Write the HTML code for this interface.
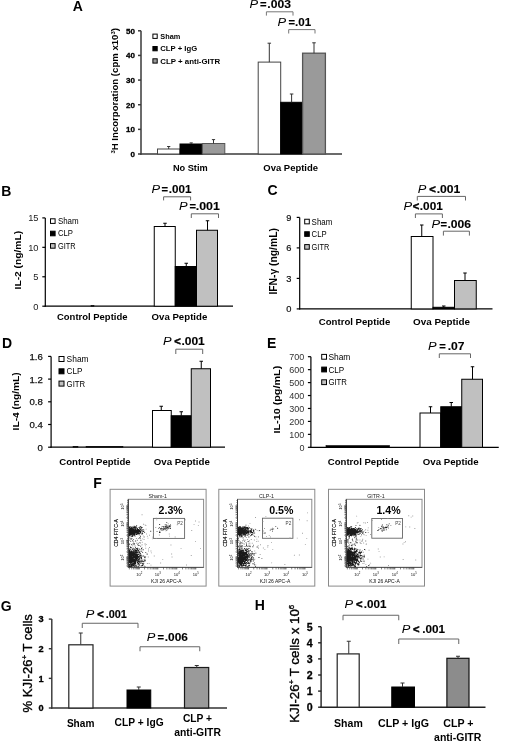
<!DOCTYPE html>
<html><head><meta charset="utf-8"><title>Figure</title>
<style>
html,body{margin:0;padding:0;background:#fff;}
body{width:520px;height:741px;overflow:hidden;}
svg{display:block;font-family:"Liberation Sans",sans-serif;filter:grayscale(1);}
</style></head><body>
<svg width="520" height="741" viewBox="0 0 520 741">
<rect width="520" height="741" fill="#fff"/>
<text x="72.8" y="11" font-size="14" font-weight="bold" text-anchor="start" fill="#000" >A</text>
<line x1="141" y1="30.8" x2="141" y2="154.7" stroke="#3a3a3a" stroke-width="1.5"/>
<line x1="140.3" y1="154" x2="342" y2="154" stroke="#3a3a3a" stroke-width="1.5"/>
<line x1="138" y1="30.8" x2="141" y2="30.8" stroke="#3a3a3a" stroke-width="1.5"/>
<text x="135" y="33.68" font-size="8" font-weight="bold" text-anchor="end" fill="#000"  stroke="#000" stroke-width="0.3">50</text>
<line x1="138" y1="55.44" x2="141" y2="55.44" stroke="#3a3a3a" stroke-width="1.5"/>
<text x="135" y="58.32" font-size="8" font-weight="bold" text-anchor="end" fill="#000"  stroke="#000" stroke-width="0.3">40</text>
<line x1="138" y1="80.08" x2="141" y2="80.08" stroke="#3a3a3a" stroke-width="1.5"/>
<text x="135" y="82.96" font-size="8" font-weight="bold" text-anchor="end" fill="#000"  stroke="#000" stroke-width="0.3">30</text>
<line x1="138" y1="104.72" x2="141" y2="104.72" stroke="#3a3a3a" stroke-width="1.5"/>
<text x="135" y="107.6" font-size="8" font-weight="bold" text-anchor="end" fill="#000"  stroke="#000" stroke-width="0.3">20</text>
<line x1="138" y1="129.36" x2="141" y2="129.36" stroke="#3a3a3a" stroke-width="1.5"/>
<text x="135" y="132.24" font-size="8" font-weight="bold" text-anchor="end" fill="#000"  stroke="#000" stroke-width="0.3">10</text>
<line x1="138" y1="154" x2="141" y2="154" stroke="#3a3a3a" stroke-width="1.5"/>
<text x="135" y="156.88" font-size="8" font-weight="bold" text-anchor="end" fill="#000"  stroke="#000" stroke-width="0.3">0</text>
<rect x="157.5" y="149" width="22.5" height="5" fill="#fff" stroke="#444" stroke-width="1"/>
<rect x="180" y="144" width="22.3" height="10" fill="#000" stroke="#000" stroke-width="1"/>
<rect x="202.3" y="143.5" width="22.5" height="10.5" fill="#9a9a9a" stroke="#555" stroke-width="1"/>
<path d="M168.7 149V146.5M167.1 146.5H170.3" stroke="#333" stroke-width="1" fill="none"/>
<path d="M191.2 144V142.9M189.6 142.9H192.8" stroke="#333" stroke-width="1" fill="none"/>
<path d="M213.5 143.5V139.6M211.9 139.6H215.1" stroke="#333" stroke-width="1" fill="none"/>
<rect x="258.2" y="62.1" width="22.5" height="91.9" fill="#fff" stroke="#444" stroke-width="1"/>
<rect x="280.7" y="102.3" width="21.9" height="51.7" fill="#000" stroke="#000" stroke-width="1"/>
<rect x="302.6" y="53.2" width="22.8" height="100.8" fill="#9a9a9a" stroke="#555" stroke-width="1.3"/>
<path d="M269.3 62.1V43.2M267.55 43.2H271.05" stroke="#333" stroke-width="1" fill="none"/>
<path d="M291.6 102.3V94M289.85 94H293.35" stroke="#333" stroke-width="1" fill="none"/>
<path d="M314 53.2V42.8M312.25 42.8H315.75" stroke="#333" stroke-width="1" fill="none"/>
<rect x="152.9" y="34.1" width="4.3" height="4.3" fill="#fff" stroke="#000" stroke-width="1"/>
<text x="160.3" y="38.99" font-size="7.6" font-weight="bold" text-anchor="start" fill="#000" textLength="20" lengthAdjust="spacingAndGlyphs" >Sham</text>
<rect x="152.9" y="46.5" width="4.3" height="4.3" fill="#000" stroke="#000" stroke-width="1"/>
<text x="160.3" y="51.39" font-size="7.6" font-weight="bold" text-anchor="start" fill="#000" textLength="36.9" lengthAdjust="spacingAndGlyphs" >CLP + IgG</text>
<rect x="152.9" y="58.8" width="4.3" height="4.3" fill="#9a9a9a" stroke="#000" stroke-width="1"/>
<text x="160.3" y="63.69" font-size="7.6" font-weight="bold" text-anchor="start" fill="#000" textLength="60" lengthAdjust="spacingAndGlyphs" >CLP + anti-GITR</text>
<text x="172.9" y="171" font-size="9.2" font-weight="bold" text-anchor="start" fill="#000" textLength="34.8" lengthAdjust="spacingAndGlyphs" >No Stim</text>
<text x="263.3" y="171" font-size="9.4" font-weight="bold" text-anchor="start" fill="#000" textLength="54.7" lengthAdjust="spacingAndGlyphs" >Ova Peptide</text>
<text x="249.5" y="8.4" font-size="11.2" font-style="italic" textLength="8.6" lengthAdjust="spacingAndGlyphs">P</text>
<text x="259.9" y="8.4" font-size="11.2" font-weight="bold" stroke="#000" stroke-width="0.2">=</text>
<text x="267.3" y="8.4" font-size="11.2" font-weight="bold" stroke="#000" stroke-width="0.12" textLength="23.6" lengthAdjust="spacingAndGlyphs">.003</text>
<path d="M266.4 15.6V11.8H293V15.6" stroke="#777" stroke-width="1" fill="none"/>
<text x="277.5" y="25.6" font-size="11.2" font-style="italic" textLength="8.6" lengthAdjust="spacingAndGlyphs">P</text>
<text x="288.4" y="25.6" font-size="11.2" font-weight="bold" stroke="#000" stroke-width="0.2">=</text>
<text x="295.1" y="25.6" font-size="11.2" font-weight="bold" stroke="#000" stroke-width="0.12" textLength="16.1" lengthAdjust="spacingAndGlyphs">.01</text>
<path d="M288.7 33.5V29.6H315V33.5" stroke="#777" stroke-width="1" fill="none"/>
<text transform="translate(118.4,90.8) rotate(-90)" font-size="9.6" font-weight="bold" text-anchor="middle"><tspan font-size="6" dy="-3">3</tspan><tspan dy="3">H Incorporation (cpm x10</tspan><tspan font-size="6" dy="-3">3</tspan><tspan dy="3">)</tspan></text>
<text x="1.3" y="195.8" font-size="14" font-weight="bold" text-anchor="start" fill="#000" >B</text>
<line x1="45.3" y1="217.9" x2="45.3" y2="306.8" stroke="#000" stroke-width="1.2"/>
<line x1="44.7" y1="306.2" x2="233" y2="306.2" stroke="#000" stroke-width="1.2"/>
<line x1="42.3" y1="217.9" x2="45.3" y2="217.9" stroke="#000" stroke-width="1.2"/>
<text x="38.5" y="221.25" font-size="9.3" font-weight="normal" text-anchor="end" fill="#222" >15</text>
<line x1="42.3" y1="247.33" x2="45.3" y2="247.33" stroke="#000" stroke-width="1.2"/>
<text x="38.5" y="250.68" font-size="9.3" font-weight="normal" text-anchor="end" fill="#222" >10</text>
<line x1="42.3" y1="276.77" x2="45.3" y2="276.77" stroke="#000" stroke-width="1.2"/>
<text x="38.5" y="280.11" font-size="9.3" font-weight="normal" text-anchor="end" fill="#222" >5</text>
<line x1="42.3" y1="306.2" x2="45.3" y2="306.2" stroke="#000" stroke-width="1.2"/>
<text x="38.5" y="309.55" font-size="9.3" font-weight="normal" text-anchor="end" fill="#222" >0</text>
<rect x="91" y="305.5" width="3" height="0.7" fill="#000" stroke="#000" stroke-width="0.5"/>
<rect x="154.25" y="226.5" width="21" height="79.7" fill="#fff" stroke="#000" stroke-width="1"/>
<rect x="175.25" y="266.5" width="21.25" height="39.7" fill="#000" stroke="#000" stroke-width="1"/>
<rect x="196.5" y="230.25" width="21" height="75.95" fill="#c0c0c0" stroke="#000" stroke-width="1"/>
<path d="M165 226.5V223.25M163.25 223.25H166.75" stroke="#000" stroke-width="1" fill="none"/>
<path d="M186.25 266.5V263.25M184.5 263.25H188" stroke="#000" stroke-width="1" fill="none"/>
<path d="M207.5 230.25V220.75M205.75 220.75H209.25" stroke="#000" stroke-width="1" fill="none"/>
<rect x="50.5" y="218.8" width="4.6" height="4.6" fill="#fff" stroke="#000" stroke-width="1"/>
<text x="57.9" y="224.09" font-size="8.3" font-weight="normal" text-anchor="start" fill="#000" textLength="20.8" lengthAdjust="spacingAndGlyphs" >Sham</text>
<rect x="50.5" y="231.2" width="4.6" height="4.6" fill="#000" stroke="#000" stroke-width="1"/>
<text x="57.9" y="236.49" font-size="8.3" font-weight="normal" text-anchor="start" fill="#000" textLength="15" lengthAdjust="spacingAndGlyphs" >CLP</text>
<rect x="50.5" y="243.6" width="4.6" height="4.6" fill="#c0c0c0" stroke="#000" stroke-width="1"/>
<text x="57.9" y="248.89" font-size="8.3" font-weight="normal" text-anchor="start" fill="#000" textLength="17.7" lengthAdjust="spacingAndGlyphs" >GITR</text>
<text x="57" y="319.8" font-size="9.5" font-weight="bold" text-anchor="start" fill="#000" textLength="70.5" lengthAdjust="spacingAndGlyphs" >Control Peptide</text>
<text x="151.5" y="319.8" font-size="9.5" font-weight="bold" text-anchor="start" fill="#000" textLength="55.8" lengthAdjust="spacingAndGlyphs" >Ova Peptide</text>
<text x="151.5" y="192.6" font-size="11.2" font-style="italic" textLength="8.6" lengthAdjust="spacingAndGlyphs">P</text>
<text x="161.4" y="192.6" font-size="11.2" font-weight="bold" stroke="#000" stroke-width="0.2">=</text>
<text x="168.8" y="192.6" font-size="11.2" font-weight="bold" stroke="#000" stroke-width="0.12" textLength="22.7" lengthAdjust="spacingAndGlyphs">.001</text>
<path d="M163.6 200.4V196.8H190.6V200.4" stroke="#666" stroke-width="1" fill="none"/>
<text x="179" y="209.8" font-size="11.2" font-style="italic" textLength="8.6" lengthAdjust="spacingAndGlyphs">P</text>
<text x="189.4" y="209.8" font-size="11.2" font-weight="bold" stroke="#000" stroke-width="0.2">=</text>
<text x="195.8" y="209.8" font-size="11.2" font-weight="bold" stroke="#000" stroke-width="0.12" textLength="24.1" lengthAdjust="spacingAndGlyphs">.001</text>
<path d="M191.3 218V213.8H218.5V218" stroke="#666" stroke-width="1" fill="none"/>
<text transform="translate(20.8,260.15) rotate(-90)" x="0" y="0" font-size="9.8" font-weight="bold" text-anchor="middle" textLength="58.5" lengthAdjust="spacingAndGlyphs">IL-2 (ng/mL)</text>
<text x="267.4" y="195" font-size="14" font-weight="bold" text-anchor="start" fill="#000" >C</text>
<line x1="299.7" y1="217.4" x2="299.7" y2="309.5" stroke="#000" stroke-width="1.2"/>
<line x1="299.1" y1="308.9" x2="492.5" y2="308.9" stroke="#000" stroke-width="1.2"/>
<line x1="296.7" y1="217.4" x2="299.7" y2="217.4" stroke="#000" stroke-width="1.2"/>
<text x="291.5" y="220.75" font-size="9.3" font-weight="normal" text-anchor="end" fill="#111"  stroke="#111" stroke-width="0.2">9</text>
<line x1="296.7" y1="247.9" x2="299.7" y2="247.9" stroke="#000" stroke-width="1.2"/>
<text x="291.5" y="251.25" font-size="9.3" font-weight="normal" text-anchor="end" fill="#111"  stroke="#111" stroke-width="0.2">6</text>
<line x1="296.7" y1="278.4" x2="299.7" y2="278.4" stroke="#000" stroke-width="1.2"/>
<text x="291.5" y="281.75" font-size="9.3" font-weight="normal" text-anchor="end" fill="#111"  stroke="#111" stroke-width="0.2">3</text>
<line x1="296.7" y1="308.9" x2="299.7" y2="308.9" stroke="#000" stroke-width="1.2"/>
<text x="291.5" y="312.25" font-size="9.3" font-weight="normal" text-anchor="end" fill="#111"  stroke="#111" stroke-width="0.2">0</text>
<rect x="411.25" y="236.5" width="21.75" height="72.4" fill="#fff" stroke="#000" stroke-width="1"/>
<rect x="433" y="307.3" width="21.5" height="1.6" fill="#000" stroke="#000" stroke-width="1"/>
<rect x="454.5" y="280.5" width="21.75" height="28.4" fill="#c0c0c0" stroke="#000" stroke-width="1"/>
<path d="M421.75 236.5V225M420 225H423.5" stroke="#000" stroke-width="1" fill="none"/>
<path d="M443.75 307.3V306M442 306H445.5" stroke="#000" stroke-width="1" fill="none"/>
<path d="M465 280.5V273M463.25 273H466.75" stroke="#000" stroke-width="1" fill="none"/>
<rect x="304.7" y="219.25" width="4.6" height="4.6" fill="#fff" stroke="#000" stroke-width="1"/>
<text x="311.6" y="224.54" font-size="8.3" font-weight="normal" text-anchor="start" fill="#000" textLength="20.8" lengthAdjust="spacingAndGlyphs" >Sham</text>
<rect x="304.7" y="231.75" width="4.6" height="4.6" fill="#000" stroke="#000" stroke-width="1"/>
<text x="311.6" y="237.04" font-size="8.3" font-weight="normal" text-anchor="start" fill="#000" textLength="15" lengthAdjust="spacingAndGlyphs" >CLP</text>
<rect x="304.7" y="244.6" width="4.6" height="4.6" fill="#c0c0c0" stroke="#000" stroke-width="1"/>
<text x="311.6" y="249.89" font-size="8.3" font-weight="normal" text-anchor="start" fill="#000" textLength="17.7" lengthAdjust="spacingAndGlyphs" >GITR</text>
<text x="318.8" y="324.9" font-size="9.5" font-weight="bold" text-anchor="start" fill="#000" textLength="71.5" lengthAdjust="spacingAndGlyphs" >Control Peptide</text>
<text x="413" y="324.9" font-size="9.5" font-weight="bold" text-anchor="start" fill="#000" textLength="57" lengthAdjust="spacingAndGlyphs" >Ova Peptide</text>
<text x="417.8" y="192.6" font-size="11.2" font-style="italic" textLength="8.6" lengthAdjust="spacingAndGlyphs">P</text>
<text x="429.3" y="192.6" font-size="11.2" font-weight="bold" stroke="#000" stroke-width="0.45">&lt;</text>
<text x="436.7" y="192.6" font-size="11.2" font-weight="bold" stroke="#000" stroke-width="0.12" textLength="23.6" lengthAdjust="spacingAndGlyphs">.001</text>
<path d="M417.3 200.5V196.4H465.5V200.5" stroke="#666" stroke-width="1" fill="none"/>
<text x="403.5" y="210.4" font-size="11.2" font-style="italic" textLength="8.6" lengthAdjust="spacingAndGlyphs">P</text>
<text x="412.7" y="210.4" font-size="11.2" font-weight="bold" stroke="#000" stroke-width="0.45">&lt;</text>
<text x="419.85" y="210.4" font-size="11.2" font-weight="bold" stroke="#000" stroke-width="0.12" textLength="22.95" lengthAdjust="spacingAndGlyphs">.001</text>
<path d="M415.4 218V213.9H442.4V218" stroke="#666" stroke-width="1" fill="none"/>
<text x="431.5" y="227.5" font-size="11.2" font-style="italic" textLength="8.6" lengthAdjust="spacingAndGlyphs">P</text>
<text x="440.5" y="227.5" font-size="11.2" font-weight="bold" stroke="#000" stroke-width="0.2">=</text>
<text x="447.4" y="227.5" font-size="11.2" font-weight="bold" stroke="#000" stroke-width="0.12" textLength="23.6" lengthAdjust="spacingAndGlyphs">.006</text>
<path d="M443.4 235.6V231.2H469.4V235.6" stroke="#666" stroke-width="1" fill="none"/>
<text transform="translate(276.8,261.35) rotate(-90)" x="0" y="0" font-size="10.3" font-weight="bold" text-anchor="middle" textLength="66.5" lengthAdjust="spacingAndGlyphs">IFN-γ (ng/mL)</text>
<text x="1.9" y="347.7" font-size="14" font-weight="bold" text-anchor="start" fill="#000" >D</text>
<line x1="51.1" y1="356.4" x2="51.1" y2="447.8" stroke="#000" stroke-width="1.2"/>
<line x1="50.5" y1="447.2" x2="225" y2="447.2" stroke="#000" stroke-width="1.2"/>
<line x1="48.1" y1="356.4" x2="51.1" y2="356.4" stroke="#000" stroke-width="1.2"/>
<text x="42.8" y="359.86" font-size="9.6" font-weight="normal" text-anchor="end" fill="#111"  stroke="#111" stroke-width="0.25">1.6</text>
<line x1="48.1" y1="379.1" x2="51.1" y2="379.1" stroke="#000" stroke-width="1.2"/>
<text x="42.8" y="382.56" font-size="9.6" font-weight="normal" text-anchor="end" fill="#111"  stroke="#111" stroke-width="0.25">1.2</text>
<line x1="48.1" y1="401.8" x2="51.1" y2="401.8" stroke="#000" stroke-width="1.2"/>
<text x="42.8" y="405.26" font-size="9.6" font-weight="normal" text-anchor="end" fill="#111"  stroke="#111" stroke-width="0.25">0.8</text>
<line x1="48.1" y1="424.5" x2="51.1" y2="424.5" stroke="#000" stroke-width="1.2"/>
<text x="42.8" y="427.96" font-size="9.6" font-weight="normal" text-anchor="end" fill="#111"  stroke="#111" stroke-width="0.25">0.4</text>
<line x1="48.1" y1="447.2" x2="51.1" y2="447.2" stroke="#000" stroke-width="1.2"/>
<text x="42.8" y="450.66" font-size="9.6" font-weight="normal" text-anchor="end" fill="#111"  stroke="#111" stroke-width="0.25">0</text>
<rect x="73" y="446.3" width="5" height="0.9" fill="#000" stroke="#000" stroke-width="0.5"/>
<rect x="86" y="446.3" width="37" height="0.9" fill="#000" stroke="#000" stroke-width="0.5"/>
<rect x="152.5" y="410.5" width="18.75" height="36.7" fill="#fff" stroke="#000" stroke-width="1"/>
<rect x="171.25" y="415.75" width="20" height="31.45" fill="#000" stroke="#000" stroke-width="1"/>
<rect x="191.25" y="368.75" width="19.25" height="78.45" fill="#c0c0c0" stroke="#000" stroke-width="1"/>
<path d="M161.25 410.5V406.25M159.5 406.25H163" stroke="#000" stroke-width="1" fill="none"/>
<path d="M181.25 415.75V411.75M179.5 411.75H183" stroke="#000" stroke-width="1" fill="none"/>
<path d="M201.25 368.75V361.25M199.5 361.25H203" stroke="#000" stroke-width="1" fill="none"/>
<rect x="59" y="356.5" width="5" height="5" fill="#fff" stroke="#000" stroke-width="1"/>
<text x="66.6" y="362.17" font-size="8.8" font-weight="normal" text-anchor="start" fill="#000" textLength="22" lengthAdjust="spacingAndGlyphs" >Sham</text>
<rect x="59" y="368.8" width="5" height="5" fill="#000" stroke="#000" stroke-width="1"/>
<text x="66.6" y="374.47" font-size="8.8" font-weight="normal" text-anchor="start" fill="#000" textLength="15.8" lengthAdjust="spacingAndGlyphs" >CLP</text>
<rect x="59" y="381.1" width="5" height="5" fill="#c0c0c0" stroke="#000" stroke-width="1"/>
<text x="66.6" y="386.77" font-size="8.8" font-weight="normal" text-anchor="start" fill="#000" textLength="18.6" lengthAdjust="spacingAndGlyphs" >GITR</text>
<text x="59.3" y="464.6" font-size="9.5" font-weight="bold" text-anchor="start" fill="#000" textLength="71.3" lengthAdjust="spacingAndGlyphs" >Control Peptide</text>
<text x="153.8" y="464.6" font-size="9.5" font-weight="bold" text-anchor="start" fill="#000" textLength="56" lengthAdjust="spacingAndGlyphs" >Ova Peptide</text>
<text x="163.1" y="345.3" font-size="11.2" font-style="italic" textLength="8.6" lengthAdjust="spacingAndGlyphs">P</text>
<text x="174.3" y="345.3" font-size="11.2" font-weight="bold" stroke="#000" stroke-width="0.45">&lt;</text>
<text x="181.4" y="345.3" font-size="11.2" font-weight="bold" stroke="#000" stroke-width="0.12" textLength="23.4" lengthAdjust="spacingAndGlyphs">.001</text>
<path d="M175.8 354V349.2H202.7V354" stroke="#666" stroke-width="1" fill="none"/>
<text transform="translate(18.6,401.4) rotate(-90)" x="0" y="0" font-size="9.6" font-weight="bold" text-anchor="middle" textLength="58" lengthAdjust="spacingAndGlyphs">IL-4 (ng/mL)</text>
<text x="267.1" y="347.7" font-size="14" font-weight="bold" text-anchor="start" fill="#000" >E</text>
<line x1="310.9" y1="356.7" x2="310.9" y2="447.9" stroke="#000" stroke-width="1.2"/>
<line x1="310.3" y1="447.3" x2="498.75" y2="447.3" stroke="#000" stroke-width="1.2"/>
<line x1="307.9" y1="356.7" x2="310.9" y2="356.7" stroke="#000" stroke-width="1.2"/>
<text x="304.4" y="359.94" font-size="9" font-weight="normal" text-anchor="end" fill="#333" >700</text>
<line x1="307.9" y1="369.64" x2="310.9" y2="369.64" stroke="#000" stroke-width="1.2"/>
<text x="304.4" y="372.88" font-size="9" font-weight="normal" text-anchor="end" fill="#333" >600</text>
<line x1="307.9" y1="382.59" x2="310.9" y2="382.59" stroke="#000" stroke-width="1.2"/>
<text x="304.4" y="385.83" font-size="9" font-weight="normal" text-anchor="end" fill="#333" >500</text>
<line x1="307.9" y1="395.53" x2="310.9" y2="395.53" stroke="#000" stroke-width="1.2"/>
<text x="304.4" y="398.77" font-size="9" font-weight="normal" text-anchor="end" fill="#333" >400</text>
<line x1="307.9" y1="408.47" x2="310.9" y2="408.47" stroke="#000" stroke-width="1.2"/>
<text x="304.4" y="411.71" font-size="9" font-weight="normal" text-anchor="end" fill="#333" >300</text>
<line x1="307.9" y1="421.41" x2="310.9" y2="421.41" stroke="#000" stroke-width="1.2"/>
<text x="304.4" y="424.65" font-size="9" font-weight="normal" text-anchor="end" fill="#333" >200</text>
<line x1="307.9" y1="434.36" x2="310.9" y2="434.36" stroke="#000" stroke-width="1.2"/>
<text x="304.4" y="437.6" font-size="9" font-weight="normal" text-anchor="end" fill="#333" >100</text>
<line x1="307.9" y1="447.3" x2="310.9" y2="447.3" stroke="#000" stroke-width="1.2"/>
<text x="304.4" y="450.54" font-size="9" font-weight="normal" text-anchor="end" fill="#333" >0</text>
<rect x="326" y="445.6" width="63.5" height="1.7" fill="#000" stroke="#000" stroke-width="0.6"/>
<rect x="420" y="413" width="20.75" height="34.3" fill="#fff" stroke="#000" stroke-width="1"/>
<rect x="440.75" y="406.75" width="21" height="40.55" fill="#000" stroke="#000" stroke-width="1"/>
<rect x="461.75" y="379.25" width="20.75" height="68.05" fill="#c0c0c0" stroke="#000" stroke-width="1"/>
<path d="M430.5 413V406.75M428.75 406.75H432.25" stroke="#000" stroke-width="1" fill="none"/>
<path d="M451.25 406.75V402.5M449.5 402.5H453" stroke="#000" stroke-width="1" fill="none"/>
<path d="M472.5 379.25V366.75M470.75 366.75H474.25" stroke="#000" stroke-width="1" fill="none"/>
<rect x="321.7" y="354.4" width="4.8" height="4.8" fill="#fff" stroke="#000" stroke-width="1"/>
<text x="328.4" y="359.97" font-size="8.8" font-weight="normal" text-anchor="start" fill="#000" textLength="22" lengthAdjust="spacingAndGlyphs" >Sham</text>
<rect x="321.7" y="367.1" width="4.8" height="4.8" fill="#000" stroke="#000" stroke-width="1"/>
<text x="328.4" y="372.67" font-size="8.8" font-weight="normal" text-anchor="start" fill="#000" textLength="15.8" lengthAdjust="spacingAndGlyphs" >CLP</text>
<rect x="321.7" y="379.8" width="4.8" height="4.8" fill="#c0c0c0" stroke="#000" stroke-width="1"/>
<text x="328.4" y="385.37" font-size="8.8" font-weight="normal" text-anchor="start" fill="#000" textLength="18.6" lengthAdjust="spacingAndGlyphs" >GITR</text>
<text x="327.8" y="464.6" font-size="9.5" font-weight="bold" text-anchor="start" fill="#000" textLength="71.2" lengthAdjust="spacingAndGlyphs" >Control Peptide</text>
<text x="422.8" y="464.6" font-size="9.5" font-weight="bold" text-anchor="start" fill="#000" textLength="55.8" lengthAdjust="spacingAndGlyphs" >Ova Peptide</text>
<text x="427.9" y="350.1" font-size="11.2" font-style="italic" textLength="8.6" lengthAdjust="spacingAndGlyphs">P</text>
<text x="439.3" y="350.1" font-size="11.2" font-weight="bold" stroke="#000" stroke-width="0.2">=</text>
<text x="447.7" y="350.1" font-size="11.2" font-weight="bold" stroke="#000" stroke-width="0.12" textLength="16.8" lengthAdjust="spacingAndGlyphs">.07</text>
<path d="M439.3 358V353.8H470.5V358" stroke="#666" stroke-width="1" fill="none"/>
<text transform="translate(280.2,399.65) rotate(-90)" x="0" y="0" font-size="9.8" font-weight="bold" text-anchor="middle" textLength="67.9" lengthAdjust="spacingAndGlyphs">IL-10 (pg/mL)</text>
<text x="93.2" y="487.9" font-size="14" font-weight="bold" text-anchor="start" fill="#000" >F</text>
<rect x="110.1" y="489.3" width="96" height="96.8" fill="#fff" stroke="#8a8a8a" stroke-width="1"/>
<rect x="128.3" y="499.3" width="75.3" height="68.1" fill="#fff" stroke="#8a8a8a" stroke-width="1"/>
<text x="157.75" y="498.1" font-size="5.3" font-weight="normal" text-anchor="middle" fill="#222" >Sham-1</text>
<text x="170.7" y="513.6" font-size="10.6" font-weight="bold" text-anchor="middle" fill="#000" >2.3%</text>
<rect x="153.4" y="518.4" width="31.2" height="20" fill="none" stroke="#666" stroke-width="0.9"/>
<text x="180.1" y="524.7" font-size="4.6" font-weight="normal" text-anchor="middle" fill="#444" >P2</text>
<path d="M130.3 541.0h.9v.9h-.9zM133.2 541.5h.9v.9h-.9zM137.1 544.3h.9v.9h-.9zM139.8 542.6h.9v.9h-.9zM139.2 537.1h.9v.9h-.9zM131.1 543.9h.9v.9h-.9zM139.3 541.9h.9v.9h-.9zM139.6 538.1h.9v.9h-.9zM132.2 540.1h.9v.9h-.9zM137.5 542.7h.9v.9h-.9zM140.4 539.7h.9v.9h-.9zM136.9 539.8h.9v.9h-.9zM129.4 539.9h.9v.9h-.9zM138.2 538.2h.9v.9h-.9zM130.4 537.8h.9v.9h-.9zM129.1 544.1h.9v.9h-.9zM130.9 544.3h.9v.9h-.9zM130.7 539.1h.9v.9h-.9zM137.9 542.9h.9v.9h-.9zM130.4 538.5h.9v.9h-.9zM128.7 544.3h.9v.9h-.9zM128.9 538.4h.9v.9h-.9zM132.9 543.2h.9v.9h-.9zM132.9 539.1h.9v.9h-.9zM133.6 544.2h.9v.9h-.9zM132.4 543.5h.9v.9h-.9zM132.3 545.4h.9v.9h-.9zM139.9 537.6h.9v.9h-.9zM134.6 545.6h.9v.9h-.9zM143.8 536.4h.9v.9h-.9zM131.3 537.9h.9v.9h-.9zM144.6 543.6h.9v.9h-.9zM132.3 540.6h.9v.9h-.9zM140.5 540.2h.9v.9h-.9zM135.9 542.7h.9v.9h-.9zM135.9 538.2h.9v.9h-.9zM131.6 537.9h.9v.9h-.9zM129.6 546.0h.9v.9h-.9zM129.3 543.2h.9v.9h-.9zM143.6 536.5h.9v.9h-.9zM141.6 544.4h.9v.9h-.9zM140.0 545.9h.9v.9h-.9zM133.4 543.4h.9v.9h-.9zM138.7 545.1h.9v.9h-.9zM130.3 538.4h.9v.9h-.9zM162.5 528.2h.9v.9h-.9zM156.6 531.1h.9v.9h-.9zM160.4 528.7h.9v.9h-.9zM161.9 528.2h.9v.9h-.9zM163.2 528.1h.9v.9h-.9zM158.3 528.1h.9v.9h-.9zM168.7 526.0h.9v.9h-.9zM163.0 526.9h.9v.9h-.9zM168.9 527.7h.9v.9h-.9zM161.0 528.5h.9v.9h-.9zM163.3 528.3h.9v.9h-.9zM165.0 528.2h.9v.9h-.9zM169.1 525.3h.9v.9h-.9zM160.3 528.7h.9v.9h-.9zM161.2 528.1h.9v.9h-.9zM166.3 527.9h.9v.9h-.9zM166.3 530.1h.9v.9h-.9zM159.0 530.8h.9v.9h-.9zM169.2 526.2h.9v.9h-.9zM168.6 525.1h.9v.9h-.9zM170.1 524.3h.9v.9h-.9zM167.9 526.2h.9v.9h-.9zM165.4 526.2h.9v.9h-.9zM165.4 527.4h.9v.9h-.9zM167.7 523.4h.9v.9h-.9zM161.9 529.7h.9v.9h-.9zM164.1 527.4h.9v.9h-.9zM163.8 529.2h.9v.9h-.9zM165.2 528.3h.9v.9h-.9zM164.7 524.3h.9v.9h-.9z" fill="#666"/>
<path d="M129.3 533.5h.9v.9h-.9zM134.3 533.0h.9v.9h-.9zM130.3 530.5h.9v.9h-.9zM140.1 531.3h.9v.9h-.9zM129.0 532.5h.9v.9h-.9zM135.5 530.9h.9v.9h-.9zM132.2 529.1h.9v.9h-.9zM130.9 530.1h.9v.9h-.9zM136.7 528.0h.9v.9h-.9zM138.5 530.5h.9v.9h-.9zM129.7 530.4h.9v.9h-.9zM129.1 528.3h.9v.9h-.9zM129.2 531.5h.9v.9h-.9zM133.2 529.3h.9v.9h-.9zM131.1 527.0h.9v.9h-.9zM131.7 526.6h.9v.9h-.9zM137.2 533.2h.9v.9h-.9zM141.9 532.6h.9v.9h-.9zM130.7 530.4h.9v.9h-.9zM131.5 532.1h.9v.9h-.9zM135.0 530.5h.9v.9h-.9zM132.3 529.8h.9v.9h-.9zM134.6 530.9h.9v.9h-.9zM133.4 533.1h.9v.9h-.9zM139.9 528.8h.9v.9h-.9zM134.4 526.8h.9v.9h-.9zM140.1 526.2h.9v.9h-.9zM130.4 529.9h.9v.9h-.9zM138.6 527.0h.9v.9h-.9zM135.1 529.5h.9v.9h-.9zM129.6 529.7h.9v.9h-.9zM132.5 528.7h.9v.9h-.9zM129.2 531.7h.9v.9h-.9zM139.7 526.2h.9v.9h-.9zM137.9 532.9h.9v.9h-.9zM131.6 531.6h.9v.9h-.9zM131.5 534.3h.9v.9h-.9zM130.0 530.6h.9v.9h-.9zM130.1 530.6h.9v.9h-.9zM129.8 529.2h.9v.9h-.9zM141.1 527.2h.9v.9h-.9zM150.3 530.8h.9v.9h-.9zM129.6 531.7h.9v.9h-.9zM129.9 530.7h.9v.9h-.9zM130.7 532.9h.9v.9h-.9zM131.4 530.3h.9v.9h-.9zM140.3 532.1h.9v.9h-.9zM134.6 535.6h.9v.9h-.9zM133.4 529.8h.9v.9h-.9zM135.7 531.6h.9v.9h-.9zM133.7 528.9h.9v.9h-.9zM136.5 530.0h.9v.9h-.9zM135.3 530.1h.9v.9h-.9zM137.4 532.3h.9v.9h-.9zM129.1 532.7h.9v.9h-.9zM135.9 530.7h.9v.9h-.9zM129.6 530.9h.9v.9h-.9zM135.5 532.3h.9v.9h-.9zM136.9 531.3h.9v.9h-.9zM130.1 530.5h.9v.9h-.9zM133.4 529.4h.9v.9h-.9zM131.1 529.3h.9v.9h-.9zM131.3 527.8h.9v.9h-.9zM130.8 531.1h.9v.9h-.9zM135.6 526.4h.9v.9h-.9zM128.7 533.2h.9v.9h-.9zM133.1 530.0h.9v.9h-.9zM132.1 532.3h.9v.9h-.9zM134.2 533.0h.9v.9h-.9zM130.5 532.8h.9v.9h-.9zM128.9 530.5h.9v.9h-.9zM137.6 529.6h.9v.9h-.9zM130.3 532.3h.9v.9h-.9zM130.2 529.6h.9v.9h-.9zM131.2 533.0h.9v.9h-.9zM129.6 530.1h.9v.9h-.9zM131.1 532.6h.9v.9h-.9zM131.9 529.1h.9v.9h-.9zM130.9 530.0h.9v.9h-.9zM133.2 533.5h.9v.9h-.9zM133.6 529.6h.9v.9h-.9zM129.2 532.0h.9v.9h-.9zM132.5 530.8h.9v.9h-.9zM132.7 527.4h.9v.9h-.9zM130.7 532.5h.9v.9h-.9zM131.7 528.3h.9v.9h-.9zM130.6 529.3h.9v.9h-.9zM132.1 532.2h.9v.9h-.9zM130.0 529.5h.9v.9h-.9zM132.2 532.7h.9v.9h-.9zM134.1 532.0h.9v.9h-.9zM131.8 530.4h.9v.9h-.9zM143.1 531.1h.9v.9h-.9zM141.6 527.0h.9v.9h-.9zM142.2 533.0h.9v.9h-.9zM132.5 530.4h.9v.9h-.9zM129.0 527.2h.9v.9h-.9zM132.5 528.9h.9v.9h-.9zM130.0 532.8h.9v.9h-.9zM129.0 531.7h.9v.9h-.9zM132.9 530.1h.9v.9h-.9zM129.4 530.4h.9v.9h-.9zM136.3 529.2h.9v.9h-.9zM140.0 529.0h.9v.9h-.9zM135.1 529.5h.9v.9h-.9zM138.6 531.3h.9v.9h-.9zM131.1 532.5h.9v.9h-.9zM132.5 528.9h.9v.9h-.9zM140.9 533.4h.9v.9h-.9zM132.9 529.8h.9v.9h-.9zM128.9 535.0h.9v.9h-.9zM139.1 531.5h.9v.9h-.9zM131.1 532.1h.9v.9h-.9zM139.5 530.2h.9v.9h-.9zM133.7 534.1h.9v.9h-.9zM138.3 529.3h.9v.9h-.9zM129.0 530.8h.9v.9h-.9zM137.0 528.1h.9v.9h-.9zM133.2 531.5h.9v.9h-.9zM129.6 533.4h.9v.9h-.9zM134.7 532.1h.9v.9h-.9zM128.8 530.9h.9v.9h-.9zM131.6 531.4h.9v.9h-.9zM130.3 531.5h.9v.9h-.9zM140.3 530.4h.9v.9h-.9zM134.8 532.2h.9v.9h-.9zM130.8 532.6h.9v.9h-.9zM133.8 533.3h.9v.9h-.9zM133.6 530.0h.9v.9h-.9zM130.6 532.7h.9v.9h-.9zM134.1 532.8h.9v.9h-.9zM129.9 529.1h.9v.9h-.9zM132.0 531.6h.9v.9h-.9zM134.4 532.9h.9v.9h-.9zM129.9 529.1h.9v.9h-.9zM131.3 528.3h.9v.9h-.9zM134.0 531.8h.9v.9h-.9zM138.0 531.1h.9v.9h-.9zM136.8 532.5h.9v.9h-.9zM133.1 531.4h.9v.9h-.9zM137.7 530.3h.9v.9h-.9zM134.4 531.9h.9v.9h-.9zM139.7 532.8h.9v.9h-.9zM134.1 530.2h.9v.9h-.9zM137.2 528.9h.9v.9h-.9zM129.2 533.2h.9v.9h-.9zM136.6 533.6h.9v.9h-.9zM135.3 527.4h.9v.9h-.9zM131.0 528.1h.9v.9h-.9zM129.5 528.4h.9v.9h-.9zM135.1 532.6h.9v.9h-.9zM132.0 531.0h.9v.9h-.9zM129.0 530.4h.9v.9h-.9zM131.0 531.5h.9v.9h-.9zM131.5 530.1h.9v.9h-.9zM140.1 531.6h.9v.9h-.9zM137.1 533.7h.9v.9h-.9zM134.0 527.6h.9v.9h-.9zM136.2 530.2h.9v.9h-.9zM129.2 530.5h.9v.9h-.9zM129.5 528.6h.9v.9h-.9zM129.3 530.1h.9v.9h-.9zM128.8 526.3h.9v.9h-.9zM133.6 531.7h.9v.9h-.9zM139.1 529.5h.9v.9h-.9zM128.9 532.3h.9v.9h-.9zM128.7 533.8h.9v.9h-.9zM128.8 529.0h.9v.9h-.9zM132.8 532.5h.9v.9h-.9zM132.4 532.7h.9v.9h-.9zM134.8 532.2h.9v.9h-.9zM134.8 530.7h.9v.9h-.9zM128.8 529.8h.9v.9h-.9zM132.4 527.9h.9v.9h-.9zM132.0 528.9h.9v.9h-.9zM137.3 531.3h.9v.9h-.9zM131.4 530.3h.9v.9h-.9zM136.9 532.9h.9v.9h-.9zM135.0 529.8h.9v.9h-.9zM137.7 532.1h.9v.9h-.9zM130.5 532.5h.9v.9h-.9zM131.2 533.5h.9v.9h-.9zM130.4 532.3h.9v.9h-.9zM134.1 526.4h.9v.9h-.9zM131.4 534.0h.9v.9h-.9zM138.8 533.0h.9v.9h-.9zM132.8 530.2h.9v.9h-.9zM129.0 531.4h.9v.9h-.9zM134.5 531.3h.9v.9h-.9zM131.4 532.7h.9v.9h-.9zM133.2 534.1h.9v.9h-.9zM140.1 535.8h.9v.9h-.9zM136.7 531.3h.9v.9h-.9zM139.9 531.8h.9v.9h-.9zM132.0 528.7h.9v.9h-.9zM138.2 531.4h.9v.9h-.9zM132.5 529.4h.9v.9h-.9zM130.3 525.9h.9v.9h-.9zM132.9 531.3h.9v.9h-.9zM129.6 534.2h.9v.9h-.9zM135.5 526.5h.9v.9h-.9zM131.4 529.8h.9v.9h-.9zM130.4 532.4h.9v.9h-.9zM132.3 533.9h.9v.9h-.9zM136.8 527.7h.9v.9h-.9zM129.1 535.0h.9v.9h-.9zM131.1 532.9h.9v.9h-.9zM129.0 530.2h.9v.9h-.9zM138.2 533.1h.9v.9h-.9zM130.2 532.8h.9v.9h-.9zM136.6 529.5h.9v.9h-.9zM134.1 531.1h.9v.9h-.9zM135.1 531.9h.9v.9h-.9zM130.7 533.6h.9v.9h-.9zM134.4 530.4h.9v.9h-.9zM131.6 530.7h.9v.9h-.9zM130.1 533.9h.9v.9h-.9zM138.2 533.7h.9v.9h-.9zM131.0 530.5h.9v.9h-.9zM134.1 530.3h.9v.9h-.9zM130.1 527.7h.9v.9h-.9zM131.2 533.9h.9v.9h-.9zM134.9 528.0h.9v.9h-.9zM129.7 534.3h.9v.9h-.9zM137.4 530.3h.9v.9h-.9zM131.6 530.8h.9v.9h-.9zM134.3 531.1h.9v.9h-.9zM130.5 528.0h.9v.9h-.9zM132.2 530.5h.9v.9h-.9zM133.9 528.8h.9v.9h-.9zM134.1 534.8h.9v.9h-.9zM130.4 530.2h.9v.9h-.9zM131.7 530.5h.9v.9h-.9zM133.4 533.8h.9v.9h-.9zM134.9 529.5h.9v.9h-.9zM132.7 529.2h.9v.9h-.9zM130.1 532.2h.9v.9h-.9zM137.3 532.3h.9v.9h-.9zM128.9 528.5h.9v.9h-.9zM129.1 529.1h.9v.9h-.9zM129.3 533.0h.9v.9h-.9zM129.9 530.6h.9v.9h-.9zM133.2 531.0h.9v.9h-.9zM129.4 529.1h.9v.9h-.9zM131.7 532.8h.9v.9h-.9zM138.7 530.1h.9v.9h-.9zM135.7 534.1h.9v.9h-.9zM132.3 532.0h.9v.9h-.9zM131.1 531.6h.9v.9h-.9zM130.5 527.8h.9v.9h-.9zM130.2 532.2h.9v.9h-.9zM137.3 532.6h.9v.9h-.9zM132.7 528.0h.9v.9h-.9zM131.5 530.4h.9v.9h-.9zM131.9 531.8h.9v.9h-.9zM136.4 530.6h.9v.9h-.9zM130.1 532.4h.9v.9h-.9zM129.0 530.5h.9v.9h-.9zM132.8 527.0h.9v.9h-.9zM134.3 530.4h.9v.9h-.9zM136.2 530.1h.9v.9h-.9zM139.7 526.9h.9v.9h-.9zM130.7 529.4h.9v.9h-.9zM133.1 529.2h.9v.9h-.9zM136.5 529.1h.9v.9h-.9zM139.0 531.1h.9v.9h-.9zM132.4 529.0h.9v.9h-.9zM135.3 530.7h.9v.9h-.9zM131.3 533.3h.9v.9h-.9zM135.6 531.5h.9v.9h-.9zM132.7 529.3h.9v.9h-.9zM142.6 529.0h.9v.9h-.9zM131.2 530.3h.9v.9h-.9zM130.9 528.3h.9v.9h-.9zM134.1 531.6h.9v.9h-.9zM129.0 531.8h.9v.9h-.9zM142.1 529.9h.9v.9h-.9zM134.1 534.6h.9v.9h-.9zM129.8 530.0h.9v.9h-.9zM133.8 528.9h.9v.9h-.9zM137.2 529.6h.9v.9h-.9zM129.1 529.2h.9v.9h-.9zM133.5 526.7h.9v.9h-.9zM132.8 529.4h.9v.9h-.9zM129.0 528.7h.9v.9h-.9zM130.1 531.4h.9v.9h-.9zM132.2 531.6h.9v.9h-.9zM132.4 533.0h.9v.9h-.9zM131.0 528.6h.9v.9h-.9zM136.4 532.4h.9v.9h-.9zM131.0 533.1h.9v.9h-.9zM129.0 529.0h.9v.9h-.9zM134.1 534.9h.9v.9h-.9zM129.8 529.1h.9v.9h-.9zM133.8 532.8h.9v.9h-.9zM132.2 530.2h.9v.9h-.9zM132.8 531.0h.9v.9h-.9zM129.4 529.9h.9v.9h-.9zM132.5 531.3h.9v.9h-.9zM129.6 532.2h.9v.9h-.9zM131.7 531.7h.9v.9h-.9zM131.6 531.2h.9v.9h-.9zM132.1 533.0h.9v.9h-.9zM129.9 531.2h.9v.9h-.9zM134.5 531.7h.9v.9h-.9zM129.3 530.4h.9v.9h-.9zM133.7 532.1h.9v.9h-.9zM144.1 531.9h.9v.9h-.9zM129.2 531.9h.9v.9h-.9zM132.3 531.2h.9v.9h-.9zM132.7 529.7h.9v.9h-.9zM130.1 531.5h.9v.9h-.9zM129.4 529.4h.9v.9h-.9zM130.3 528.8h.9v.9h-.9zM133.3 530.3h.9v.9h-.9zM128.7 532.6h.9v.9h-.9zM132.0 528.4h.9v.9h-.9zM130.2 531.7h.9v.9h-.9zM135.2 526.2h.9v.9h-.9zM129.1 530.9h.9v.9h-.9zM131.3 531.2h.9v.9h-.9zM129.5 531.5h.9v.9h-.9zM136.9 532.0h.9v.9h-.9zM132.0 530.2h.9v.9h-.9zM135.4 530.6h.9v.9h-.9zM133.1 526.8h.9v.9h-.9zM130.2 530.8h.9v.9h-.9zM131.5 533.6h.9v.9h-.9zM131.1 530.7h.9v.9h-.9zM131.8 534.8h.9v.9h-.9zM133.2 532.3h.9v.9h-.9zM133.3 533.6h.9v.9h-.9zM132.0 530.5h.9v.9h-.9zM129.3 527.8h.9v.9h-.9zM132.6 528.8h.9v.9h-.9zM133.8 530.1h.9v.9h-.9zM132.4 531.7h.9v.9h-.9zM130.0 528.7h.9v.9h-.9zM129.1 532.2h.9v.9h-.9zM130.2 528.3h.9v.9h-.9zM130.2 529.1h.9v.9h-.9zM132.2 531.1h.9v.9h-.9zM129.0 530.6h.9v.9h-.9zM138.6 531.7h.9v.9h-.9zM129.9 530.2h.9v.9h-.9zM129.6 534.8h.9v.9h-.9zM136.4 527.8h.9v.9h-.9zM133.3 529.4h.9v.9h-.9zM136.5 529.0h.9v.9h-.9zM131.6 532.7h.9v.9h-.9zM134.1 531.9h.9v.9h-.9zM131.4 530.7h.9v.9h-.9zM131.3 530.6h.9v.9h-.9zM136.3 532.4h.9v.9h-.9zM128.8 531.6h.9v.9h-.9zM133.7 533.4h.9v.9h-.9zM129.5 530.8h.9v.9h-.9zM130.7 536.2h.9v.9h-.9zM130.1 533.5h.9v.9h-.9zM137.9 532.7h.9v.9h-.9zM137.1 528.9h.9v.9h-.9zM132.5 530.7h.9v.9h-.9zM129.8 531.7h.9v.9h-.9zM130.0 530.1h.9v.9h-.9zM144.2 531.8h.9v.9h-.9zM132.7 535.0h.9v.9h-.9zM134.5 532.1h.9v.9h-.9zM130.6 534.7h.9v.9h-.9zM135.1 529.1h.9v.9h-.9zM129.6 527.0h.9v.9h-.9zM133.3 533.2h.9v.9h-.9zM131.4 531.3h.9v.9h-.9zM132.8 528.7h.9v.9h-.9zM130.3 529.8h.9v.9h-.9zM135.2 530.5h.9v.9h-.9zM129.0 530.2h.9v.9h-.9zM132.6 532.9h.9v.9h-.9zM135.6 532.1h.9v.9h-.9zM129.3 528.9h.9v.9h-.9zM133.6 528.8h.9v.9h-.9zM129.9 532.8h.9v.9h-.9zM134.1 531.0h.9v.9h-.9zM131.0 531.4h.9v.9h-.9zM129.4 532.2h.9v.9h-.9zM137.5 529.6h.9v.9h-.9zM141.1 526.8h.9v.9h-.9zM139.3 528.0h.9v.9h-.9zM134.8 530.5h.9v.9h-.9zM141.0 529.6h.9v.9h-.9zM135.3 530.3h.9v.9h-.9zM129.6 529.0h.9v.9h-.9zM142.2 530.9h.9v.9h-.9zM132.4 535.5h.9v.9h-.9zM129.8 531.8h.9v.9h-.9zM129.6 529.4h.9v.9h-.9zM137.2 530.7h.9v.9h-.9zM138.3 531.8h.9v.9h-.9zM129.7 533.1h.9v.9h-.9zM134.2 533.7h.9v.9h-.9zM128.8 529.4h.9v.9h-.9zM132.7 532.0h.9v.9h-.9zM130.7 531.4h.9v.9h-.9zM134.5 533.8h.9v.9h-.9zM133.7 525.8h.9v.9h-.9zM140.9 530.5h.9v.9h-.9zM131.2 531.9h.9v.9h-.9zM131.2 533.1h.9v.9h-.9zM136.1 530.6h.9v.9h-.9zM136.2 534.0h.9v.9h-.9zM130.2 533.2h.9v.9h-.9zM136.9 528.6h.9v.9h-.9zM130.0 532.4h.9v.9h-.9zM129.0 530.7h.9v.9h-.9zM133.7 532.8h.9v.9h-.9zM132.2 530.7h.9v.9h-.9zM132.6 531.4h.9v.9h-.9zM129.5 528.8h.9v.9h-.9zM139.1 530.5h.9v.9h-.9zM130.3 530.9h.9v.9h-.9zM129.1 531.3h.9v.9h-.9zM133.7 531.7h.9v.9h-.9zM135.9 531.8h.9v.9h-.9zM133.0 532.0h.9v.9h-.9zM128.9 534.6h.9v.9h-.9zM132.8 531.8h.9v.9h-.9zM134.8 531.6h.9v.9h-.9zM135.0 528.8h.9v.9h-.9zM138.0 529.1h.9v.9h-.9zM128.8 532.1h.9v.9h-.9zM129.3 527.5h.9v.9h-.9zM140.0 530.8h.9v.9h-.9zM133.3 530.5h.9v.9h-.9zM129.2 531.3h.9v.9h-.9zM136.7 527.7h.9v.9h-.9zM134.3 529.8h.9v.9h-.9zM135.7 527.0h.9v.9h-.9zM131.9 528.5h.9v.9h-.9zM134.9 532.2h.9v.9h-.9zM130.5 532.1h.9v.9h-.9zM136.2 525.3h.9v.9h-.9zM134.6 530.4h.9v.9h-.9zM132.6 532.8h.9v.9h-.9zM130.9 528.9h.9v.9h-.9zM132.1 530.7h.9v.9h-.9zM131.6 533.2h.9v.9h-.9zM138.7 533.1h.9v.9h-.9zM135.2 526.9h.9v.9h-.9zM129.8 530.7h.9v.9h-.9zM135.5 529.9h.9v.9h-.9zM133.5 531.1h.9v.9h-.9zM132.0 526.7h.9v.9h-.9zM135.8 532.8h.9v.9h-.9zM133.7 532.7h.9v.9h-.9zM140.8 527.9h.9v.9h-.9zM131.2 530.0h.9v.9h-.9zM132.0 530.4h.9v.9h-.9zM137.1 533.5h.9v.9h-.9zM130.6 532.5h.9v.9h-.9zM142.4 529.5h.9v.9h-.9zM131.2 532.8h.9v.9h-.9zM129.3 532.0h.9v.9h-.9zM128.7 536.6h.9v.9h-.9zM132.5 531.7h.9v.9h-.9zM129.5 531.8h.9v.9h-.9zM138.5 530.5h.9v.9h-.9zM133.2 528.6h.9v.9h-.9zM129.0 530.8h.9v.9h-.9zM131.8 536.0h.9v.9h-.9zM133.0 531.7h.9v.9h-.9zM133.4 531.2h.9v.9h-.9zM130.5 556.6h.9v.9h-.9zM130.1 565.8h.9v.9h-.9zM131.9 555.4h.9v.9h-.9zM138.0 556.7h.9v.9h-.9zM130.8 555.0h.9v.9h-.9zM138.6 559.6h.9v.9h-.9zM130.5 559.7h.9v.9h-.9zM134.3 548.6h.9v.9h-.9zM143.7 560.5h.9v.9h-.9zM134.6 556.0h.9v.9h-.9zM133.5 559.8h.9v.9h-.9zM133.7 556.7h.9v.9h-.9zM131.1 558.9h.9v.9h-.9zM132.7 560.1h.9v.9h-.9zM130.8 556.1h.9v.9h-.9zM133.9 562.4h.9v.9h-.9zM133.3 556.6h.9v.9h-.9zM138.0 565.9h.9v.9h-.9zM138.3 557.7h.9v.9h-.9zM129.2 557.9h.9v.9h-.9zM134.5 563.3h.9v.9h-.9zM130.3 551.2h.9v.9h-.9zM136.2 558.3h.9v.9h-.9zM135.9 559.0h.9v.9h-.9zM130.8 554.3h.9v.9h-.9zM140.7 551.0h.9v.9h-.9zM131.0 554.6h.9v.9h-.9zM140.3 555.0h.9v.9h-.9zM131.1 560.1h.9v.9h-.9zM129.3 558.5h.9v.9h-.9zM135.0 556.4h.9v.9h-.9zM130.8 555.4h.9v.9h-.9zM141.2 557.8h.9v.9h-.9zM133.9 543.3h.9v.9h-.9zM139.1 555.8h.9v.9h-.9zM135.2 560.1h.9v.9h-.9zM132.0 557.9h.9v.9h-.9zM133.1 554.6h.9v.9h-.9zM134.7 556.8h.9v.9h-.9zM131.1 560.9h.9v.9h-.9zM142.7 549.3h.9v.9h-.9zM140.1 553.4h.9v.9h-.9zM131.3 553.7h.9v.9h-.9zM133.6 556.5h.9v.9h-.9zM133.9 560.8h.9v.9h-.9zM129.3 552.8h.9v.9h-.9zM131.8 554.0h.9v.9h-.9zM135.4 556.0h.9v.9h-.9zM136.3 557.8h.9v.9h-.9zM141.6 547.4h.9v.9h-.9zM135.3 556.1h.9v.9h-.9zM130.4 555.8h.9v.9h-.9zM139.4 561.0h.9v.9h-.9zM129.1 555.4h.9v.9h-.9zM132.4 553.4h.9v.9h-.9zM134.6 556.5h.9v.9h-.9zM130.4 562.7h.9v.9h-.9zM133.6 553.7h.9v.9h-.9zM135.3 551.6h.9v.9h-.9zM132.1 560.0h.9v.9h-.9zM135.0 556.8h.9v.9h-.9zM135.0 561.8h.9v.9h-.9zM134.5 552.7h.9v.9h-.9zM131.4 559.6h.9v.9h-.9zM134.6 561.6h.9v.9h-.9zM130.3 558.5h.9v.9h-.9zM130.9 560.4h.9v.9h-.9zM136.3 558.1h.9v.9h-.9zM135.4 554.3h.9v.9h-.9zM129.6 548.4h.9v.9h-.9zM135.9 548.3h.9v.9h-.9zM137.5 559.5h.9v.9h-.9zM138.0 563.5h.9v.9h-.9zM133.8 560.6h.9v.9h-.9zM132.6 554.6h.9v.9h-.9zM133.0 565.0h.9v.9h-.9zM130.8 555.9h.9v.9h-.9zM134.4 557.8h.9v.9h-.9zM140.4 557.4h.9v.9h-.9zM130.7 560.4h.9v.9h-.9zM134.4 560.5h.9v.9h-.9zM136.7 559.7h.9v.9h-.9zM132.3 552.8h.9v.9h-.9zM142.8 564.3h.9v.9h-.9zM129.6 555.2h.9v.9h-.9zM138.4 559.8h.9v.9h-.9zM131.0 556.9h.9v.9h-.9zM135.8 557.3h.9v.9h-.9zM140.3 561.6h.9v.9h-.9zM131.3 553.3h.9v.9h-.9zM135.9 560.0h.9v.9h-.9zM131.8 554.9h.9v.9h-.9zM130.8 558.2h.9v.9h-.9zM129.6 556.2h.9v.9h-.9zM135.6 554.8h.9v.9h-.9zM131.0 556.1h.9v.9h-.9zM129.5 562.1h.9v.9h-.9zM133.5 552.5h.9v.9h-.9zM132.5 563.8h.9v.9h-.9zM132.8 556.5h.9v.9h-.9zM132.7 565.9h.9v.9h-.9zM137.2 555.7h.9v.9h-.9zM135.2 563.2h.9v.9h-.9zM139.0 552.1h.9v.9h-.9zM129.0 553.9h.9v.9h-.9zM134.8 558.8h.9v.9h-.9zM130.2 559.8h.9v.9h-.9zM131.7 554.7h.9v.9h-.9zM135.1 547.3h.9v.9h-.9zM138.7 564.0h.9v.9h-.9zM132.1 558.9h.9v.9h-.9zM129.4 558.2h.9v.9h-.9zM134.8 557.0h.9v.9h-.9zM135.7 550.0h.9v.9h-.9zM134.6 558.6h.9v.9h-.9zM131.7 558.8h.9v.9h-.9zM128.7 560.6h.9v.9h-.9zM130.6 553.1h.9v.9h-.9zM132.1 559.1h.9v.9h-.9zM136.2 559.1h.9v.9h-.9zM129.0 564.1h.9v.9h-.9zM130.7 563.7h.9v.9h-.9zM131.7 555.2h.9v.9h-.9zM128.7 552.4h.9v.9h-.9zM136.8 555.5h.9v.9h-.9zM133.3 553.4h.9v.9h-.9zM138.9 559.8h.9v.9h-.9zM133.3 552.9h.9v.9h-.9zM133.0 555.3h.9v.9h-.9zM136.3 552.8h.9v.9h-.9zM130.7 565.4h.9v.9h-.9zM134.4 556.6h.9v.9h-.9zM135.8 556.9h.9v.9h-.9zM133.0 563.6h.9v.9h-.9zM134.0 563.3h.9v.9h-.9zM131.3 555.9h.9v.9h-.9zM140.6 555.4h.9v.9h-.9zM136.3 557.8h.9v.9h-.9zM133.1 553.2h.9v.9h-.9zM136.9 557.3h.9v.9h-.9zM130.6 554.2h.9v.9h-.9zM137.4 561.3h.9v.9h-.9zM133.7 555.7h.9v.9h-.9zM138.7 551.0h.9v.9h-.9zM146.6 553.5h.9v.9h-.9zM134.0 550.4h.9v.9h-.9zM128.9 557.7h.9v.9h-.9zM133.1 550.2h.9v.9h-.9zM132.9 561.2h.9v.9h-.9zM133.0 555.6h.9v.9h-.9zM131.3 551.4h.9v.9h-.9zM130.9 558.5h.9v.9h-.9zM133.8 555.7h.9v.9h-.9zM129.3 554.2h.9v.9h-.9zM131.9 558.9h.9v.9h-.9zM135.5 560.3h.9v.9h-.9zM130.3 558.0h.9v.9h-.9zM132.8 557.3h.9v.9h-.9zM132.4 556.9h.9v.9h-.9zM134.9 560.4h.9v.9h-.9zM139.8 552.7h.9v.9h-.9zM134.9 556.5h.9v.9h-.9zM133.3 558.5h.9v.9h-.9zM134.5 565.9h.9v.9h-.9zM135.4 555.3h.9v.9h-.9zM133.1 558.4h.9v.9h-.9zM132.6 556.3h.9v.9h-.9zM135.4 554.6h.9v.9h-.9zM130.1 560.1h.9v.9h-.9zM139.6 556.3h.9v.9h-.9zM130.1 547.1h.9v.9h-.9zM136.6 561.2h.9v.9h-.9zM128.7 553.7h.9v.9h-.9zM144.9 560.3h.9v.9h-.9zM133.6 563.9h.9v.9h-.9zM133.4 562.9h.9v.9h-.9zM129.6 562.4h.9v.9h-.9zM137.4 563.7h.9v.9h-.9zM128.9 551.6h.9v.9h-.9zM131.2 552.5h.9v.9h-.9zM130.3 553.7h.9v.9h-.9zM136.6 555.3h.9v.9h-.9zM130.2 557.9h.9v.9h-.9zM133.0 562.8h.9v.9h-.9zM131.2 564.5h.9v.9h-.9zM144.0 556.6h.9v.9h-.9zM134.5 550.9h.9v.9h-.9zM130.0 558.0h.9v.9h-.9zM138.3 554.3h.9v.9h-.9zM132.4 555.5h.9v.9h-.9zM138.2 563.4h.9v.9h-.9zM138.8 557.7h.9v.9h-.9zM133.3 561.7h.9v.9h-.9zM132.8 551.5h.9v.9h-.9zM130.5 559.1h.9v.9h-.9zM137.8 550.3h.9v.9h-.9zM129.2 557.4h.9v.9h-.9zM138.1 561.0h.9v.9h-.9zM134.0 560.2h.9v.9h-.9zM137.2 556.8h.9v.9h-.9zM129.5 564.1h.9v.9h-.9zM133.7 557.0h.9v.9h-.9zM129.9 554.3h.9v.9h-.9zM136.0 558.1h.9v.9h-.9zM136.5 566.0h.9v.9h-.9zM130.7 552.7h.9v.9h-.9zM131.0 552.3h.9v.9h-.9zM131.4 553.4h.9v.9h-.9zM129.8 562.0h.9v.9h-.9zM130.5 553.0h.9v.9h-.9zM129.5 561.7h.9v.9h-.9zM133.1 559.3h.9v.9h-.9zM135.7 554.4h.9v.9h-.9zM132.9 554.8h.9v.9h-.9zM130.1 557.2h.9v.9h-.9zM130.9 559.6h.9v.9h-.9zM133.1 555.5h.9v.9h-.9zM129.3 550.8h.9v.9h-.9zM134.0 550.6h.9v.9h-.9zM135.2 556.3h.9v.9h-.9zM129.5 558.5h.9v.9h-.9zM130.7 551.8h.9v.9h-.9zM140.2 563.2h.9v.9h-.9zM136.2 553.8h.9v.9h-.9zM131.7 557.9h.9v.9h-.9zM132.5 557.0h.9v.9h-.9zM144.5 565.9h.9v.9h-.9zM135.8 557.0h.9v.9h-.9zM128.9 564.7h.9v.9h-.9zM135.7 557.4h.9v.9h-.9zM138.4 557.2h.9v.9h-.9zM137.9 549.7h.9v.9h-.9zM137.6 559.0h.9v.9h-.9zM131.1 561.9h.9v.9h-.9zM130.3 560.7h.9v.9h-.9zM134.5 561.8h.9v.9h-.9zM142.3 563.3h.9v.9h-.9zM144.1 560.2h.9v.9h-.9zM129.6 558.8h.9v.9h-.9zM128.9 551.3h.9v.9h-.9zM129.6 551.6h.9v.9h-.9zM130.5 555.6h.9v.9h-.9zM132.1 552.1h.9v.9h-.9zM129.4 556.9h.9v.9h-.9zM137.2 559.9h.9v.9h-.9zM134.5 554.8h.9v.9h-.9zM130.6 551.3h.9v.9h-.9zM134.1 560.3h.9v.9h-.9zM129.9 556.3h.9v.9h-.9zM132.2 564.1h.9v.9h-.9zM129.1 562.2h.9v.9h-.9zM128.9 561.3h.9v.9h-.9zM134.7 550.8h.9v.9h-.9zM135.5 555.6h.9v.9h-.9zM130.3 561.0h.9v.9h-.9zM133.0 558.2h.9v.9h-.9zM136.0 553.8h.9v.9h-.9zM128.9 559.9h.9v.9h-.9zM131.9 558.7h.9v.9h-.9zM133.5 557.0h.9v.9h-.9zM134.7 553.0h.9v.9h-.9zM132.2 561.1h.9v.9h-.9zM138.5 558.9h.9v.9h-.9zM128.7 552.6h.9v.9h-.9zM129.5 553.4h.9v.9h-.9zM129.6 560.3h.9v.9h-.9zM131.5 562.9h.9v.9h-.9zM135.0 551.2h.9v.9h-.9zM137.1 561.8h.9v.9h-.9zM134.7 557.6h.9v.9h-.9zM135.3 556.9h.9v.9h-.9zM130.6 561.4h.9v.9h-.9zM134.7 551.2h.9v.9h-.9zM132.2 555.5h.9v.9h-.9zM137.3 551.8h.9v.9h-.9zM130.9 547.3h.9v.9h-.9zM134.7 561.3h.9v.9h-.9zM133.6 555.7h.9v.9h-.9zM137.0 549.1h.9v.9h-.9zM131.9 558.0h.9v.9h-.9zM131.2 565.5h.9v.9h-.9zM133.5 558.9h.9v.9h-.9zM142.0 560.7h.9v.9h-.9zM128.7 557.9h.9v.9h-.9zM133.8 555.7h.9v.9h-.9zM141.4 565.3h.9v.9h-.9zM129.2 558.9h.9v.9h-.9zM132.2 554.8h.9v.9h-.9zM131.3 565.5h.9v.9h-.9zM133.2 554.6h.9v.9h-.9zM130.1 560.0h.9v.9h-.9zM136.4 555.5h.9v.9h-.9zM134.6 560.3h.9v.9h-.9zM132.2 565.4h.9v.9h-.9zM138.2 553.9h.9v.9h-.9zM129.7 555.4h.9v.9h-.9zM128.7 560.1h.9v.9h-.9zM137.9 562.8h.9v.9h-.9zM135.5 554.0h.9v.9h-.9zM133.6 560.2h.9v.9h-.9zM141.3 560.5h.9v.9h-.9zM129.2 560.8h.9v.9h-.9zM132.6 556.0h.9v.9h-.9zM133.4 555.1h.9v.9h-.9zM130.2 555.1h.9v.9h-.9zM133.7 554.2h.9v.9h-.9zM133.8 562.5h.9v.9h-.9zM132.6 555.1h.9v.9h-.9zM134.5 561.2h.9v.9h-.9zM141.1 558.4h.9v.9h-.9zM130.8 559.3h.9v.9h-.9zM130.1 559.0h.9v.9h-.9zM131.9 562.3h.9v.9h-.9zM133.4 559.3h.9v.9h-.9zM130.5 562.1h.9v.9h-.9zM129.9 552.1h.9v.9h-.9zM129.5 551.8h.9v.9h-.9zM131.5 558.9h.9v.9h-.9zM132.8 552.7h.9v.9h-.9zM134.2 560.7h.9v.9h-.9zM132.1 553.3h.9v.9h-.9zM132.5 560.4h.9v.9h-.9zM136.5 557.4h.9v.9h-.9zM135.9 557.7h.9v.9h-.9zM135.4 558.6h.9v.9h-.9zM129.6 554.1h.9v.9h-.9zM131.7 556.7h.9v.9h-.9zM131.3 554.9h.9v.9h-.9zM130.0 553.6h.9v.9h-.9zM135.5 559.7h.9v.9h-.9zM135.1 549.5h.9v.9h-.9zM141.1 548.0h.9v.9h-.9zM134.4 558.5h.9v.9h-.9zM136.8 561.8h.9v.9h-.9zM138.5 559.3h.9v.9h-.9zM135.2 540.6h.9v.9h-.9zM134.2 552.9h.9v.9h-.9zM140.1 561.7h.9v.9h-.9zM130.9 558.1h.9v.9h-.9zM131.1 553.7h.9v.9h-.9zM129.5 556.1h.9v.9h-.9zM131.1 564.1h.9v.9h-.9zM135.9 558.3h.9v.9h-.9zM132.7 555.8h.9v.9h-.9zM131.6 549.7h.9v.9h-.9zM136.4 551.6h.9v.9h-.9zM129.0 556.3h.9v.9h-.9zM131.4 562.3h.9v.9h-.9zM133.0 556.4h.9v.9h-.9zM131.5 555.7h.9v.9h-.9zM132.5 552.9h.9v.9h-.9zM137.8 556.1h.9v.9h-.9zM135.3 562.6h.9v.9h-.9zM132.5 548.3h.9v.9h-.9zM129.6 560.3h.9v.9h-.9zM135.5 565.5h.9v.9h-.9zM134.4 558.7h.9v.9h-.9zM138.2 556.1h.9v.9h-.9zM131.0 560.8h.9v.9h-.9zM129.8 549.1h.9v.9h-.9zM129.4 558.7h.9v.9h-.9zM137.7 553.8h.9v.9h-.9zM133.9 554.4h.9v.9h-.9zM135.1 555.8h.9v.9h-.9zM129.3 559.1h.9v.9h-.9zM133.7 562.0h.9v.9h-.9zM138.6 565.4h.9v.9h-.9zM132.7 552.9h.9v.9h-.9zM133.2 551.7h.9v.9h-.9zM134.1 553.4h.9v.9h-.9zM135.8 556.2h.9v.9h-.9zM130.7 554.4h.9v.9h-.9zM129.9 553.2h.9v.9h-.9zM130.1 555.5h.9v.9h-.9zM135.4 557.5h.9v.9h-.9zM129.7 554.0h.9v.9h-.9zM129.0 559.4h.9v.9h-.9zM136.2 554.7h.9v.9h-.9zM132.6 557.0h.9v.9h-.9zM133.5 564.6h.9v.9h-.9zM133.4 555.5h.9v.9h-.9zM134.8 549.9h.9v.9h-.9zM128.9 556.8h.9v.9h-.9zM135.4 559.0h.9v.9h-.9zM139.2 559.2h.9v.9h-.9zM130.9 560.5h.9v.9h-.9zM134.5 552.7h.9v.9h-.9zM141.0 557.2h.9v.9h-.9zM134.3 556.5h.9v.9h-.9zM135.9 559.3h.9v.9h-.9zM133.7 561.3h.9v.9h-.9zM129.1 557.4h.9v.9h-.9zM132.2 557.6h.9v.9h-.9zM138.8 562.0h.9v.9h-.9zM132.7 555.4h.9v.9h-.9zM130.9 550.7h.9v.9h-.9zM138.3 559.9h.9v.9h-.9zM131.5 565.8h.9v.9h-.9zM129.7 560.4h.9v.9h-.9zM136.1 550.5h.9v.9h-.9zM131.8 555.7h.9v.9h-.9zM137.4 560.1h.9v.9h-.9zM141.8 560.7h.9v.9h-.9zM136.5 548.1h.9v.9h-.9zM131.4 551.0h.9v.9h-.9zM133.5 556.4h.9v.9h-.9zM129.8 559.2h.9v.9h-.9zM133.4 564.5h.9v.9h-.9zM137.2 561.3h.9v.9h-.9zM138.8 562.7h.9v.9h-.9zM129.3 550.0h.9v.9h-.9zM129.7 555.9h.9v.9h-.9zM129.3 561.4h.9v.9h-.9zM137.0 559.9h.9v.9h-.9zM136.1 551.8h.9v.9h-.9zM137.3 553.9h.9v.9h-.9zM133.3 561.3h.9v.9h-.9zM128.8 548.6h.9v.9h-.9zM132.7 560.1h.9v.9h-.9zM132.1 554.8h.9v.9h-.9zM128.8 557.0h.9v.9h-.9zM132.9 552.7h.9v.9h-.9zM131.4 562.6h.9v.9h-.9zM144.4 558.9h.9v.9h-.9zM134.9 552.9h.9v.9h-.9zM137.6 550.1h.9v.9h-.9zM134.6 564.4h.9v.9h-.9zM138.2 544.8h.9v.9h-.9zM132.0 559.0h.9v.9h-.9zM131.1 554.4h.9v.9h-.9zM129.1 551.0h.9v.9h-.9zM131.4 553.2h.9v.9h-.9zM133.1 563.7h.9v.9h-.9zM134.4 561.1h.9v.9h-.9zM136.9 559.6h.9v.9h-.9zM133.8 556.6h.9v.9h-.9zM141.5 555.8h.9v.9h-.9zM129.0 553.3h.9v.9h-.9zM132.1 564.0h.9v.9h-.9zM132.7 551.0h.9v.9h-.9zM131.0 564.2h.9v.9h-.9zM134.6 556.4h.9v.9h-.9zM134.4 554.3h.9v.9h-.9zM134.8 550.8h.9v.9h-.9zM131.7 556.8h.9v.9h-.9zM142.2 552.2h.9v.9h-.9zM133.2 551.9h.9v.9h-.9zM129.6 556.1h.9v.9h-.9zM131.0 550.8h.9v.9h-.9zM133.3 555.0h.9v.9h-.9zM131.0 555.4h.9v.9h-.9zM133.4 556.4h.9v.9h-.9zM138.9 553.5h.9v.9h-.9zM138.9 558.3h.9v.9h-.9zM134.4 560.7h.9v.9h-.9zM135.2 564.7h.9v.9h-.9zM129.6 549.3h.9v.9h-.9zM138.6 561.3h.9v.9h-.9zM136.7 557.4h.9v.9h-.9zM130.9 557.1h.9v.9h-.9zM140.1 561.5h.9v.9h-.9zM132.5 554.2h.9v.9h-.9zM131.0 553.0h.9v.9h-.9zM133.7 554.2h.9v.9h-.9zM143.3 562.8h.9v.9h-.9zM133.0 558.5h.9v.9h-.9zM129.1 554.7h.9v.9h-.9zM140.5 554.5h.9v.9h-.9zM133.5 554.7h.9v.9h-.9zM129.3 548.4h.9v.9h-.9zM136.3 553.9h.9v.9h-.9zM131.5 561.2h.9v.9h-.9zM145.2 556.4h.9v.9h-.9zM132.8 557.0h.9v.9h-.9zM130.4 565.1h.9v.9h-.9zM129.9 559.7h.9v.9h-.9zM129.1 554.2h.9v.9h-.9zM135.5 556.3h.9v.9h-.9zM137.9 551.9h.9v.9h-.9zM131.6 564.8h.9v.9h-.9zM132.5 558.7h.9v.9h-.9zM138.0 559.0h.9v.9h-.9zM133.6 555.5h.9v.9h-.9zM130.7 554.4h.9v.9h-.9zM131.2 557.7h.9v.9h-.9zM136.3 564.7h.9v.9h-.9zM132.3 557.0h.9v.9h-.9zM129.5 563.6h.9v.9h-.9zM130.9 566.2h.9v.9h-.9zM134.6 552.3h.9v.9h-.9zM131.2 553.1h.9v.9h-.9zM132.2 558.2h.9v.9h-.9zM129.7 556.2h.9v.9h-.9zM137.0 562.1h.9v.9h-.9zM137.5 550.7h.9v.9h-.9zM132.8 552.0h.9v.9h-.9zM135.5 552.0h.9v.9h-.9zM134.8 555.3h.9v.9h-.9zM131.4 557.3h.9v.9h-.9zM128.7 562.1h.9v.9h-.9zM140.6 565.4h.9v.9h-.9zM137.7 553.5h.9v.9h-.9zM132.2 554.9h.9v.9h-.9zM140.5 549.4h.9v.9h-.9zM129.1 559.4h.9v.9h-.9zM132.7 547.8h.9v.9h-.9zM130.6 552.5h.9v.9h-.9zM131.1 555.6h.9v.9h-.9zM129.3 561.8h.9v.9h-.9zM128.8 555.0h.9v.9h-.9zM130.1 556.5h.9v.9h-.9zM133.2 556.4h.9v.9h-.9zM133.5 549.3h.9v.9h-.9zM135.4 555.5h.9v.9h-.9zM130.3 553.4h.9v.9h-.9zM130.2 555.1h.9v.9h-.9zM134.9 552.9h.9v.9h-.9zM142.4 561.2h.9v.9h-.9zM129.6 558.6h.9v.9h-.9zM128.8 558.1h.9v.9h-.9zM130.6 564.1h.9v.9h-.9zM137.4 556.5h.9v.9h-.9zM135.7 550.2h.9v.9h-.9zM130.0 552.6h.9v.9h-.9zM128.7 559.7h.9v.9h-.9zM132.7 556.1h.9v.9h-.9zM129.0 553.0h.9v.9h-.9zM135.5 554.2h.9v.9h-.9zM131.2 555.1h.9v.9h-.9zM129.1 564.0h.9v.9h-.9zM130.8 563.7h.9v.9h-.9zM134.7 556.0h.9v.9h-.9zM137.0 555.5h.9v.9h-.9zM135.8 555.1h.9v.9h-.9zM128.9 550.0h.9v.9h-.9zM131.2 562.2h.9v.9h-.9zM134.7 554.5h.9v.9h-.9zM136.0 548.5h.9v.9h-.9zM131.9 548.9h.9v.9h-.9zM134.7 562.6h.9v.9h-.9zM138.9 549.2h.9v.9h-.9zM132.5 557.0h.9v.9h-.9zM134.6 556.3h.9v.9h-.9zM131.0 551.1h.9v.9h-.9zM134.0 560.0h.9v.9h-.9zM145.3 551.9h.9v.9h-.9zM139.4 555.3h.9v.9h-.9zM131.9 563.8h.9v.9h-.9zM136.8 552.4h.9v.9h-.9zM130.5 555.7h.9v.9h-.9zM137.0 555.7h.9v.9h-.9zM129.1 562.1h.9v.9h-.9zM132.4 558.9h.9v.9h-.9zM133.8 550.8h.9v.9h-.9zM131.2 555.0h.9v.9h-.9zM133.4 559.8h.9v.9h-.9zM138.5 557.2h.9v.9h-.9zM131.7 564.2h.9v.9h-.9zM133.1 555.1h.9v.9h-.9zM129.3 555.3h.9v.9h-.9zM132.0 555.4h.9v.9h-.9zM135.5 558.4h.9v.9h-.9zM137.2 556.2h.9v.9h-.9zM138.8 564.5h.9v.9h-.9zM129.5 554.4h.9v.9h-.9zM144.5 557.3h.9v.9h-.9zM131.2 558.1h.9v.9h-.9zM132.9 563.4h.9v.9h-.9zM131.4 561.0h.9v.9h-.9zM131.3 553.2h.9v.9h-.9zM137.3 547.8h.9v.9h-.9zM131.0 550.8h.9v.9h-.9zM132.5 554.2h.9v.9h-.9zM134.4 551.9h.9v.9h-.9zM134.9 554.2h.9v.9h-.9zM128.7 553.9h.9v.9h-.9zM128.9 566.1h.9v.9h-.9zM132.1 551.5h.9v.9h-.9zM136.6 559.7h.9v.9h-.9zM140.7 557.4h.9v.9h-.9zM133.2 562.8h.9v.9h-.9zM132.8 560.5h.9v.9h-.9zM134.7 563.3h.9v.9h-.9zM130.7 558.0h.9v.9h-.9zM137.8 563.1h.9v.9h-.9zM128.8 561.1h.9v.9h-.9zM136.1 558.9h.9v.9h-.9zM141.6 562.8h.9v.9h-.9zM132.5 561.4h.9v.9h-.9zM131.7 554.4h.9v.9h-.9zM134.1 564.8h.9v.9h-.9zM134.0 565.9h.9v.9h-.9zM131.3 553.0h.9v.9h-.9zM130.1 558.8h.9v.9h-.9zM133.4 553.5h.9v.9h-.9zM130.8 559.4h.9v.9h-.9zM130.6 566.3h.9v.9h-.9zM134.1 561.3h.9v.9h-.9zM134.0 553.1h.9v.9h-.9zM134.9 556.9h.9v.9h-.9zM132.8 565.0h.9v.9h-.9zM135.1 553.4h.9v.9h-.9zM128.8 565.6h.9v.9h-.9zM132.8 562.7h.9v.9h-.9zM132.7 551.8h.9v.9h-.9zM142.0 565.1h.9v.9h-.9zM131.9 560.5h.9v.9h-.9zM139.7 556.4h.9v.9h-.9zM128.8 555.2h.9v.9h-.9zM132.4 553.3h.9v.9h-.9zM139.6 557.5h.9v.9h-.9zM130.5 556.4h.9v.9h-.9zM141.5 559.8h.9v.9h-.9zM131.3 560.4h.9v.9h-.9zM129.9 552.1h.9v.9h-.9zM140.9 556.9h.9v.9h-.9zM134.8 551.4h.9v.9h-.9zM131.9 563.6h.9v.9h-.9zM135.0 554.5h.9v.9h-.9zM133.5 555.4h.9v.9h-.9zM133.1 564.9h.9v.9h-.9zM142.1 564.8h.9v.9h-.9zM138.0 556.5h.9v.9h-.9zM130.6 559.2h.9v.9h-.9zM134.5 564.6h.9v.9h-.9zM130.7 565.2h.9v.9h-.9zM131.8 555.3h.9v.9h-.9zM131.8 557.8h.9v.9h-.9zM133.2 561.5h.9v.9h-.9zM133.8 561.3h.9v.9h-.9zM129.8 560.9h.9v.9h-.9zM134.5 565.9h.9v.9h-.9zM134.3 559.3h.9v.9h-.9zM133.6 552.3h.9v.9h-.9zM129.5 566.0h.9v.9h-.9zM129.4 557.6h.9v.9h-.9zM140.1 560.4h.9v.9h-.9zM129.7 560.7h.9v.9h-.9zM129.4 555.2h.9v.9h-.9zM137.8 557.7h.9v.9h-.9zM135.2 560.0h.9v.9h-.9zM133.9 561.9h.9v.9h-.9zM132.7 552.9h.9v.9h-.9zM130.0 563.4h.9v.9h-.9zM129.4 555.5h.9v.9h-.9zM129.1 561.5h.9v.9h-.9zM133.7 556.9h.9v.9h-.9zM131.3 554.0h.9v.9h-.9zM133.5 554.6h.9v.9h-.9zM129.1 558.8h.9v.9h-.9zM131.7 559.3h.9v.9h-.9zM133.5 553.8h.9v.9h-.9zM143.4 561.1h.9v.9h-.9zM139.0 555.4h.9v.9h-.9zM129.0 561.1h.9v.9h-.9zM133.5 556.9h.9v.9h-.9zM131.2 559.6h.9v.9h-.9zM129.3 564.6h.9v.9h-.9zM134.1 554.0h.9v.9h-.9zM137.1 558.1h.9v.9h-.9zM129.2 556.1h.9v.9h-.9zM132.5 552.7h.9v.9h-.9zM137.2 563.4h.9v.9h-.9zM129.5 557.8h.9v.9h-.9zM134.9 558.9h.9v.9h-.9zM130.7 558.5h.9v.9h-.9zM132.9 555.4h.9v.9h-.9zM129.3 551.4h.9v.9h-.9zM131.8 565.3h.9v.9h-.9zM131.2 557.6h.9v.9h-.9zM129.1 558.5h.9v.9h-.9zM141.0 561.3h.9v.9h-.9zM137.1 554.6h.9v.9h-.9zM131.3 559.8h.9v.9h-.9zM130.4 561.3h.9v.9h-.9zM129.5 556.3h.9v.9h-.9zM135.2 557.3h.9v.9h-.9zM134.8 549.7h.9v.9h-.9zM135.4 560.8h.9v.9h-.9zM129.6 562.0h.9v.9h-.9zM130.0 555.9h.9v.9h-.9zM136.0 556.5h.9v.9h-.9zM130.6 560.2h.9v.9h-.9zM131.3 553.2h.9v.9h-.9zM130.5 560.5h.9v.9h-.9zM134.9 556.4h.9v.9h-.9zM131.9 560.3h.9v.9h-.9zM130.2 562.3h.9v.9h-.9zM130.9 555.8h.9v.9h-.9zM133.2 554.9h.9v.9h-.9zM143.2 555.5h.9v.9h-.9zM135.2 562.2h.9v.9h-.9zM130.4 558.8h.9v.9h-.9zM138.3 549.9h.9v.9h-.9zM130.7 550.6h.9v.9h-.9zM136.5 556.2h.9v.9h-.9zM132.7 551.0h.9v.9h-.9zM136.4 550.0h.9v.9h-.9zM167.2 527.1h.9v.9h-.9zM165.8 527.7h.9v.9h-.9zM169.9 528.1h.9v.9h-.9zM166.5 526.6h.9v.9h-.9zM162.4 529.4h.9v.9h-.9zM166.7 525.5h.9v.9h-.9zM159.7 531.8h.9v.9h-.9zM165.9 524.5h.9v.9h-.9zM159.2 524.0h.9v.9h-.9zM160.8 529.7h.9v.9h-.9zM163.0 525.9h.9v.9h-.9zM169.6 526.5h.9v.9h-.9zM167.3 528.7h.9v.9h-.9zM165.6 526.5h.9v.9h-.9zM169.3 526.0h.9v.9h-.9zM165.4 528.8h.9v.9h-.9zM167.9 527.3h.9v.9h-.9zM160.1 528.3h.9v.9h-.9zM159.0 532.1h.9v.9h-.9zM164.6 526.0h.9v.9h-.9zM161.2 527.7h.9v.9h-.9zM170.2 525.4h.9v.9h-.9zM161.7 526.2h.9v.9h-.9zM158.9 527.2h.9v.9h-.9zM163.3 529.3h.9v.9h-.9zM165.6 524.5h.9v.9h-.9zM167.6 528.1h.9v.9h-.9zM164.0 527.9h.9v.9h-.9zM165.1 526.5h.9v.9h-.9zM166.3 522.2h.9v.9h-.9z" fill="#1a1a1a"/>
<path d="M191.3 530.0h.9v.9h-.9zM144.6 524.4h.9v.9h-.9zM185.0 519.4h.9v.9h-.9zM193.6 524.2h.9v.9h-.9zM180.6 548.2h.9v.9h-.9zM151.9 538.4h.9v.9h-.9zM176.7 524.4h.9v.9h-.9zM170.5 544.5h.9v.9h-.9zM197.9 525.2h.9v.9h-.9zM147.5 537.7h.9v.9h-.9zM174.7 536.6h.9v.9h-.9zM195.0 520.6h.9v.9h-.9zM169.0 535.7h.9v.9h-.9zM149.0 534.8h.9v.9h-.9zM165.4 530.4h.9v.9h-.9zM186.0 564.6h.9v.9h-.9zM198.6 521.5h.9v.9h-.9zM160.2 562.6h.9v.9h-.9zM141.6 514.3h.9v.9h-.9zM140.5 563.2h.9v.9h-.9zM168.8 533.6h.9v.9h-.9zM142.6 558.9h.9v.9h-.9zM200.1 547.9h.9v.9h-.9zM195.0 541.2h.9v.9h-.9zM156.3 519.4h.9v.9h-.9zM155.8 517.7h.9v.9h-.9zM160.0 512.0h.9v.9h-.9zM138.9 559.6h.9v.9h-.9zM190.8 555.0h.9v.9h-.9zM158.9 534.6h.9v.9h-.9zM171.2 553.5h.9v.9h-.9zM155.8 538.0h.9v.9h-.9zM171.6 556.5h.9v.9h-.9zM158.8 509.5h.9v.9h-.9zM162.3 558.9h.9v.9h-.9zM143.7 529.7h.9v.9h-.9zM141.3 533.9h.9v.9h-.9zM141.3 549.5h.9v.9h-.9zM145.3 547.8h.9v.9h-.9zM143.6 539.1h.9v.9h-.9zM138.9 534.3h.9v.9h-.9zM153.8 555.5h.9v.9h-.9zM138.7 548.0h.9v.9h-.9zM149.1 547.0h.9v.9h-.9zM139.1 533.9h.9v.9h-.9zM150.5 550.6h.9v.9h-.9zM140.5 561.4h.9v.9h-.9zM146.9 535.8h.9v.9h-.9zM148.1 548.5h.9v.9h-.9zM141.6 530.1h.9v.9h-.9zM140.3 545.5h.9v.9h-.9zM141.8 541.8h.9v.9h-.9zM143.6 565.3h.9v.9h-.9zM153.2 532.1h.9v.9h-.9zM145.9 544.2h.9v.9h-.9zM143.1 523.8h.9v.9h-.9zM142.0 534.2h.9v.9h-.9zM142.8 535.4h.9v.9h-.9zM139.0 534.7h.9v.9h-.9zM144.9 545.4h.9v.9h-.9zM146.9 563.0h.9v.9h-.9zM148.7 563.0h.9v.9h-.9zM146.9 554.2h.9v.9h-.9zM146.9 553.9h.9v.9h-.9zM142.5 555.3h.9v.9h-.9zM141.4 550.9h.9v.9h-.9zM145.4 525.0h.9v.9h-.9zM147.8 556.5h.9v.9h-.9zM155.3 527.0h.9v.9h-.9zM150.9 552.4h.9v.9h-.9zM139.2 548.8h.9v.9h-.9zM142.6 530.3h.9v.9h-.9zM138.7 534.4h.9v.9h-.9zM140.2 559.4h.9v.9h-.9zM150.5 564.7h.9v.9h-.9zM145.7 528.7h.9v.9h-.9zM148.1 550.6h.9v.9h-.9zM152.2 536.7h.9v.9h-.9zM142.2 538.4h.9v.9h-.9zM146.0 533.5h.9v.9h-.9z" fill="#9a9a9a"/>
<line x1="128.3" y1="499.3" x2="128.3" y2="567.4" stroke="#333" stroke-width="1"/>
<line x1="128.3" y1="567.4" x2="203.6" y2="567.4" stroke="#444" stroke-width="0.8"/>
<line x1="126.3" y1="505.8" x2="128.3" y2="505.8" stroke="#333" stroke-width="0.7"/>
<text transform="translate(124.1,506.6) rotate(-90)" font-size="4.1" text-anchor="middle" fill="#111">10<tspan font-size="2.8" dy="-1.4">5</tspan></text>
<line x1="126.3" y1="522.9" x2="128.3" y2="522.9" stroke="#333" stroke-width="0.7"/>
<text transform="translate(124.1,523.7) rotate(-90)" font-size="4.1" text-anchor="middle" fill="#111">10<tspan font-size="2.8" dy="-1.4">4</tspan></text>
<line x1="126.3" y1="540.3" x2="128.3" y2="540.3" stroke="#333" stroke-width="0.7"/>
<text transform="translate(124.1,541.1) rotate(-90)" font-size="4.1" text-anchor="middle" fill="#111">10<tspan font-size="2.8" dy="-1.4">3</tspan></text>
<line x1="126.3" y1="557" x2="128.3" y2="557" stroke="#333" stroke-width="0.7"/>
<text transform="translate(124.1,557.8) rotate(-90)" font-size="4.1" text-anchor="middle" fill="#111">10<tspan font-size="2.8" dy="-1.4">2</tspan></text>
<line x1="139.3" y1="567.4" x2="139.3" y2="569.4" stroke="#333" stroke-width="0.7"/>
<text x="139.3" y="575.5" font-size="4.1" text-anchor="middle" fill="#111">10<tspan font-size="2.8" dy="-1.4">2</tspan></text>
<line x1="157.8" y1="567.4" x2="157.8" y2="569.4" stroke="#333" stroke-width="0.7"/>
<text x="157.8" y="575.5" font-size="4.1" text-anchor="middle" fill="#111">10<tspan font-size="2.8" dy="-1.4">3</tspan></text>
<line x1="176.8" y1="567.4" x2="176.8" y2="569.4" stroke="#333" stroke-width="0.7"/>
<text x="176.8" y="575.5" font-size="4.1" text-anchor="middle" fill="#111">10<tspan font-size="2.8" dy="-1.4">4</tspan></text>
<line x1="195.8" y1="567.4" x2="195.8" y2="569.4" stroke="#333" stroke-width="0.7"/>
<text x="195.8" y="575.5" font-size="4.1" text-anchor="middle" fill="#111">10<tspan font-size="2.8" dy="-1.4">5</tspan></text>
<line x1="129.37" y1="567.4" x2="129.37" y2="569.4" stroke="#333" stroke-width="0.6"/>
<line x1="131.74" y1="567.4" x2="131.74" y2="569.4" stroke="#333" stroke-width="0.6"/>
<line x1="133.58" y1="567.4" x2="133.58" y2="569.4" stroke="#333" stroke-width="0.6"/>
<line x1="135.08" y1="567.4" x2="135.08" y2="569.4" stroke="#333" stroke-width="0.6"/>
<line x1="136.36" y1="567.4" x2="136.36" y2="569.4" stroke="#333" stroke-width="0.6"/>
<line x1="137.46" y1="567.4" x2="137.46" y2="569.4" stroke="#333" stroke-width="0.6"/>
<line x1="138.43" y1="567.4" x2="138.43" y2="569.4" stroke="#333" stroke-width="0.6"/>
<line x1="144.52" y1="567.4" x2="144.52" y2="569.4" stroke="#333" stroke-width="0.6"/>
<line x1="147.87" y1="567.4" x2="147.87" y2="569.4" stroke="#333" stroke-width="0.6"/>
<line x1="150.24" y1="567.4" x2="150.24" y2="569.4" stroke="#333" stroke-width="0.6"/>
<line x1="152.08" y1="567.4" x2="152.08" y2="569.4" stroke="#333" stroke-width="0.6"/>
<line x1="153.58" y1="567.4" x2="153.58" y2="569.4" stroke="#333" stroke-width="0.6"/>
<line x1="154.86" y1="567.4" x2="154.86" y2="569.4" stroke="#333" stroke-width="0.6"/>
<line x1="155.96" y1="567.4" x2="155.96" y2="569.4" stroke="#333" stroke-width="0.6"/>
<line x1="156.93" y1="567.4" x2="156.93" y2="569.4" stroke="#333" stroke-width="0.6"/>
<line x1="163.52" y1="567.4" x2="163.52" y2="569.4" stroke="#333" stroke-width="0.6"/>
<line x1="166.87" y1="567.4" x2="166.87" y2="569.4" stroke="#333" stroke-width="0.6"/>
<line x1="169.24" y1="567.4" x2="169.24" y2="569.4" stroke="#333" stroke-width="0.6"/>
<line x1="171.08" y1="567.4" x2="171.08" y2="569.4" stroke="#333" stroke-width="0.6"/>
<line x1="172.58" y1="567.4" x2="172.58" y2="569.4" stroke="#333" stroke-width="0.6"/>
<line x1="173.86" y1="567.4" x2="173.86" y2="569.4" stroke="#333" stroke-width="0.6"/>
<line x1="174.96" y1="567.4" x2="174.96" y2="569.4" stroke="#333" stroke-width="0.6"/>
<line x1="175.93" y1="567.4" x2="175.93" y2="569.4" stroke="#333" stroke-width="0.6"/>
<line x1="182.52" y1="567.4" x2="182.52" y2="569.4" stroke="#333" stroke-width="0.6"/>
<line x1="185.87" y1="567.4" x2="185.87" y2="569.4" stroke="#333" stroke-width="0.6"/>
<line x1="188.24" y1="567.4" x2="188.24" y2="569.4" stroke="#333" stroke-width="0.6"/>
<line x1="190.08" y1="567.4" x2="190.08" y2="569.4" stroke="#333" stroke-width="0.6"/>
<line x1="191.58" y1="567.4" x2="191.58" y2="569.4" stroke="#333" stroke-width="0.6"/>
<line x1="192.86" y1="567.4" x2="192.86" y2="569.4" stroke="#333" stroke-width="0.6"/>
<line x1="193.96" y1="567.4" x2="193.96" y2="569.4" stroke="#333" stroke-width="0.6"/>
<line x1="194.93" y1="567.4" x2="194.93" y2="569.4" stroke="#333" stroke-width="0.6"/>
<line x1="126.3" y1="517.78" x2="128.3" y2="517.78" stroke="#333" stroke-width="0.6"/>
<line x1="126.3" y1="514.79" x2="128.3" y2="514.79" stroke="#333" stroke-width="0.6"/>
<line x1="126.3" y1="512.66" x2="128.3" y2="512.66" stroke="#333" stroke-width="0.6"/>
<line x1="126.3" y1="511.02" x2="128.3" y2="511.02" stroke="#333" stroke-width="0.6"/>
<line x1="126.3" y1="509.67" x2="128.3" y2="509.67" stroke="#333" stroke-width="0.6"/>
<line x1="126.3" y1="508.53" x2="128.3" y2="508.53" stroke="#333" stroke-width="0.6"/>
<line x1="126.3" y1="507.55" x2="128.3" y2="507.55" stroke="#333" stroke-width="0.6"/>
<line x1="126.3" y1="506.68" x2="128.3" y2="506.68" stroke="#333" stroke-width="0.6"/>
<line x1="126.3" y1="535.18" x2="128.3" y2="535.18" stroke="#333" stroke-width="0.6"/>
<line x1="126.3" y1="532.19" x2="128.3" y2="532.19" stroke="#333" stroke-width="0.6"/>
<line x1="126.3" y1="530.06" x2="128.3" y2="530.06" stroke="#333" stroke-width="0.6"/>
<line x1="126.3" y1="528.42" x2="128.3" y2="528.42" stroke="#333" stroke-width="0.6"/>
<line x1="126.3" y1="527.07" x2="128.3" y2="527.07" stroke="#333" stroke-width="0.6"/>
<line x1="126.3" y1="525.93" x2="128.3" y2="525.93" stroke="#333" stroke-width="0.6"/>
<line x1="126.3" y1="524.95" x2="128.3" y2="524.95" stroke="#333" stroke-width="0.6"/>
<line x1="126.3" y1="524.08" x2="128.3" y2="524.08" stroke="#333" stroke-width="0.6"/>
<line x1="126.3" y1="551.88" x2="128.3" y2="551.88" stroke="#333" stroke-width="0.6"/>
<line x1="126.3" y1="548.89" x2="128.3" y2="548.89" stroke="#333" stroke-width="0.6"/>
<line x1="126.3" y1="546.76" x2="128.3" y2="546.76" stroke="#333" stroke-width="0.6"/>
<line x1="126.3" y1="545.12" x2="128.3" y2="545.12" stroke="#333" stroke-width="0.6"/>
<line x1="126.3" y1="543.77" x2="128.3" y2="543.77" stroke="#333" stroke-width="0.6"/>
<line x1="126.3" y1="542.63" x2="128.3" y2="542.63" stroke="#333" stroke-width="0.6"/>
<line x1="126.3" y1="541.65" x2="128.3" y2="541.65" stroke="#333" stroke-width="0.6"/>
<line x1="126.3" y1="540.78" x2="128.3" y2="540.78" stroke="#333" stroke-width="0.6"/>
<line x1="126.3" y1="565.89" x2="128.3" y2="565.89" stroke="#333" stroke-width="0.6"/>
<line x1="126.3" y1="563.76" x2="128.3" y2="563.76" stroke="#333" stroke-width="0.6"/>
<line x1="126.3" y1="562.12" x2="128.3" y2="562.12" stroke="#333" stroke-width="0.6"/>
<line x1="126.3" y1="560.77" x2="128.3" y2="560.77" stroke="#333" stroke-width="0.6"/>
<line x1="126.3" y1="559.63" x2="128.3" y2="559.63" stroke="#333" stroke-width="0.6"/>
<line x1="126.3" y1="558.65" x2="128.3" y2="558.65" stroke="#333" stroke-width="0.6"/>
<line x1="126.3" y1="557.78" x2="128.3" y2="557.78" stroke="#333" stroke-width="0.6"/>
<line x1="127.1" y1="500.5" x2="128.3" y2="500.5" stroke="#444" stroke-width="0.5"/>
<line x1="127.1" y1="502.5" x2="128.3" y2="502.5" stroke="#444" stroke-width="0.5"/>
<line x1="127.1" y1="504.5" x2="128.3" y2="504.5" stroke="#444" stroke-width="0.5"/>
<line x1="127.1" y1="506.5" x2="128.3" y2="506.5" stroke="#444" stroke-width="0.5"/>
<line x1="127.1" y1="508.5" x2="128.3" y2="508.5" stroke="#444" stroke-width="0.5"/>
<line x1="127.1" y1="510.5" x2="128.3" y2="510.5" stroke="#444" stroke-width="0.5"/>
<line x1="127.1" y1="512.5" x2="128.3" y2="512.5" stroke="#444" stroke-width="0.5"/>
<line x1="127.1" y1="514.5" x2="128.3" y2="514.5" stroke="#444" stroke-width="0.5"/>
<line x1="127.1" y1="516.5" x2="128.3" y2="516.5" stroke="#444" stroke-width="0.5"/>
<line x1="127.1" y1="518.5" x2="128.3" y2="518.5" stroke="#444" stroke-width="0.5"/>
<line x1="127.1" y1="520.5" x2="128.3" y2="520.5" stroke="#444" stroke-width="0.5"/>
<line x1="127.1" y1="522.5" x2="128.3" y2="522.5" stroke="#444" stroke-width="0.5"/>
<line x1="127.1" y1="524.5" x2="128.3" y2="524.5" stroke="#444" stroke-width="0.5"/>
<line x1="127.1" y1="526.5" x2="128.3" y2="526.5" stroke="#444" stroke-width="0.5"/>
<line x1="127.1" y1="528.5" x2="128.3" y2="528.5" stroke="#444" stroke-width="0.5"/>
<line x1="127.1" y1="530.5" x2="128.3" y2="530.5" stroke="#444" stroke-width="0.5"/>
<line x1="127.1" y1="532.5" x2="128.3" y2="532.5" stroke="#444" stroke-width="0.5"/>
<line x1="127.1" y1="534.5" x2="128.3" y2="534.5" stroke="#444" stroke-width="0.5"/>
<line x1="127.1" y1="536.5" x2="128.3" y2="536.5" stroke="#444" stroke-width="0.5"/>
<line x1="127.1" y1="538.5" x2="128.3" y2="538.5" stroke="#444" stroke-width="0.5"/>
<line x1="127.1" y1="540.5" x2="128.3" y2="540.5" stroke="#444" stroke-width="0.5"/>
<line x1="127.1" y1="542.5" x2="128.3" y2="542.5" stroke="#444" stroke-width="0.5"/>
<line x1="127.1" y1="544.5" x2="128.3" y2="544.5" stroke="#444" stroke-width="0.5"/>
<line x1="127.1" y1="546.5" x2="128.3" y2="546.5" stroke="#444" stroke-width="0.5"/>
<line x1="127.1" y1="548.5" x2="128.3" y2="548.5" stroke="#444" stroke-width="0.5"/>
<line x1="127.1" y1="550.5" x2="128.3" y2="550.5" stroke="#444" stroke-width="0.5"/>
<line x1="127.1" y1="552.5" x2="128.3" y2="552.5" stroke="#444" stroke-width="0.5"/>
<line x1="127.1" y1="554.5" x2="128.3" y2="554.5" stroke="#444" stroke-width="0.5"/>
<line x1="127.1" y1="556.5" x2="128.3" y2="556.5" stroke="#444" stroke-width="0.5"/>
<line x1="127.1" y1="558.5" x2="128.3" y2="558.5" stroke="#444" stroke-width="0.5"/>
<line x1="127.1" y1="560.5" x2="128.3" y2="560.5" stroke="#444" stroke-width="0.5"/>
<line x1="127.1" y1="562.5" x2="128.3" y2="562.5" stroke="#444" stroke-width="0.5"/>
<line x1="127.1" y1="564.5" x2="128.3" y2="564.5" stroke="#444" stroke-width="0.5"/>
<line x1="127.1" y1="566.5" x2="128.3" y2="566.5" stroke="#444" stroke-width="0.5"/>
<text x="166.25" y="583.4" font-size="5" font-weight="normal" text-anchor="middle" fill="#111" >KJI 26 APC-A</text>
<text transform="translate(118,533) rotate(-90)" font-size="5" text-anchor="middle" fill="#000" stroke="#000" stroke-width="0.15">CD4 FITC-A</text>
<rect x="218.8" y="489.3" width="96" height="96.8" fill="#fff" stroke="#8a8a8a" stroke-width="1"/>
<rect x="237.5" y="499.3" width="74.3" height="68.1" fill="#fff" stroke="#8a8a8a" stroke-width="1"/>
<text x="266.45" y="498.1" font-size="5.3" font-weight="normal" text-anchor="middle" fill="#222" >CLP-1</text>
<text x="281.3" y="513.6" font-size="10.6" font-weight="bold" text-anchor="middle" fill="#000" >0.5%</text>
<rect x="262.5" y="518.2" width="30.4" height="20.1" fill="none" stroke="#666" stroke-width="0.9"/>
<text x="288.4" y="524.5" font-size="4.6" font-weight="normal" text-anchor="middle" fill="#444" >P2</text>
<path d="M239.6 543.2h.9v.9h-.9zM246.1 543.3h.9v.9h-.9zM245.8 537.2h.9v.9h-.9zM248.2 536.5h.9v.9h-.9zM238.1 538.3h.9v.9h-.9zM250.8 539.2h.9v.9h-.9zM238.5 539.9h.9v.9h-.9zM243.7 545.9h.9v.9h-.9zM249.4 544.8h.9v.9h-.9zM250.1 546.0h.9v.9h-.9zM238.0 539.8h.9v.9h-.9zM242.6 536.9h.9v.9h-.9zM246.0 544.3h.9v.9h-.9zM242.1 540.4h.9v.9h-.9zM255.4 536.4h.9v.9h-.9zM238.1 537.5h.9v.9h-.9zM243.7 543.6h.9v.9h-.9zM245.2 545.9h.9v.9h-.9zM239.2 543.3h.9v.9h-.9zM247.4 540.9h.9v.9h-.9zM239.1 545.2h.9v.9h-.9zM244.0 540.8h.9v.9h-.9zM247.7 545.9h.9v.9h-.9zM239.9 541.9h.9v.9h-.9zM245.6 541.9h.9v.9h-.9zM238.3 541.8h.9v.9h-.9zM253.0 544.8h.9v.9h-.9zM239.0 543.6h.9v.9h-.9zM239.6 537.2h.9v.9h-.9zM248.9 540.4h.9v.9h-.9zM238.4 545.5h.9v.9h-.9zM242.6 537.5h.9v.9h-.9zM243.2 539.5h.9v.9h-.9zM250.1 535.3h.9v.9h-.9zM242.3 542.8h.9v.9h-.9zM246.9 538.9h.9v.9h-.9zM241.3 542.2h.9v.9h-.9zM240.3 543.6h.9v.9h-.9zM239.7 541.3h.9v.9h-.9zM246.7 535.0h.9v.9h-.9zM238.6 535.8h.9v.9h-.9zM245.0 535.8h.9v.9h-.9zM248.1 541.2h.9v.9h-.9zM240.7 542.6h.9v.9h-.9zM244.7 539.7h.9v.9h-.9zM272.1 529.0h.9v.9h-.9zM272.2 527.8h.9v.9h-.9zM275.3 526.0h.9v.9h-.9zM269.8 529.8h.9v.9h-.9zM273.2 528.6h.9v.9h-.9z" fill="#666"/>
<path d="M245.0 528.7h.9v.9h-.9zM241.9 526.4h.9v.9h-.9zM238.8 526.5h.9v.9h-.9zM244.5 531.4h.9v.9h-.9zM246.0 530.0h.9v.9h-.9zM240.3 530.4h.9v.9h-.9zM242.3 531.3h.9v.9h-.9zM245.4 530.3h.9v.9h-.9zM242.1 531.1h.9v.9h-.9zM240.4 535.4h.9v.9h-.9zM238.2 529.8h.9v.9h-.9zM238.9 530.0h.9v.9h-.9zM240.2 530.3h.9v.9h-.9zM250.1 531.0h.9v.9h-.9zM239.0 532.3h.9v.9h-.9zM250.0 530.6h.9v.9h-.9zM241.6 535.9h.9v.9h-.9zM246.7 530.3h.9v.9h-.9zM241.9 535.6h.9v.9h-.9zM243.6 526.1h.9v.9h-.9zM241.9 530.0h.9v.9h-.9zM240.2 531.9h.9v.9h-.9zM239.2 531.6h.9v.9h-.9zM240.5 533.6h.9v.9h-.9zM246.9 531.1h.9v.9h-.9zM240.6 532.5h.9v.9h-.9zM240.8 528.9h.9v.9h-.9zM240.7 533.1h.9v.9h-.9zM238.5 530.3h.9v.9h-.9zM239.2 530.9h.9v.9h-.9zM237.9 527.1h.9v.9h-.9zM248.4 531.4h.9v.9h-.9zM243.2 533.0h.9v.9h-.9zM239.8 531.0h.9v.9h-.9zM244.2 535.5h.9v.9h-.9zM241.2 534.2h.9v.9h-.9zM250.8 529.0h.9v.9h-.9zM241.0 532.6h.9v.9h-.9zM248.1 530.5h.9v.9h-.9zM245.7 533.1h.9v.9h-.9zM241.4 527.2h.9v.9h-.9zM252.0 532.1h.9v.9h-.9zM242.5 532.0h.9v.9h-.9zM248.2 528.1h.9v.9h-.9zM245.2 534.8h.9v.9h-.9zM242.9 530.5h.9v.9h-.9zM239.4 532.1h.9v.9h-.9zM240.9 531.5h.9v.9h-.9zM245.5 524.7h.9v.9h-.9zM238.9 531.5h.9v.9h-.9zM245.3 530.8h.9v.9h-.9zM241.6 531.8h.9v.9h-.9zM247.2 528.9h.9v.9h-.9zM243.9 531.6h.9v.9h-.9zM250.4 532.5h.9v.9h-.9zM244.8 531.5h.9v.9h-.9zM239.6 530.1h.9v.9h-.9zM239.6 526.1h.9v.9h-.9zM245.1 528.4h.9v.9h-.9zM242.9 532.3h.9v.9h-.9zM244.8 534.1h.9v.9h-.9zM239.7 533.1h.9v.9h-.9zM249.6 531.0h.9v.9h-.9zM244.4 530.7h.9v.9h-.9zM247.6 531.2h.9v.9h-.9zM242.8 531.2h.9v.9h-.9zM240.7 531.6h.9v.9h-.9zM250.7 535.2h.9v.9h-.9zM246.1 530.3h.9v.9h-.9zM243.4 531.0h.9v.9h-.9zM242.0 531.8h.9v.9h-.9zM240.3 527.1h.9v.9h-.9zM244.7 533.7h.9v.9h-.9zM239.3 528.0h.9v.9h-.9zM243.1 528.1h.9v.9h-.9zM244.0 533.4h.9v.9h-.9zM239.2 533.3h.9v.9h-.9zM239.0 528.0h.9v.9h-.9zM241.8 535.6h.9v.9h-.9zM242.6 528.9h.9v.9h-.9zM245.4 531.2h.9v.9h-.9zM237.9 534.0h.9v.9h-.9zM248.7 531.9h.9v.9h-.9zM244.3 528.1h.9v.9h-.9zM242.9 533.3h.9v.9h-.9zM238.8 527.3h.9v.9h-.9zM244.7 534.1h.9v.9h-.9zM244.2 528.8h.9v.9h-.9zM252.8 530.3h.9v.9h-.9zM245.2 530.7h.9v.9h-.9zM243.6 534.3h.9v.9h-.9zM244.2 530.1h.9v.9h-.9zM241.3 528.0h.9v.9h-.9zM238.4 529.8h.9v.9h-.9zM239.4 528.4h.9v.9h-.9zM241.1 529.2h.9v.9h-.9zM245.3 528.6h.9v.9h-.9zM244.2 528.6h.9v.9h-.9zM241.4 531.2h.9v.9h-.9zM246.0 532.0h.9v.9h-.9zM239.7 534.0h.9v.9h-.9zM239.1 530.6h.9v.9h-.9zM242.1 531.3h.9v.9h-.9zM240.9 531.4h.9v.9h-.9zM239.5 532.2h.9v.9h-.9zM238.5 531.5h.9v.9h-.9zM243.6 531.4h.9v.9h-.9zM244.0 529.3h.9v.9h-.9zM238.9 535.3h.9v.9h-.9zM244.0 531.0h.9v.9h-.9zM239.0 533.0h.9v.9h-.9zM246.4 533.5h.9v.9h-.9zM239.0 531.4h.9v.9h-.9zM239.9 530.4h.9v.9h-.9zM243.1 530.5h.9v.9h-.9zM251.1 528.5h.9v.9h-.9zM240.5 529.1h.9v.9h-.9zM241.2 528.4h.9v.9h-.9zM240.2 531.8h.9v.9h-.9zM244.3 529.5h.9v.9h-.9zM253.1 529.6h.9v.9h-.9zM242.2 529.8h.9v.9h-.9zM238.1 530.9h.9v.9h-.9zM243.9 532.6h.9v.9h-.9zM240.4 530.3h.9v.9h-.9zM246.6 527.9h.9v.9h-.9zM242.4 532.5h.9v.9h-.9zM238.6 532.6h.9v.9h-.9zM243.7 530.7h.9v.9h-.9zM250.8 529.9h.9v.9h-.9zM241.7 530.1h.9v.9h-.9zM244.9 530.7h.9v.9h-.9zM242.4 531.9h.9v.9h-.9zM244.8 530.8h.9v.9h-.9zM239.4 533.2h.9v.9h-.9zM243.9 532.9h.9v.9h-.9zM242.6 531.6h.9v.9h-.9zM240.1 527.3h.9v.9h-.9zM245.3 531.2h.9v.9h-.9zM240.0 535.6h.9v.9h-.9zM238.8 529.5h.9v.9h-.9zM238.3 532.2h.9v.9h-.9zM242.9 530.9h.9v.9h-.9zM243.2 529.6h.9v.9h-.9zM242.9 528.9h.9v.9h-.9zM238.0 530.0h.9v.9h-.9zM238.2 529.3h.9v.9h-.9zM243.2 530.6h.9v.9h-.9zM240.0 533.4h.9v.9h-.9zM243.4 531.4h.9v.9h-.9zM238.2 528.3h.9v.9h-.9zM242.4 531.3h.9v.9h-.9zM250.8 532.2h.9v.9h-.9zM243.6 529.4h.9v.9h-.9zM248.3 531.3h.9v.9h-.9zM245.0 532.1h.9v.9h-.9zM240.1 528.3h.9v.9h-.9zM251.0 531.5h.9v.9h-.9zM242.4 532.3h.9v.9h-.9zM240.3 529.9h.9v.9h-.9zM241.1 534.6h.9v.9h-.9zM248.3 532.5h.9v.9h-.9zM240.1 529.0h.9v.9h-.9zM240.3 534.4h.9v.9h-.9zM240.7 530.4h.9v.9h-.9zM245.4 531.3h.9v.9h-.9zM243.3 531.0h.9v.9h-.9zM242.4 533.2h.9v.9h-.9zM238.8 530.3h.9v.9h-.9zM239.3 534.7h.9v.9h-.9zM240.2 528.1h.9v.9h-.9zM247.4 531.5h.9v.9h-.9zM259.2 530.0h.9v.9h-.9zM238.5 530.4h.9v.9h-.9zM240.2 529.8h.9v.9h-.9zM246.9 527.1h.9v.9h-.9zM238.7 530.0h.9v.9h-.9zM241.4 535.3h.9v.9h-.9zM242.8 533.2h.9v.9h-.9zM240.9 531.6h.9v.9h-.9zM239.2 530.6h.9v.9h-.9zM242.5 532.2h.9v.9h-.9zM239.8 531.3h.9v.9h-.9zM246.7 529.5h.9v.9h-.9zM240.2 530.3h.9v.9h-.9zM242.6 531.7h.9v.9h-.9zM243.5 529.6h.9v.9h-.9zM243.3 530.3h.9v.9h-.9zM246.6 532.1h.9v.9h-.9zM242.8 533.3h.9v.9h-.9zM251.1 530.8h.9v.9h-.9zM245.8 530.1h.9v.9h-.9zM238.5 533.5h.9v.9h-.9zM238.2 534.3h.9v.9h-.9zM241.1 530.9h.9v.9h-.9zM238.5 532.9h.9v.9h-.9zM238.2 529.7h.9v.9h-.9zM239.9 528.2h.9v.9h-.9zM245.6 532.5h.9v.9h-.9zM240.5 531.6h.9v.9h-.9zM241.6 530.2h.9v.9h-.9zM242.8 529.4h.9v.9h-.9zM242.7 534.2h.9v.9h-.9zM247.4 531.6h.9v.9h-.9zM241.1 531.4h.9v.9h-.9zM246.6 530.1h.9v.9h-.9zM238.4 532.0h.9v.9h-.9zM246.6 530.5h.9v.9h-.9zM239.3 530.0h.9v.9h-.9zM241.9 529.7h.9v.9h-.9zM238.4 532.8h.9v.9h-.9zM242.1 529.8h.9v.9h-.9zM240.3 531.7h.9v.9h-.9zM242.1 528.5h.9v.9h-.9zM240.0 529.0h.9v.9h-.9zM242.2 529.1h.9v.9h-.9zM244.4 529.6h.9v.9h-.9zM238.3 529.0h.9v.9h-.9zM239.2 531.3h.9v.9h-.9zM238.4 531.5h.9v.9h-.9zM243.2 529.5h.9v.9h-.9zM237.9 530.9h.9v.9h-.9zM250.3 531.8h.9v.9h-.9zM242.5 529.6h.9v.9h-.9zM240.6 531.2h.9v.9h-.9zM239.9 532.0h.9v.9h-.9zM242.1 532.4h.9v.9h-.9zM240.4 530.2h.9v.9h-.9zM238.0 532.6h.9v.9h-.9zM240.5 532.4h.9v.9h-.9zM238.5 533.3h.9v.9h-.9zM251.3 531.9h.9v.9h-.9zM247.5 534.5h.9v.9h-.9zM241.3 528.2h.9v.9h-.9zM252.1 531.9h.9v.9h-.9zM244.5 533.0h.9v.9h-.9zM240.2 533.9h.9v.9h-.9zM238.4 529.8h.9v.9h-.9zM238.3 531.4h.9v.9h-.9zM238.2 531.8h.9v.9h-.9zM251.1 534.1h.9v.9h-.9zM241.3 532.3h.9v.9h-.9zM242.7 531.3h.9v.9h-.9zM239.0 527.8h.9v.9h-.9zM240.2 532.3h.9v.9h-.9zM244.6 526.8h.9v.9h-.9zM241.8 529.3h.9v.9h-.9zM238.6 531.0h.9v.9h-.9zM247.6 532.3h.9v.9h-.9zM239.4 531.3h.9v.9h-.9zM255.2 529.2h.9v.9h-.9zM243.4 530.8h.9v.9h-.9zM239.8 531.4h.9v.9h-.9zM243.5 529.6h.9v.9h-.9zM239.7 530.7h.9v.9h-.9zM238.0 531.6h.9v.9h-.9zM239.6 531.4h.9v.9h-.9zM238.1 533.0h.9v.9h-.9zM238.6 531.6h.9v.9h-.9zM253.5 532.2h.9v.9h-.9zM241.0 533.2h.9v.9h-.9zM243.9 532.4h.9v.9h-.9zM242.4 531.9h.9v.9h-.9zM243.7 532.6h.9v.9h-.9zM245.0 529.7h.9v.9h-.9zM240.5 529.9h.9v.9h-.9zM245.3 531.3h.9v.9h-.9zM245.7 531.2h.9v.9h-.9zM243.9 533.0h.9v.9h-.9zM239.9 526.6h.9v.9h-.9zM240.2 533.0h.9v.9h-.9zM239.9 529.7h.9v.9h-.9zM241.8 532.1h.9v.9h-.9zM246.7 532.8h.9v.9h-.9zM240.1 529.4h.9v.9h-.9zM239.6 531.6h.9v.9h-.9zM238.0 531.8h.9v.9h-.9zM245.0 532.1h.9v.9h-.9zM238.0 531.7h.9v.9h-.9zM238.5 530.4h.9v.9h-.9zM239.4 532.6h.9v.9h-.9zM239.8 531.6h.9v.9h-.9zM242.5 531.8h.9v.9h-.9zM238.0 528.5h.9v.9h-.9zM244.8 529.2h.9v.9h-.9zM238.4 528.4h.9v.9h-.9zM248.2 532.3h.9v.9h-.9zM246.3 526.9h.9v.9h-.9zM239.2 527.9h.9v.9h-.9zM239.1 534.6h.9v.9h-.9zM240.2 531.7h.9v.9h-.9zM241.2 531.5h.9v.9h-.9zM238.6 534.0h.9v.9h-.9zM238.4 531.7h.9v.9h-.9zM238.6 528.5h.9v.9h-.9zM239.8 531.1h.9v.9h-.9zM241.8 532.4h.9v.9h-.9zM247.2 527.2h.9v.9h-.9zM241.2 530.1h.9v.9h-.9zM243.0 531.8h.9v.9h-.9zM238.4 531.3h.9v.9h-.9zM247.6 529.1h.9v.9h-.9zM238.3 530.1h.9v.9h-.9zM241.5 530.8h.9v.9h-.9zM239.5 528.9h.9v.9h-.9zM247.8 529.7h.9v.9h-.9zM241.8 532.2h.9v.9h-.9zM243.6 529.9h.9v.9h-.9zM243.8 531.9h.9v.9h-.9zM239.4 526.3h.9v.9h-.9zM253.4 529.9h.9v.9h-.9zM240.2 530.5h.9v.9h-.9zM240.4 529.1h.9v.9h-.9zM253.6 532.8h.9v.9h-.9zM245.6 531.5h.9v.9h-.9zM250.2 531.5h.9v.9h-.9zM241.2 531.9h.9v.9h-.9zM238.6 532.3h.9v.9h-.9zM243.1 530.3h.9v.9h-.9zM237.9 529.5h.9v.9h-.9zM240.6 532.2h.9v.9h-.9zM249.3 530.6h.9v.9h-.9zM242.8 528.8h.9v.9h-.9zM240.6 531.6h.9v.9h-.9zM241.3 529.0h.9v.9h-.9zM241.5 531.3h.9v.9h-.9zM245.7 532.8h.9v.9h-.9zM241.1 530.2h.9v.9h-.9zM239.4 529.3h.9v.9h-.9zM242.8 527.4h.9v.9h-.9zM245.6 528.5h.9v.9h-.9zM238.5 531.2h.9v.9h-.9zM245.9 530.8h.9v.9h-.9zM240.3 532.8h.9v.9h-.9zM238.5 531.4h.9v.9h-.9zM240.1 532.8h.9v.9h-.9zM247.1 531.5h.9v.9h-.9zM251.6 534.4h.9v.9h-.9zM243.3 526.8h.9v.9h-.9zM241.0 528.2h.9v.9h-.9zM248.4 530.2h.9v.9h-.9zM243.1 533.0h.9v.9h-.9zM241.0 528.8h.9v.9h-.9zM238.4 531.8h.9v.9h-.9zM242.7 532.0h.9v.9h-.9zM246.8 529.4h.9v.9h-.9zM239.0 529.3h.9v.9h-.9zM242.2 530.3h.9v.9h-.9zM238.4 530.2h.9v.9h-.9zM238.1 528.0h.9v.9h-.9zM250.2 529.9h.9v.9h-.9zM242.3 527.5h.9v.9h-.9zM238.5 528.3h.9v.9h-.9zM239.8 533.3h.9v.9h-.9zM241.4 530.1h.9v.9h-.9zM245.3 530.6h.9v.9h-.9zM238.3 531.1h.9v.9h-.9zM240.8 531.8h.9v.9h-.9zM245.3 527.5h.9v.9h-.9zM244.9 529.5h.9v.9h-.9zM240.1 531.6h.9v.9h-.9zM240.8 528.6h.9v.9h-.9zM239.2 529.1h.9v.9h-.9zM241.0 530.1h.9v.9h-.9zM239.5 532.5h.9v.9h-.9zM247.1 528.0h.9v.9h-.9zM242.1 533.5h.9v.9h-.9zM238.3 529.6h.9v.9h-.9zM245.1 532.0h.9v.9h-.9zM243.9 527.4h.9v.9h-.9zM238.8 528.9h.9v.9h-.9zM244.5 532.1h.9v.9h-.9zM242.1 530.0h.9v.9h-.9zM239.5 533.7h.9v.9h-.9zM241.7 530.7h.9v.9h-.9zM240.8 531.2h.9v.9h-.9zM245.4 530.0h.9v.9h-.9zM239.5 532.2h.9v.9h-.9zM245.1 529.4h.9v.9h-.9zM241.5 528.0h.9v.9h-.9zM244.3 531.9h.9v.9h-.9zM245.5 526.7h.9v.9h-.9zM242.8 534.5h.9v.9h-.9zM246.3 527.4h.9v.9h-.9zM239.1 534.1h.9v.9h-.9zM241.6 529.1h.9v.9h-.9zM241.1 531.8h.9v.9h-.9zM239.4 531.7h.9v.9h-.9zM242.7 533.3h.9v.9h-.9zM245.9 533.1h.9v.9h-.9zM238.9 527.3h.9v.9h-.9zM241.0 528.0h.9v.9h-.9zM251.3 528.7h.9v.9h-.9zM248.9 527.3h.9v.9h-.9zM240.1 531.6h.9v.9h-.9zM241.6 531.5h.9v.9h-.9zM242.6 532.6h.9v.9h-.9zM242.1 528.0h.9v.9h-.9zM243.2 532.0h.9v.9h-.9zM243.5 530.5h.9v.9h-.9zM243.9 532.8h.9v.9h-.9zM244.3 533.2h.9v.9h-.9zM253.3 531.1h.9v.9h-.9zM240.1 530.7h.9v.9h-.9zM238.5 527.8h.9v.9h-.9zM238.8 532.0h.9v.9h-.9zM243.5 531.2h.9v.9h-.9zM239.0 526.5h.9v.9h-.9zM241.6 532.1h.9v.9h-.9zM247.2 531.0h.9v.9h-.9zM239.8 528.5h.9v.9h-.9zM239.4 532.7h.9v.9h-.9zM242.1 529.0h.9v.9h-.9zM243.9 531.7h.9v.9h-.9zM238.6 534.0h.9v.9h-.9zM242.2 531.7h.9v.9h-.9zM243.5 532.3h.9v.9h-.9zM245.4 530.8h.9v.9h-.9zM248.5 534.1h.9v.9h-.9zM242.6 532.0h.9v.9h-.9zM238.1 530.8h.9v.9h-.9zM238.5 529.1h.9v.9h-.9zM242.4 531.2h.9v.9h-.9zM243.6 531.5h.9v.9h-.9zM239.9 530.9h.9v.9h-.9zM241.1 536.3h.9v.9h-.9zM244.2 531.8h.9v.9h-.9zM242.1 531.8h.9v.9h-.9zM246.7 530.1h.9v.9h-.9zM239.9 531.0h.9v.9h-.9zM246.0 533.2h.9v.9h-.9zM245.3 532.1h.9v.9h-.9zM245.0 529.3h.9v.9h-.9zM239.0 530.6h.9v.9h-.9zM248.1 531.5h.9v.9h-.9zM248.3 533.1h.9v.9h-.9zM244.0 527.0h.9v.9h-.9zM254.1 536.2h.9v.9h-.9zM238.4 526.8h.9v.9h-.9zM244.1 533.8h.9v.9h-.9zM252.1 533.5h.9v.9h-.9zM242.1 530.9h.9v.9h-.9zM242.1 531.8h.9v.9h-.9zM242.7 531.3h.9v.9h-.9zM239.4 530.1h.9v.9h-.9zM241.1 532.9h.9v.9h-.9zM243.2 531.9h.9v.9h-.9zM247.9 528.5h.9v.9h-.9zM238.3 531.4h.9v.9h-.9zM245.1 526.5h.9v.9h-.9zM240.5 530.4h.9v.9h-.9zM239.0 535.5h.9v.9h-.9zM239.3 530.8h.9v.9h-.9zM240.4 532.9h.9v.9h-.9zM239.0 534.3h.9v.9h-.9zM245.1 533.5h.9v.9h-.9zM242.1 533.0h.9v.9h-.9zM247.1 530.5h.9v.9h-.9zM240.4 531.5h.9v.9h-.9zM241.5 529.5h.9v.9h-.9zM242.5 532.7h.9v.9h-.9zM251.5 528.4h.9v.9h-.9zM238.3 533.6h.9v.9h-.9zM238.5 533.5h.9v.9h-.9zM238.3 529.9h.9v.9h-.9zM247.2 531.4h.9v.9h-.9zM248.2 531.2h.9v.9h-.9zM244.1 532.2h.9v.9h-.9zM246.1 528.7h.9v.9h-.9zM244.5 531.8h.9v.9h-.9zM243.8 558.1h.9v.9h-.9zM238.6 557.8h.9v.9h-.9zM239.9 561.8h.9v.9h-.9zM245.8 548.3h.9v.9h-.9zM243.1 561.1h.9v.9h-.9zM241.2 546.5h.9v.9h-.9zM255.4 552.7h.9v.9h-.9zM239.1 559.6h.9v.9h-.9zM240.2 556.2h.9v.9h-.9zM247.5 559.4h.9v.9h-.9zM244.0 556.2h.9v.9h-.9zM242.6 555.2h.9v.9h-.9zM249.0 554.2h.9v.9h-.9zM241.6 560.3h.9v.9h-.9zM245.9 557.2h.9v.9h-.9zM239.7 561.9h.9v.9h-.9zM240.4 557.7h.9v.9h-.9zM239.8 559.1h.9v.9h-.9zM242.6 556.3h.9v.9h-.9zM239.6 564.9h.9v.9h-.9zM238.2 553.4h.9v.9h-.9zM242.0 551.3h.9v.9h-.9zM244.6 561.2h.9v.9h-.9zM238.0 560.6h.9v.9h-.9zM242.7 553.5h.9v.9h-.9zM241.0 555.3h.9v.9h-.9zM239.2 558.1h.9v.9h-.9zM238.4 551.1h.9v.9h-.9zM239.7 557.1h.9v.9h-.9zM241.1 552.2h.9v.9h-.9zM239.1 556.1h.9v.9h-.9zM240.5 555.8h.9v.9h-.9zM239.4 550.8h.9v.9h-.9zM241.2 554.9h.9v.9h-.9zM240.8 556.3h.9v.9h-.9zM246.6 559.7h.9v.9h-.9zM239.8 557.9h.9v.9h-.9zM246.6 558.6h.9v.9h-.9zM245.6 552.4h.9v.9h-.9zM246.0 559.8h.9v.9h-.9zM239.6 555.1h.9v.9h-.9zM238.0 553.4h.9v.9h-.9zM238.0 557.2h.9v.9h-.9zM238.3 551.5h.9v.9h-.9zM243.6 554.0h.9v.9h-.9zM240.3 559.7h.9v.9h-.9zM239.2 565.6h.9v.9h-.9zM242.8 559.3h.9v.9h-.9zM243.6 559.3h.9v.9h-.9zM244.4 552.4h.9v.9h-.9zM239.4 559.2h.9v.9h-.9zM247.3 557.4h.9v.9h-.9zM245.5 559.0h.9v.9h-.9zM240.9 555.6h.9v.9h-.9zM238.7 562.3h.9v.9h-.9zM250.9 554.8h.9v.9h-.9zM246.5 554.7h.9v.9h-.9zM247.4 560.9h.9v.9h-.9zM240.6 553.7h.9v.9h-.9zM241.6 559.2h.9v.9h-.9zM246.0 564.5h.9v.9h-.9zM238.7 563.5h.9v.9h-.9zM247.7 548.1h.9v.9h-.9zM245.8 562.3h.9v.9h-.9zM239.4 558.8h.9v.9h-.9zM246.0 550.5h.9v.9h-.9zM239.6 556.3h.9v.9h-.9zM243.9 556.2h.9v.9h-.9zM244.4 551.4h.9v.9h-.9zM238.3 561.7h.9v.9h-.9zM239.2 558.8h.9v.9h-.9zM247.0 559.9h.9v.9h-.9zM248.5 561.9h.9v.9h-.9zM242.7 558.5h.9v.9h-.9zM244.2 563.2h.9v.9h-.9zM243.8 553.7h.9v.9h-.9zM243.0 559.9h.9v.9h-.9zM238.1 558.1h.9v.9h-.9zM242.6 555.5h.9v.9h-.9zM243.7 560.5h.9v.9h-.9zM251.6 552.5h.9v.9h-.9zM240.7 557.5h.9v.9h-.9zM238.3 554.7h.9v.9h-.9zM240.4 556.6h.9v.9h-.9zM245.6 556.5h.9v.9h-.9zM242.5 558.4h.9v.9h-.9zM253.7 553.1h.9v.9h-.9zM241.7 558.4h.9v.9h-.9zM251.7 556.1h.9v.9h-.9zM244.4 561.4h.9v.9h-.9zM242.7 555.0h.9v.9h-.9zM240.7 551.8h.9v.9h-.9zM239.2 558.2h.9v.9h-.9zM244.3 555.1h.9v.9h-.9zM250.9 560.6h.9v.9h-.9zM244.4 554.6h.9v.9h-.9zM240.1 564.4h.9v.9h-.9zM238.2 562.2h.9v.9h-.9zM238.4 550.7h.9v.9h-.9zM240.7 559.3h.9v.9h-.9zM241.3 550.0h.9v.9h-.9zM255.1 565.9h.9v.9h-.9zM239.2 558.7h.9v.9h-.9zM246.0 559.1h.9v.9h-.9zM240.2 554.9h.9v.9h-.9zM238.8 554.9h.9v.9h-.9zM242.0 555.3h.9v.9h-.9zM239.2 558.2h.9v.9h-.9zM238.5 554.7h.9v.9h-.9zM238.4 552.9h.9v.9h-.9zM245.3 553.4h.9v.9h-.9zM250.5 557.7h.9v.9h-.9zM242.3 555.2h.9v.9h-.9zM244.3 565.1h.9v.9h-.9zM242.2 560.6h.9v.9h-.9zM252.5 563.4h.9v.9h-.9zM244.2 561.8h.9v.9h-.9zM238.3 549.6h.9v.9h-.9zM252.8 557.1h.9v.9h-.9zM242.5 565.3h.9v.9h-.9zM241.3 552.9h.9v.9h-.9zM242.8 551.1h.9v.9h-.9zM243.3 563.3h.9v.9h-.9zM247.7 556.8h.9v.9h-.9zM246.2 551.6h.9v.9h-.9zM241.8 561.5h.9v.9h-.9zM248.9 557.1h.9v.9h-.9zM239.5 548.3h.9v.9h-.9zM245.3 558.5h.9v.9h-.9zM241.0 557.3h.9v.9h-.9zM242.8 563.0h.9v.9h-.9zM238.8 565.6h.9v.9h-.9zM241.5 553.3h.9v.9h-.9zM240.6 554.4h.9v.9h-.9zM238.0 557.6h.9v.9h-.9zM242.4 551.9h.9v.9h-.9zM238.2 551.6h.9v.9h-.9zM242.8 558.6h.9v.9h-.9zM238.5 552.6h.9v.9h-.9zM246.5 552.6h.9v.9h-.9zM246.8 559.4h.9v.9h-.9zM242.4 558.3h.9v.9h-.9zM239.8 554.8h.9v.9h-.9zM238.9 557.3h.9v.9h-.9zM238.2 554.8h.9v.9h-.9zM244.3 558.3h.9v.9h-.9zM240.2 552.1h.9v.9h-.9zM239.3 556.9h.9v.9h-.9zM240.9 549.5h.9v.9h-.9zM246.3 550.9h.9v.9h-.9zM245.3 552.2h.9v.9h-.9zM243.0 551.9h.9v.9h-.9zM250.7 558.2h.9v.9h-.9zM242.0 556.8h.9v.9h-.9zM243.1 558.7h.9v.9h-.9zM242.7 559.6h.9v.9h-.9zM241.6 558.7h.9v.9h-.9zM244.5 557.1h.9v.9h-.9zM241.0 564.1h.9v.9h-.9zM240.8 558.8h.9v.9h-.9zM250.5 554.2h.9v.9h-.9zM239.5 554.0h.9v.9h-.9zM243.5 559.9h.9v.9h-.9zM239.1 557.6h.9v.9h-.9zM248.1 559.2h.9v.9h-.9zM242.2 548.4h.9v.9h-.9zM242.2 549.9h.9v.9h-.9zM247.4 549.5h.9v.9h-.9zM239.6 552.4h.9v.9h-.9zM242.8 551.3h.9v.9h-.9zM245.2 552.1h.9v.9h-.9zM241.7 558.0h.9v.9h-.9zM240.1 560.1h.9v.9h-.9zM242.3 549.8h.9v.9h-.9zM240.6 562.3h.9v.9h-.9zM241.1 553.3h.9v.9h-.9zM244.9 560.5h.9v.9h-.9zM240.1 559.0h.9v.9h-.9zM238.1 557.5h.9v.9h-.9zM241.8 560.9h.9v.9h-.9zM238.4 557.3h.9v.9h-.9zM252.7 553.4h.9v.9h-.9zM240.7 553.5h.9v.9h-.9zM240.1 556.1h.9v.9h-.9zM238.3 557.4h.9v.9h-.9zM245.8 559.2h.9v.9h-.9zM238.2 551.8h.9v.9h-.9zM240.1 552.2h.9v.9h-.9zM245.3 553.9h.9v.9h-.9zM241.6 556.4h.9v.9h-.9zM243.9 559.2h.9v.9h-.9zM239.9 554.0h.9v.9h-.9zM241.1 565.1h.9v.9h-.9zM244.8 559.5h.9v.9h-.9zM239.6 563.7h.9v.9h-.9zM240.2 555.9h.9v.9h-.9zM238.7 552.3h.9v.9h-.9zM243.1 565.2h.9v.9h-.9zM238.9 553.1h.9v.9h-.9zM239.3 554.9h.9v.9h-.9zM240.5 556.8h.9v.9h-.9zM246.6 549.1h.9v.9h-.9zM239.1 556.0h.9v.9h-.9zM244.9 556.6h.9v.9h-.9zM241.2 557.9h.9v.9h-.9zM239.1 561.9h.9v.9h-.9zM246.3 560.0h.9v.9h-.9zM238.1 560.8h.9v.9h-.9zM242.3 559.1h.9v.9h-.9zM242.6 555.4h.9v.9h-.9zM242.6 559.4h.9v.9h-.9zM240.4 556.3h.9v.9h-.9zM240.2 559.6h.9v.9h-.9zM240.8 552.3h.9v.9h-.9zM248.0 562.3h.9v.9h-.9zM242.3 563.2h.9v.9h-.9zM249.9 559.7h.9v.9h-.9zM242.1 558.2h.9v.9h-.9zM239.0 560.5h.9v.9h-.9zM241.1 552.1h.9v.9h-.9zM242.1 561.5h.9v.9h-.9zM242.5 552.1h.9v.9h-.9zM246.5 559.0h.9v.9h-.9zM242.6 553.9h.9v.9h-.9zM240.8 558.1h.9v.9h-.9zM249.7 560.5h.9v.9h-.9zM239.9 561.1h.9v.9h-.9zM244.5 553.3h.9v.9h-.9zM240.9 561.5h.9v.9h-.9zM238.1 555.7h.9v.9h-.9zM246.0 561.9h.9v.9h-.9zM239.8 556.0h.9v.9h-.9zM245.5 560.2h.9v.9h-.9zM239.9 563.6h.9v.9h-.9zM244.6 558.1h.9v.9h-.9zM240.8 560.5h.9v.9h-.9zM240.5 551.8h.9v.9h-.9zM245.1 550.0h.9v.9h-.9zM246.7 550.9h.9v.9h-.9zM241.0 561.7h.9v.9h-.9zM241.6 562.8h.9v.9h-.9zM247.8 563.2h.9v.9h-.9zM245.4 562.9h.9v.9h-.9zM251.7 553.2h.9v.9h-.9zM247.3 562.8h.9v.9h-.9zM241.2 557.0h.9v.9h-.9zM238.1 549.6h.9v.9h-.9zM242.7 558.0h.9v.9h-.9zM240.9 561.2h.9v.9h-.9zM243.6 555.1h.9v.9h-.9zM238.2 563.4h.9v.9h-.9zM245.8 559.4h.9v.9h-.9zM242.8 558.1h.9v.9h-.9zM249.1 558.9h.9v.9h-.9zM240.4 554.1h.9v.9h-.9zM246.1 557.0h.9v.9h-.9zM251.2 556.8h.9v.9h-.9zM238.8 553.1h.9v.9h-.9zM242.4 562.4h.9v.9h-.9zM245.5 566.1h.9v.9h-.9zM244.9 558.5h.9v.9h-.9zM239.0 562.6h.9v.9h-.9zM242.1 557.9h.9v.9h-.9zM248.8 556.4h.9v.9h-.9zM239.1 562.0h.9v.9h-.9zM241.0 557.5h.9v.9h-.9zM244.3 565.2h.9v.9h-.9zM237.9 558.7h.9v.9h-.9zM253.6 563.4h.9v.9h-.9zM248.2 552.8h.9v.9h-.9zM238.9 553.5h.9v.9h-.9zM240.3 560.2h.9v.9h-.9zM241.4 558.1h.9v.9h-.9zM239.3 551.7h.9v.9h-.9zM243.2 557.3h.9v.9h-.9zM245.0 549.7h.9v.9h-.9zM239.2 549.6h.9v.9h-.9zM244.6 553.9h.9v.9h-.9zM243.9 561.0h.9v.9h-.9zM238.2 558.2h.9v.9h-.9zM238.3 562.1h.9v.9h-.9zM239.8 558.3h.9v.9h-.9zM238.0 561.4h.9v.9h-.9zM244.8 555.6h.9v.9h-.9zM243.2 550.5h.9v.9h-.9zM242.5 554.8h.9v.9h-.9zM242.1 559.5h.9v.9h-.9zM246.0 550.2h.9v.9h-.9zM239.2 553.3h.9v.9h-.9zM238.4 557.5h.9v.9h-.9zM241.7 555.3h.9v.9h-.9zM243.2 557.1h.9v.9h-.9zM238.5 560.1h.9v.9h-.9zM242.1 551.8h.9v.9h-.9zM239.9 564.3h.9v.9h-.9zM241.7 565.9h.9v.9h-.9zM246.0 553.1h.9v.9h-.9zM238.7 551.7h.9v.9h-.9zM243.9 552.3h.9v.9h-.9zM238.8 555.3h.9v.9h-.9zM240.6 561.7h.9v.9h-.9zM240.6 556.4h.9v.9h-.9zM238.2 552.8h.9v.9h-.9zM245.3 557.9h.9v.9h-.9zM240.7 553.7h.9v.9h-.9zM245.8 554.7h.9v.9h-.9zM240.9 553.7h.9v.9h-.9zM239.2 562.1h.9v.9h-.9zM245.1 553.1h.9v.9h-.9zM242.4 560.7h.9v.9h-.9zM241.7 555.9h.9v.9h-.9zM249.3 563.3h.9v.9h-.9zM245.1 557.7h.9v.9h-.9zM238.3 558.1h.9v.9h-.9zM238.4 559.7h.9v.9h-.9zM248.9 562.9h.9v.9h-.9zM243.0 559.0h.9v.9h-.9zM240.8 550.9h.9v.9h-.9zM242.3 557.4h.9v.9h-.9zM240.5 564.6h.9v.9h-.9zM238.2 562.3h.9v.9h-.9zM241.4 557.2h.9v.9h-.9zM242.8 550.6h.9v.9h-.9zM245.5 557.8h.9v.9h-.9zM239.9 545.6h.9v.9h-.9zM239.3 556.1h.9v.9h-.9zM247.0 556.8h.9v.9h-.9zM242.5 563.1h.9v.9h-.9zM243.7 561.7h.9v.9h-.9zM244.9 552.5h.9v.9h-.9zM246.6 553.7h.9v.9h-.9zM240.3 550.1h.9v.9h-.9zM238.9 563.3h.9v.9h-.9zM239.5 555.9h.9v.9h-.9zM238.0 553.7h.9v.9h-.9zM245.4 557.3h.9v.9h-.9zM239.7 549.3h.9v.9h-.9zM252.3 559.2h.9v.9h-.9zM245.4 559.1h.9v.9h-.9zM243.4 556.8h.9v.9h-.9zM241.4 545.8h.9v.9h-.9zM247.2 561.0h.9v.9h-.9zM242.4 552.3h.9v.9h-.9zM240.9 548.2h.9v.9h-.9zM242.2 561.2h.9v.9h-.9zM245.1 552.3h.9v.9h-.9zM248.7 554.9h.9v.9h-.9zM239.0 555.5h.9v.9h-.9zM250.2 561.5h.9v.9h-.9zM247.7 554.4h.9v.9h-.9zM243.2 563.8h.9v.9h-.9zM246.9 555.6h.9v.9h-.9zM246.0 550.0h.9v.9h-.9zM241.6 545.1h.9v.9h-.9zM245.1 557.2h.9v.9h-.9zM242.3 552.1h.9v.9h-.9zM252.8 560.5h.9v.9h-.9zM241.0 561.9h.9v.9h-.9zM241.8 557.8h.9v.9h-.9zM242.4 555.4h.9v.9h-.9zM241.3 565.0h.9v.9h-.9zM238.4 563.8h.9v.9h-.9zM249.9 552.9h.9v.9h-.9zM243.4 557.6h.9v.9h-.9zM238.2 561.4h.9v.9h-.9zM241.0 557.0h.9v.9h-.9zM241.1 560.2h.9v.9h-.9zM239.6 546.1h.9v.9h-.9zM240.8 559.8h.9v.9h-.9zM240.2 563.2h.9v.9h-.9zM241.0 557.3h.9v.9h-.9zM242.8 556.5h.9v.9h-.9zM244.6 563.3h.9v.9h-.9zM243.2 560.0h.9v.9h-.9zM238.7 551.3h.9v.9h-.9zM241.7 554.1h.9v.9h-.9zM239.6 556.5h.9v.9h-.9zM243.1 554.0h.9v.9h-.9zM242.7 557.1h.9v.9h-.9zM247.7 556.5h.9v.9h-.9zM238.8 548.6h.9v.9h-.9zM243.2 557.2h.9v.9h-.9zM251.2 559.2h.9v.9h-.9zM240.9 555.6h.9v.9h-.9zM245.8 556.5h.9v.9h-.9zM238.8 558.8h.9v.9h-.9zM244.6 559.5h.9v.9h-.9zM243.0 558.1h.9v.9h-.9zM244.6 555.3h.9v.9h-.9zM241.7 564.5h.9v.9h-.9zM238.1 561.8h.9v.9h-.9zM241.5 559.1h.9v.9h-.9zM246.5 556.9h.9v.9h-.9zM247.1 556.0h.9v.9h-.9zM241.4 552.1h.9v.9h-.9zM240.2 558.9h.9v.9h-.9zM241.0 557.4h.9v.9h-.9zM238.6 557.4h.9v.9h-.9zM240.5 553.3h.9v.9h-.9zM238.5 561.0h.9v.9h-.9zM242.1 557.1h.9v.9h-.9zM242.2 552.8h.9v.9h-.9zM240.3 557.8h.9v.9h-.9zM244.2 553.2h.9v.9h-.9zM240.4 564.0h.9v.9h-.9zM250.4 559.7h.9v.9h-.9zM246.3 554.4h.9v.9h-.9zM244.1 558.5h.9v.9h-.9zM242.2 551.7h.9v.9h-.9zM239.1 560.3h.9v.9h-.9zM244.8 559.2h.9v.9h-.9zM240.7 561.5h.9v.9h-.9zM248.5 551.0h.9v.9h-.9zM248.7 557.4h.9v.9h-.9zM247.9 565.3h.9v.9h-.9zM242.6 553.0h.9v.9h-.9zM241.8 554.5h.9v.9h-.9zM243.3 556.5h.9v.9h-.9zM248.4 553.0h.9v.9h-.9zM247.1 554.0h.9v.9h-.9zM242.4 558.7h.9v.9h-.9zM245.5 548.7h.9v.9h-.9zM238.6 555.8h.9v.9h-.9zM241.2 560.5h.9v.9h-.9zM240.0 559.9h.9v.9h-.9zM243.9 556.5h.9v.9h-.9zM238.6 561.7h.9v.9h-.9zM245.8 555.0h.9v.9h-.9zM238.1 546.3h.9v.9h-.9zM250.4 558.8h.9v.9h-.9zM241.3 558.7h.9v.9h-.9zM238.6 549.3h.9v.9h-.9zM243.2 553.5h.9v.9h-.9zM239.0 552.2h.9v.9h-.9zM239.4 560.0h.9v.9h-.9zM239.2 557.8h.9v.9h-.9zM252.4 553.7h.9v.9h-.9zM241.6 560.9h.9v.9h-.9zM239.8 564.9h.9v.9h-.9zM241.7 557.1h.9v.9h-.9zM248.5 550.0h.9v.9h-.9zM244.5 558.5h.9v.9h-.9zM239.5 563.5h.9v.9h-.9zM241.2 560.0h.9v.9h-.9zM240.6 563.0h.9v.9h-.9zM245.1 556.9h.9v.9h-.9zM240.9 552.3h.9v.9h-.9zM244.2 555.4h.9v.9h-.9zM241.6 546.7h.9v.9h-.9zM243.9 552.8h.9v.9h-.9zM240.3 550.0h.9v.9h-.9zM240.1 561.5h.9v.9h-.9zM238.6 557.8h.9v.9h-.9zM240.0 553.2h.9v.9h-.9zM237.9 558.1h.9v.9h-.9zM247.1 558.0h.9v.9h-.9zM242.1 560.8h.9v.9h-.9zM244.0 548.0h.9v.9h-.9zM239.2 553.9h.9v.9h-.9zM241.8 556.8h.9v.9h-.9zM245.7 553.8h.9v.9h-.9zM240.9 566.4h.9v.9h-.9zM245.4 552.4h.9v.9h-.9zM245.4 563.6h.9v.9h-.9zM239.9 563.2h.9v.9h-.9zM238.3 553.0h.9v.9h-.9zM238.4 561.1h.9v.9h-.9zM246.9 556.1h.9v.9h-.9zM245.7 558.1h.9v.9h-.9zM240.6 554.0h.9v.9h-.9zM240.5 558.0h.9v.9h-.9zM245.2 553.9h.9v.9h-.9zM246.5 556.1h.9v.9h-.9zM248.9 546.2h.9v.9h-.9zM244.4 557.1h.9v.9h-.9zM243.8 557.8h.9v.9h-.9zM238.4 551.0h.9v.9h-.9zM249.0 565.0h.9v.9h-.9zM248.1 555.7h.9v.9h-.9zM245.8 555.2h.9v.9h-.9zM240.6 556.0h.9v.9h-.9zM244.7 562.5h.9v.9h-.9zM239.8 559.0h.9v.9h-.9zM242.0 550.0h.9v.9h-.9zM238.4 552.5h.9v.9h-.9zM245.0 562.7h.9v.9h-.9zM239.9 563.7h.9v.9h-.9zM239.5 553.5h.9v.9h-.9zM246.2 557.1h.9v.9h-.9zM240.0 551.1h.9v.9h-.9zM242.3 556.7h.9v.9h-.9zM238.7 552.1h.9v.9h-.9zM242.5 555.1h.9v.9h-.9zM238.9 562.8h.9v.9h-.9zM248.5 550.7h.9v.9h-.9zM243.7 553.7h.9v.9h-.9zM243.0 551.7h.9v.9h-.9zM242.0 559.0h.9v.9h-.9zM240.4 552.9h.9v.9h-.9zM241.6 557.7h.9v.9h-.9zM243.9 562.4h.9v.9h-.9zM241.9 552.6h.9v.9h-.9zM240.1 553.3h.9v.9h-.9zM244.0 563.2h.9v.9h-.9zM240.7 552.6h.9v.9h-.9zM239.0 556.3h.9v.9h-.9zM249.8 554.9h.9v.9h-.9zM240.8 554.9h.9v.9h-.9zM240.6 551.7h.9v.9h-.9zM243.0 555.4h.9v.9h-.9zM242.5 551.3h.9v.9h-.9zM243.5 556.8h.9v.9h-.9zM240.4 558.5h.9v.9h-.9zM238.9 555.4h.9v.9h-.9zM239.9 554.9h.9v.9h-.9zM243.4 564.4h.9v.9h-.9zM238.1 552.8h.9v.9h-.9zM238.2 561.4h.9v.9h-.9zM241.9 556.7h.9v.9h-.9zM248.5 551.6h.9v.9h-.9zM240.0 553.7h.9v.9h-.9zM239.5 547.1h.9v.9h-.9zM241.5 555.2h.9v.9h-.9zM249.9 549.7h.9v.9h-.9zM240.9 555.6h.9v.9h-.9zM240.5 563.2h.9v.9h-.9zM238.2 557.1h.9v.9h-.9zM241.3 559.5h.9v.9h-.9zM240.3 557.1h.9v.9h-.9zM246.6 554.5h.9v.9h-.9zM241.2 562.5h.9v.9h-.9zM248.7 555.6h.9v.9h-.9zM245.7 554.0h.9v.9h-.9zM248.5 553.7h.9v.9h-.9zM240.4 558.3h.9v.9h-.9zM245.7 550.5h.9v.9h-.9zM251.0 557.5h.9v.9h-.9zM247.4 551.3h.9v.9h-.9zM239.7 552.7h.9v.9h-.9zM245.9 562.1h.9v.9h-.9zM239.6 552.0h.9v.9h-.9zM238.7 561.3h.9v.9h-.9zM244.3 555.0h.9v.9h-.9zM242.4 562.5h.9v.9h-.9zM239.7 559.7h.9v.9h-.9zM238.7 552.5h.9v.9h-.9zM247.2 558.1h.9v.9h-.9zM239.1 563.1h.9v.9h-.9zM239.1 560.1h.9v.9h-.9zM244.2 555.6h.9v.9h-.9zM240.6 555.4h.9v.9h-.9zM242.1 555.2h.9v.9h-.9zM239.5 558.8h.9v.9h-.9zM244.9 565.0h.9v.9h-.9zM246.6 546.2h.9v.9h-.9zM239.2 554.2h.9v.9h-.9zM241.3 558.2h.9v.9h-.9zM237.9 561.2h.9v.9h-.9zM242.6 563.0h.9v.9h-.9zM243.0 556.5h.9v.9h-.9zM238.0 559.5h.9v.9h-.9zM242.9 560.3h.9v.9h-.9zM244.6 559.5h.9v.9h-.9zM238.3 564.9h.9v.9h-.9zM239.2 566.0h.9v.9h-.9zM251.3 553.4h.9v.9h-.9zM239.9 564.5h.9v.9h-.9zM243.1 553.6h.9v.9h-.9zM242.5 556.1h.9v.9h-.9zM238.2 552.6h.9v.9h-.9zM245.1 552.2h.9v.9h-.9zM239.3 557.5h.9v.9h-.9zM238.7 561.7h.9v.9h-.9zM243.5 561.4h.9v.9h-.9zM244.9 557.2h.9v.9h-.9zM249.9 549.9h.9v.9h-.9zM241.4 550.5h.9v.9h-.9zM256.7 546.5h.9v.9h-.9zM239.6 552.1h.9v.9h-.9zM252.6 557.3h.9v.9h-.9zM245.8 555.0h.9v.9h-.9zM241.1 563.4h.9v.9h-.9zM252.7 557.8h.9v.9h-.9zM258.5 557.0h.9v.9h-.9zM239.7 556.6h.9v.9h-.9zM243.0 558.8h.9v.9h-.9zM241.6 551.8h.9v.9h-.9zM238.0 559.1h.9v.9h-.9zM237.9 559.4h.9v.9h-.9zM244.3 563.0h.9v.9h-.9zM239.2 559.6h.9v.9h-.9zM240.3 555.3h.9v.9h-.9zM242.4 551.2h.9v.9h-.9zM245.1 551.9h.9v.9h-.9zM238.5 553.4h.9v.9h-.9zM243.3 559.1h.9v.9h-.9zM248.5 563.4h.9v.9h-.9zM248.1 560.2h.9v.9h-.9zM239.7 555.6h.9v.9h-.9zM239.9 562.9h.9v.9h-.9zM239.0 553.8h.9v.9h-.9zM237.9 561.5h.9v.9h-.9zM244.2 558.2h.9v.9h-.9zM245.5 554.1h.9v.9h-.9zM238.9 561.2h.9v.9h-.9zM241.6 556.9h.9v.9h-.9zM239.7 558.1h.9v.9h-.9zM244.8 549.3h.9v.9h-.9zM244.6 553.3h.9v.9h-.9zM243.8 560.9h.9v.9h-.9zM241.5 556.0h.9v.9h-.9zM244.9 555.6h.9v.9h-.9zM240.1 561.7h.9v.9h-.9zM242.5 551.4h.9v.9h-.9zM240.1 560.0h.9v.9h-.9zM243.3 552.7h.9v.9h-.9zM240.0 562.0h.9v.9h-.9zM245.2 560.6h.9v.9h-.9zM242.2 553.9h.9v.9h-.9zM245.6 555.6h.9v.9h-.9zM240.2 554.0h.9v.9h-.9zM238.2 565.8h.9v.9h-.9zM239.9 553.8h.9v.9h-.9zM244.7 557.3h.9v.9h-.9zM238.2 559.9h.9v.9h-.9zM239.6 556.7h.9v.9h-.9zM244.2 562.9h.9v.9h-.9zM240.7 559.2h.9v.9h-.9zM239.6 552.5h.9v.9h-.9zM246.3 556.9h.9v.9h-.9zM245.1 552.8h.9v.9h-.9zM242.4 560.7h.9v.9h-.9zM238.9 554.5h.9v.9h-.9zM254.1 564.4h.9v.9h-.9zM245.9 553.9h.9v.9h-.9zM246.8 559.8h.9v.9h-.9zM248.7 556.4h.9v.9h-.9zM239.3 552.2h.9v.9h-.9zM247.5 549.2h.9v.9h-.9zM240.3 557.0h.9v.9h-.9zM247.3 566.0h.9v.9h-.9zM241.6 546.6h.9v.9h-.9zM239.7 558.7h.9v.9h-.9zM240.6 552.6h.9v.9h-.9zM242.3 557.8h.9v.9h-.9zM238.8 549.0h.9v.9h-.9zM238.9 552.2h.9v.9h-.9zM244.1 557.3h.9v.9h-.9zM243.3 557.9h.9v.9h-.9zM253.5 559.3h.9v.9h-.9zM239.0 554.6h.9v.9h-.9zM243.4 549.5h.9v.9h-.9zM245.2 565.0h.9v.9h-.9zM240.1 556.4h.9v.9h-.9zM242.2 553.8h.9v.9h-.9zM245.5 558.2h.9v.9h-.9zM243.5 552.0h.9v.9h-.9zM241.5 554.8h.9v.9h-.9zM239.7 552.6h.9v.9h-.9zM242.5 564.6h.9v.9h-.9zM241.8 555.5h.9v.9h-.9zM243.6 553.7h.9v.9h-.9zM246.2 545.1h.9v.9h-.9zM241.5 562.1h.9v.9h-.9zM242.8 555.9h.9v.9h-.9zM253.7 554.5h.9v.9h-.9zM239.5 553.6h.9v.9h-.9zM241.4 551.2h.9v.9h-.9zM244.2 562.0h.9v.9h-.9zM245.6 562.6h.9v.9h-.9zM246.7 562.6h.9v.9h-.9zM239.0 559.7h.9v.9h-.9zM239.4 559.1h.9v.9h-.9zM252.4 546.3h.9v.9h-.9zM241.9 558.7h.9v.9h-.9zM246.8 550.9h.9v.9h-.9zM238.1 560.9h.9v.9h-.9zM241.2 557.0h.9v.9h-.9zM239.4 561.5h.9v.9h-.9zM240.4 558.8h.9v.9h-.9zM242.0 554.6h.9v.9h-.9zM251.5 551.0h.9v.9h-.9zM240.3 553.8h.9v.9h-.9zM238.2 552.8h.9v.9h-.9zM242.4 553.5h.9v.9h-.9zM241.6 549.8h.9v.9h-.9zM240.9 549.7h.9v.9h-.9zM239.8 559.2h.9v.9h-.9zM248.5 565.5h.9v.9h-.9zM242.8 557.9h.9v.9h-.9zM240.3 561.6h.9v.9h-.9zM240.5 554.9h.9v.9h-.9zM238.8 557.5h.9v.9h-.9zM243.2 563.3h.9v.9h-.9zM246.4 558.9h.9v.9h-.9zM243.7 556.7h.9v.9h-.9zM239.4 557.7h.9v.9h-.9zM247.5 554.8h.9v.9h-.9zM241.3 558.8h.9v.9h-.9zM263.6 532.7h.9v.9h-.9zM264.7 532.6h.9v.9h-.9zM272.1 530.7h.9v.9h-.9zM277.2 527.8h.9v.9h-.9zM270.7 528.8h.9v.9h-.9z" fill="#1a1a1a"/>
<path d="M307.1 512.4h.9v.9h-.9zM302.0 532.8h.9v.9h-.9zM253.1 533.4h.9v.9h-.9zM277.6 512.4h.9v.9h-.9zM279.9 509.7h.9v.9h-.9zM264.4 549.2h.9v.9h-.9zM299.0 519.3h.9v.9h-.9zM271.2 562.4h.9v.9h-.9zM265.4 515.9h.9v.9h-.9zM261.1 557.9h.9v.9h-.9zM267.3 546.6h.9v.9h-.9zM304.9 544.2h.9v.9h-.9zM258.0 536.3h.9v.9h-.9zM266.1 536.2h.9v.9h-.9zM284.4 564.1h.9v.9h-.9zM289.1 537.8h.9v.9h-.9zM296.8 537.7h.9v.9h-.9zM257.7 546.9h.9v.9h-.9zM262.6 521.2h.9v.9h-.9zM270.1 536.5h.9v.9h-.9zM247.5 529.5h.9v.9h-.9zM306.3 537.9h.9v.9h-.9zM268.8 534.9h.9v.9h-.9zM289.7 537.5h.9v.9h-.9zM271.1 541.9h.9v.9h-.9zM262.9 547.6h.9v.9h-.9zM272.3 548.9h.9v.9h-.9zM267.5 545.1h.9v.9h-.9zM257.9 536.5h.9v.9h-.9zM276.7 510.2h.9v.9h-.9zM253.5 535.1h.9v.9h-.9zM293.9 554.8h.9v.9h-.9zM298.9 554.5h.9v.9h-.9zM306.7 520.3h.9v.9h-.9zM255.1 517.1h.9v.9h-.9zM248.7 556.9h.9v.9h-.9zM250.1 528.1h.9v.9h-.9zM254.0 562.0h.9v.9h-.9zM249.0 548.2h.9v.9h-.9zM253.2 552.9h.9v.9h-.9zM257.7 545.3h.9v.9h-.9zM250.0 546.4h.9v.9h-.9zM261.7 558.2h.9v.9h-.9zM248.9 559.9h.9v.9h-.9zM248.6 542.7h.9v.9h-.9zM249.5 523.2h.9v.9h-.9zM253.5 554.9h.9v.9h-.9zM254.4 558.7h.9v.9h-.9zM248.8 536.6h.9v.9h-.9zM259.7 554.0h.9v.9h-.9zM251.1 560.2h.9v.9h-.9zM251.8 542.8h.9v.9h-.9zM252.7 558.6h.9v.9h-.9zM248.5 542.8h.9v.9h-.9zM248.2 544.8h.9v.9h-.9zM262.9 547.7h.9v.9h-.9zM253.2 557.2h.9v.9h-.9zM248.8 562.5h.9v.9h-.9zM249.5 542.7h.9v.9h-.9zM247.9 525.5h.9v.9h-.9zM254.3 532.6h.9v.9h-.9zM250.3 556.1h.9v.9h-.9zM263.2 530.6h.9v.9h-.9zM256.4 538.7h.9v.9h-.9zM257.7 540.8h.9v.9h-.9zM256.7 530.2h.9v.9h-.9zM255.3 564.6h.9v.9h-.9zM254.3 550.6h.9v.9h-.9zM256.0 540.9h.9v.9h-.9zM260.1 544.3h.9v.9h-.9zM253.9 539.6h.9v.9h-.9zM258.6 530.3h.9v.9h-.9zM248.3 533.7h.9v.9h-.9zM254.1 533.0h.9v.9h-.9zM252.0 563.2h.9v.9h-.9zM258.1 547.9h.9v.9h-.9zM264.0 528.1h.9v.9h-.9zM249.2 547.9h.9v.9h-.9zM254.7 528.7h.9v.9h-.9zM248.1 527.0h.9v.9h-.9z" fill="#9a9a9a"/>
<line x1="237.5" y1="499.3" x2="237.5" y2="567.4" stroke="#333" stroke-width="1"/>
<line x1="237.5" y1="567.4" x2="311.8" y2="567.4" stroke="#444" stroke-width="0.8"/>
<line x1="235.5" y1="505.8" x2="237.5" y2="505.8" stroke="#333" stroke-width="0.7"/>
<text transform="translate(233.3,506.6) rotate(-90)" font-size="4.1" text-anchor="middle" fill="#111">10<tspan font-size="2.8" dy="-1.4">5</tspan></text>
<line x1="235.5" y1="522.9" x2="237.5" y2="522.9" stroke="#333" stroke-width="0.7"/>
<text transform="translate(233.3,523.7) rotate(-90)" font-size="4.1" text-anchor="middle" fill="#111">10<tspan font-size="2.8" dy="-1.4">4</tspan></text>
<line x1="235.5" y1="540.3" x2="237.5" y2="540.3" stroke="#333" stroke-width="0.7"/>
<text transform="translate(233.3,541.1) rotate(-90)" font-size="4.1" text-anchor="middle" fill="#111">10<tspan font-size="2.8" dy="-1.4">3</tspan></text>
<line x1="235.5" y1="557" x2="237.5" y2="557" stroke="#333" stroke-width="0.7"/>
<text transform="translate(233.3,557.8) rotate(-90)" font-size="4.1" text-anchor="middle" fill="#111">10<tspan font-size="2.8" dy="-1.4">2</tspan></text>
<line x1="248.5" y1="567.4" x2="248.5" y2="569.4" stroke="#333" stroke-width="0.7"/>
<text x="248.5" y="575.5" font-size="4.1" text-anchor="middle" fill="#111">10<tspan font-size="2.8" dy="-1.4">2</tspan></text>
<line x1="267" y1="567.4" x2="267" y2="569.4" stroke="#333" stroke-width="0.7"/>
<text x="267" y="575.5" font-size="4.1" text-anchor="middle" fill="#111">10<tspan font-size="2.8" dy="-1.4">3</tspan></text>
<line x1="286" y1="567.4" x2="286" y2="569.4" stroke="#333" stroke-width="0.7"/>
<text x="286" y="575.5" font-size="4.1" text-anchor="middle" fill="#111">10<tspan font-size="2.8" dy="-1.4">4</tspan></text>
<line x1="305" y1="567.4" x2="305" y2="569.4" stroke="#333" stroke-width="0.7"/>
<text x="305" y="575.5" font-size="4.1" text-anchor="middle" fill="#111">10<tspan font-size="2.8" dy="-1.4">5</tspan></text>
<line x1="238.57" y1="567.4" x2="238.57" y2="569.4" stroke="#333" stroke-width="0.6"/>
<line x1="240.94" y1="567.4" x2="240.94" y2="569.4" stroke="#333" stroke-width="0.6"/>
<line x1="242.78" y1="567.4" x2="242.78" y2="569.4" stroke="#333" stroke-width="0.6"/>
<line x1="244.28" y1="567.4" x2="244.28" y2="569.4" stroke="#333" stroke-width="0.6"/>
<line x1="245.56" y1="567.4" x2="245.56" y2="569.4" stroke="#333" stroke-width="0.6"/>
<line x1="246.66" y1="567.4" x2="246.66" y2="569.4" stroke="#333" stroke-width="0.6"/>
<line x1="247.63" y1="567.4" x2="247.63" y2="569.4" stroke="#333" stroke-width="0.6"/>
<line x1="253.72" y1="567.4" x2="253.72" y2="569.4" stroke="#333" stroke-width="0.6"/>
<line x1="257.07" y1="567.4" x2="257.07" y2="569.4" stroke="#333" stroke-width="0.6"/>
<line x1="259.44" y1="567.4" x2="259.44" y2="569.4" stroke="#333" stroke-width="0.6"/>
<line x1="261.28" y1="567.4" x2="261.28" y2="569.4" stroke="#333" stroke-width="0.6"/>
<line x1="262.78" y1="567.4" x2="262.78" y2="569.4" stroke="#333" stroke-width="0.6"/>
<line x1="264.06" y1="567.4" x2="264.06" y2="569.4" stroke="#333" stroke-width="0.6"/>
<line x1="265.16" y1="567.4" x2="265.16" y2="569.4" stroke="#333" stroke-width="0.6"/>
<line x1="266.13" y1="567.4" x2="266.13" y2="569.4" stroke="#333" stroke-width="0.6"/>
<line x1="272.72" y1="567.4" x2="272.72" y2="569.4" stroke="#333" stroke-width="0.6"/>
<line x1="276.07" y1="567.4" x2="276.07" y2="569.4" stroke="#333" stroke-width="0.6"/>
<line x1="278.44" y1="567.4" x2="278.44" y2="569.4" stroke="#333" stroke-width="0.6"/>
<line x1="280.28" y1="567.4" x2="280.28" y2="569.4" stroke="#333" stroke-width="0.6"/>
<line x1="281.78" y1="567.4" x2="281.78" y2="569.4" stroke="#333" stroke-width="0.6"/>
<line x1="283.06" y1="567.4" x2="283.06" y2="569.4" stroke="#333" stroke-width="0.6"/>
<line x1="284.16" y1="567.4" x2="284.16" y2="569.4" stroke="#333" stroke-width="0.6"/>
<line x1="285.13" y1="567.4" x2="285.13" y2="569.4" stroke="#333" stroke-width="0.6"/>
<line x1="291.72" y1="567.4" x2="291.72" y2="569.4" stroke="#333" stroke-width="0.6"/>
<line x1="295.07" y1="567.4" x2="295.07" y2="569.4" stroke="#333" stroke-width="0.6"/>
<line x1="297.44" y1="567.4" x2="297.44" y2="569.4" stroke="#333" stroke-width="0.6"/>
<line x1="299.28" y1="567.4" x2="299.28" y2="569.4" stroke="#333" stroke-width="0.6"/>
<line x1="300.78" y1="567.4" x2="300.78" y2="569.4" stroke="#333" stroke-width="0.6"/>
<line x1="302.06" y1="567.4" x2="302.06" y2="569.4" stroke="#333" stroke-width="0.6"/>
<line x1="303.16" y1="567.4" x2="303.16" y2="569.4" stroke="#333" stroke-width="0.6"/>
<line x1="304.13" y1="567.4" x2="304.13" y2="569.4" stroke="#333" stroke-width="0.6"/>
<line x1="235.5" y1="517.78" x2="237.5" y2="517.78" stroke="#333" stroke-width="0.6"/>
<line x1="235.5" y1="514.79" x2="237.5" y2="514.79" stroke="#333" stroke-width="0.6"/>
<line x1="235.5" y1="512.66" x2="237.5" y2="512.66" stroke="#333" stroke-width="0.6"/>
<line x1="235.5" y1="511.02" x2="237.5" y2="511.02" stroke="#333" stroke-width="0.6"/>
<line x1="235.5" y1="509.67" x2="237.5" y2="509.67" stroke="#333" stroke-width="0.6"/>
<line x1="235.5" y1="508.53" x2="237.5" y2="508.53" stroke="#333" stroke-width="0.6"/>
<line x1="235.5" y1="507.55" x2="237.5" y2="507.55" stroke="#333" stroke-width="0.6"/>
<line x1="235.5" y1="506.68" x2="237.5" y2="506.68" stroke="#333" stroke-width="0.6"/>
<line x1="235.5" y1="535.18" x2="237.5" y2="535.18" stroke="#333" stroke-width="0.6"/>
<line x1="235.5" y1="532.19" x2="237.5" y2="532.19" stroke="#333" stroke-width="0.6"/>
<line x1="235.5" y1="530.06" x2="237.5" y2="530.06" stroke="#333" stroke-width="0.6"/>
<line x1="235.5" y1="528.42" x2="237.5" y2="528.42" stroke="#333" stroke-width="0.6"/>
<line x1="235.5" y1="527.07" x2="237.5" y2="527.07" stroke="#333" stroke-width="0.6"/>
<line x1="235.5" y1="525.93" x2="237.5" y2="525.93" stroke="#333" stroke-width="0.6"/>
<line x1="235.5" y1="524.95" x2="237.5" y2="524.95" stroke="#333" stroke-width="0.6"/>
<line x1="235.5" y1="524.08" x2="237.5" y2="524.08" stroke="#333" stroke-width="0.6"/>
<line x1="235.5" y1="551.88" x2="237.5" y2="551.88" stroke="#333" stroke-width="0.6"/>
<line x1="235.5" y1="548.89" x2="237.5" y2="548.89" stroke="#333" stroke-width="0.6"/>
<line x1="235.5" y1="546.76" x2="237.5" y2="546.76" stroke="#333" stroke-width="0.6"/>
<line x1="235.5" y1="545.12" x2="237.5" y2="545.12" stroke="#333" stroke-width="0.6"/>
<line x1="235.5" y1="543.77" x2="237.5" y2="543.77" stroke="#333" stroke-width="0.6"/>
<line x1="235.5" y1="542.63" x2="237.5" y2="542.63" stroke="#333" stroke-width="0.6"/>
<line x1="235.5" y1="541.65" x2="237.5" y2="541.65" stroke="#333" stroke-width="0.6"/>
<line x1="235.5" y1="540.78" x2="237.5" y2="540.78" stroke="#333" stroke-width="0.6"/>
<line x1="235.5" y1="565.89" x2="237.5" y2="565.89" stroke="#333" stroke-width="0.6"/>
<line x1="235.5" y1="563.76" x2="237.5" y2="563.76" stroke="#333" stroke-width="0.6"/>
<line x1="235.5" y1="562.12" x2="237.5" y2="562.12" stroke="#333" stroke-width="0.6"/>
<line x1="235.5" y1="560.77" x2="237.5" y2="560.77" stroke="#333" stroke-width="0.6"/>
<line x1="235.5" y1="559.63" x2="237.5" y2="559.63" stroke="#333" stroke-width="0.6"/>
<line x1="235.5" y1="558.65" x2="237.5" y2="558.65" stroke="#333" stroke-width="0.6"/>
<line x1="235.5" y1="557.78" x2="237.5" y2="557.78" stroke="#333" stroke-width="0.6"/>
<line x1="236.3" y1="500.5" x2="237.5" y2="500.5" stroke="#444" stroke-width="0.5"/>
<line x1="236.3" y1="502.5" x2="237.5" y2="502.5" stroke="#444" stroke-width="0.5"/>
<line x1="236.3" y1="504.5" x2="237.5" y2="504.5" stroke="#444" stroke-width="0.5"/>
<line x1="236.3" y1="506.5" x2="237.5" y2="506.5" stroke="#444" stroke-width="0.5"/>
<line x1="236.3" y1="508.5" x2="237.5" y2="508.5" stroke="#444" stroke-width="0.5"/>
<line x1="236.3" y1="510.5" x2="237.5" y2="510.5" stroke="#444" stroke-width="0.5"/>
<line x1="236.3" y1="512.5" x2="237.5" y2="512.5" stroke="#444" stroke-width="0.5"/>
<line x1="236.3" y1="514.5" x2="237.5" y2="514.5" stroke="#444" stroke-width="0.5"/>
<line x1="236.3" y1="516.5" x2="237.5" y2="516.5" stroke="#444" stroke-width="0.5"/>
<line x1="236.3" y1="518.5" x2="237.5" y2="518.5" stroke="#444" stroke-width="0.5"/>
<line x1="236.3" y1="520.5" x2="237.5" y2="520.5" stroke="#444" stroke-width="0.5"/>
<line x1="236.3" y1="522.5" x2="237.5" y2="522.5" stroke="#444" stroke-width="0.5"/>
<line x1="236.3" y1="524.5" x2="237.5" y2="524.5" stroke="#444" stroke-width="0.5"/>
<line x1="236.3" y1="526.5" x2="237.5" y2="526.5" stroke="#444" stroke-width="0.5"/>
<line x1="236.3" y1="528.5" x2="237.5" y2="528.5" stroke="#444" stroke-width="0.5"/>
<line x1="236.3" y1="530.5" x2="237.5" y2="530.5" stroke="#444" stroke-width="0.5"/>
<line x1="236.3" y1="532.5" x2="237.5" y2="532.5" stroke="#444" stroke-width="0.5"/>
<line x1="236.3" y1="534.5" x2="237.5" y2="534.5" stroke="#444" stroke-width="0.5"/>
<line x1="236.3" y1="536.5" x2="237.5" y2="536.5" stroke="#444" stroke-width="0.5"/>
<line x1="236.3" y1="538.5" x2="237.5" y2="538.5" stroke="#444" stroke-width="0.5"/>
<line x1="236.3" y1="540.5" x2="237.5" y2="540.5" stroke="#444" stroke-width="0.5"/>
<line x1="236.3" y1="542.5" x2="237.5" y2="542.5" stroke="#444" stroke-width="0.5"/>
<line x1="236.3" y1="544.5" x2="237.5" y2="544.5" stroke="#444" stroke-width="0.5"/>
<line x1="236.3" y1="546.5" x2="237.5" y2="546.5" stroke="#444" stroke-width="0.5"/>
<line x1="236.3" y1="548.5" x2="237.5" y2="548.5" stroke="#444" stroke-width="0.5"/>
<line x1="236.3" y1="550.5" x2="237.5" y2="550.5" stroke="#444" stroke-width="0.5"/>
<line x1="236.3" y1="552.5" x2="237.5" y2="552.5" stroke="#444" stroke-width="0.5"/>
<line x1="236.3" y1="554.5" x2="237.5" y2="554.5" stroke="#444" stroke-width="0.5"/>
<line x1="236.3" y1="556.5" x2="237.5" y2="556.5" stroke="#444" stroke-width="0.5"/>
<line x1="236.3" y1="558.5" x2="237.5" y2="558.5" stroke="#444" stroke-width="0.5"/>
<line x1="236.3" y1="560.5" x2="237.5" y2="560.5" stroke="#444" stroke-width="0.5"/>
<line x1="236.3" y1="562.5" x2="237.5" y2="562.5" stroke="#444" stroke-width="0.5"/>
<line x1="236.3" y1="564.5" x2="237.5" y2="564.5" stroke="#444" stroke-width="0.5"/>
<line x1="236.3" y1="566.5" x2="237.5" y2="566.5" stroke="#444" stroke-width="0.5"/>
<text x="274.95" y="583.4" font-size="5" font-weight="normal" text-anchor="middle" fill="#111" >KJI 26 APC-A</text>
<text transform="translate(226.7,533) rotate(-90)" font-size="5" text-anchor="middle" fill="#000" stroke="#000" stroke-width="0.15">CD4 FITC-A</text>
<rect x="328.5" y="489.3" width="96" height="96.8" fill="#fff" stroke="#8a8a8a" stroke-width="1"/>
<rect x="346.3" y="499.3" width="75.7" height="68.1" fill="#fff" stroke="#8a8a8a" stroke-width="1"/>
<text x="375.95" y="498.1" font-size="5.3" font-weight="normal" text-anchor="middle" fill="#222" >GITR-1</text>
<text x="388.5" y="513.6" font-size="10.6" font-weight="bold" text-anchor="middle" fill="#000" >1.4%</text>
<rect x="371.8" y="518.5" width="30.7" height="19.7" fill="none" stroke="#666" stroke-width="0.9"/>
<text x="398" y="524.8" font-size="4.6" font-weight="normal" text-anchor="middle" fill="#444" >P2</text>
<path d="M348.7 536.9h.9v.9h-.9zM352.6 540.7h.9v.9h-.9zM354.4 543.3h.9v.9h-.9zM356.1 542.3h.9v.9h-.9zM352.1 539.8h.9v.9h-.9zM350.6 542.3h.9v.9h-.9zM355.8 541.8h.9v.9h-.9zM347.1 541.5h.9v.9h-.9zM355.6 535.4h.9v.9h-.9zM355.0 545.0h.9v.9h-.9zM347.3 540.1h.9v.9h-.9zM352.2 544.9h.9v.9h-.9zM348.2 538.4h.9v.9h-.9zM351.3 535.1h.9v.9h-.9zM349.1 544.5h.9v.9h-.9zM352.5 543.8h.9v.9h-.9zM354.0 543.7h.9v.9h-.9zM351.0 535.5h.9v.9h-.9zM351.8 538.9h.9v.9h-.9zM354.5 544.5h.9v.9h-.9zM361.5 540.8h.9v.9h-.9zM347.6 542.2h.9v.9h-.9zM355.8 539.0h.9v.9h-.9zM347.8 539.6h.9v.9h-.9zM352.1 538.6h.9v.9h-.9zM357.3 539.6h.9v.9h-.9zM347.2 539.0h.9v.9h-.9zM355.0 541.3h.9v.9h-.9zM355.8 535.1h.9v.9h-.9zM348.1 542.7h.9v.9h-.9zM347.5 541.0h.9v.9h-.9zM350.1 542.0h.9v.9h-.9zM354.9 536.4h.9v.9h-.9zM356.2 537.6h.9v.9h-.9zM361.9 539.7h.9v.9h-.9zM349.7 542.3h.9v.9h-.9zM352.7 535.2h.9v.9h-.9zM356.1 538.4h.9v.9h-.9zM355.7 539.9h.9v.9h-.9zM354.1 537.0h.9v.9h-.9zM365.3 540.6h.9v.9h-.9zM355.9 541.6h.9v.9h-.9zM352.4 544.2h.9v.9h-.9zM356.9 542.1h.9v.9h-.9zM360.6 543.2h.9v.9h-.9zM386.1 529.3h.9v.9h-.9zM383.1 529.5h.9v.9h-.9zM379.4 529.2h.9v.9h-.9zM381.1 525.8h.9v.9h-.9zM381.6 530.2h.9v.9h-.9zM384.4 529.4h.9v.9h-.9zM390.4 524.9h.9v.9h-.9zM383.4 529.3h.9v.9h-.9zM380.8 528.1h.9v.9h-.9zM383.5 530.0h.9v.9h-.9zM388.0 527.6h.9v.9h-.9zM387.5 524.5h.9v.9h-.9zM382.0 530.8h.9v.9h-.9zM381.5 530.5h.9v.9h-.9zM388.8 523.3h.9v.9h-.9zM386.2 524.3h.9v.9h-.9zM380.2 527.9h.9v.9h-.9z" fill="#666"/>
<path d="M352.3 531.4h.9v.9h-.9zM354.5 534.1h.9v.9h-.9zM353.8 531.1h.9v.9h-.9zM348.7 530.5h.9v.9h-.9zM354.5 530.1h.9v.9h-.9zM352.4 531.5h.9v.9h-.9zM348.6 528.9h.9v.9h-.9zM347.2 529.8h.9v.9h-.9zM346.9 532.0h.9v.9h-.9zM360.3 530.8h.9v.9h-.9zM355.4 529.1h.9v.9h-.9zM354.1 533.2h.9v.9h-.9zM350.7 532.0h.9v.9h-.9zM351.1 528.1h.9v.9h-.9zM349.0 531.4h.9v.9h-.9zM347.1 532.4h.9v.9h-.9zM348.8 534.6h.9v.9h-.9zM350.6 535.0h.9v.9h-.9zM348.2 530.5h.9v.9h-.9zM351.8 532.6h.9v.9h-.9zM352.9 531.3h.9v.9h-.9zM349.1 530.5h.9v.9h-.9zM349.2 530.4h.9v.9h-.9zM357.9 529.0h.9v.9h-.9zM346.9 531.2h.9v.9h-.9zM353.2 532.2h.9v.9h-.9zM349.2 531.1h.9v.9h-.9zM360.2 531.1h.9v.9h-.9zM352.0 532.0h.9v.9h-.9zM348.4 530.3h.9v.9h-.9zM349.9 530.4h.9v.9h-.9zM358.4 527.8h.9v.9h-.9zM353.9 531.8h.9v.9h-.9zM349.4 530.3h.9v.9h-.9zM348.9 537.5h.9v.9h-.9zM349.8 531.0h.9v.9h-.9zM350.8 526.3h.9v.9h-.9zM347.4 533.7h.9v.9h-.9zM352.2 531.5h.9v.9h-.9zM350.4 528.6h.9v.9h-.9zM347.1 530.2h.9v.9h-.9zM353.6 534.3h.9v.9h-.9zM352.4 529.9h.9v.9h-.9zM361.0 534.4h.9v.9h-.9zM347.7 530.8h.9v.9h-.9zM348.3 529.3h.9v.9h-.9zM350.5 531.6h.9v.9h-.9zM351.7 531.6h.9v.9h-.9zM353.9 532.5h.9v.9h-.9zM355.1 533.1h.9v.9h-.9zM357.0 531.6h.9v.9h-.9zM349.2 528.8h.9v.9h-.9zM347.8 529.5h.9v.9h-.9zM347.2 528.9h.9v.9h-.9zM348.5 536.1h.9v.9h-.9zM351.4 532.1h.9v.9h-.9zM350.4 529.5h.9v.9h-.9zM348.5 529.9h.9v.9h-.9zM349.3 529.7h.9v.9h-.9zM362.2 532.7h.9v.9h-.9zM353.5 535.3h.9v.9h-.9zM354.9 530.8h.9v.9h-.9zM348.8 531.1h.9v.9h-.9zM348.2 532.9h.9v.9h-.9zM358.6 527.6h.9v.9h-.9zM348.7 531.9h.9v.9h-.9zM349.7 530.6h.9v.9h-.9zM353.2 532.3h.9v.9h-.9zM347.4 530.3h.9v.9h-.9zM355.6 531.9h.9v.9h-.9zM347.2 529.0h.9v.9h-.9zM349.5 530.2h.9v.9h-.9zM348.9 527.6h.9v.9h-.9zM351.8 529.4h.9v.9h-.9zM348.2 531.4h.9v.9h-.9zM350.3 530.8h.9v.9h-.9zM348.4 530.4h.9v.9h-.9zM347.5 529.6h.9v.9h-.9zM350.4 531.1h.9v.9h-.9zM354.1 531.7h.9v.9h-.9zM349.5 531.8h.9v.9h-.9zM361.1 531.5h.9v.9h-.9zM360.6 529.9h.9v.9h-.9zM365.3 532.1h.9v.9h-.9zM352.5 529.4h.9v.9h-.9zM354.1 530.6h.9v.9h-.9zM348.6 530.6h.9v.9h-.9zM351.4 529.0h.9v.9h-.9zM349.7 534.1h.9v.9h-.9zM347.2 530.1h.9v.9h-.9zM348.8 528.9h.9v.9h-.9zM355.2 531.2h.9v.9h-.9zM354.4 531.9h.9v.9h-.9zM355.3 533.9h.9v.9h-.9zM348.0 534.7h.9v.9h-.9zM347.8 528.2h.9v.9h-.9zM347.9 530.6h.9v.9h-.9zM353.5 529.4h.9v.9h-.9zM349.4 529.2h.9v.9h-.9zM350.2 531.5h.9v.9h-.9zM349.7 530.2h.9v.9h-.9zM351.9 531.7h.9v.9h-.9zM354.0 531.5h.9v.9h-.9zM356.9 531.6h.9v.9h-.9zM352.0 534.0h.9v.9h-.9zM361.6 531.3h.9v.9h-.9zM360.6 528.1h.9v.9h-.9zM358.0 530.7h.9v.9h-.9zM351.1 532.1h.9v.9h-.9zM347.9 534.5h.9v.9h-.9zM348.2 532.3h.9v.9h-.9zM349.0 531.6h.9v.9h-.9zM361.9 528.9h.9v.9h-.9zM353.6 533.4h.9v.9h-.9zM353.8 531.5h.9v.9h-.9zM352.5 533.1h.9v.9h-.9zM347.1 532.5h.9v.9h-.9zM350.7 530.9h.9v.9h-.9zM360.1 532.8h.9v.9h-.9zM349.5 531.1h.9v.9h-.9zM347.3 530.3h.9v.9h-.9zM346.8 534.9h.9v.9h-.9zM350.0 530.1h.9v.9h-.9zM351.2 531.6h.9v.9h-.9zM350.0 534.4h.9v.9h-.9zM357.1 530.5h.9v.9h-.9zM358.0 528.3h.9v.9h-.9zM356.3 527.9h.9v.9h-.9zM349.3 530.8h.9v.9h-.9zM348.6 532.4h.9v.9h-.9zM352.2 529.6h.9v.9h-.9zM353.2 534.1h.9v.9h-.9zM350.0 531.8h.9v.9h-.9zM347.8 533.2h.9v.9h-.9zM352.7 529.3h.9v.9h-.9zM350.3 531.5h.9v.9h-.9zM351.0 532.0h.9v.9h-.9zM350.3 533.2h.9v.9h-.9zM350.3 533.9h.9v.9h-.9zM348.5 530.1h.9v.9h-.9zM350.5 529.7h.9v.9h-.9zM354.4 531.9h.9v.9h-.9zM347.6 526.9h.9v.9h-.9zM347.1 529.6h.9v.9h-.9zM351.9 530.5h.9v.9h-.9zM354.3 531.3h.9v.9h-.9zM358.5 531.7h.9v.9h-.9zM351.8 534.4h.9v.9h-.9zM349.4 530.9h.9v.9h-.9zM347.7 529.4h.9v.9h-.9zM349.0 530.8h.9v.9h-.9zM360.2 531.3h.9v.9h-.9zM350.0 531.3h.9v.9h-.9zM348.1 531.8h.9v.9h-.9zM355.5 525.2h.9v.9h-.9zM350.3 529.4h.9v.9h-.9zM352.1 529.5h.9v.9h-.9zM352.8 533.3h.9v.9h-.9zM349.7 532.2h.9v.9h-.9zM349.2 532.8h.9v.9h-.9zM350.1 533.5h.9v.9h-.9zM352.0 529.1h.9v.9h-.9zM355.8 531.2h.9v.9h-.9zM353.5 531.3h.9v.9h-.9zM352.7 528.8h.9v.9h-.9zM355.1 529.2h.9v.9h-.9zM347.2 532.1h.9v.9h-.9zM355.3 531.9h.9v.9h-.9zM347.3 532.8h.9v.9h-.9zM346.8 529.2h.9v.9h-.9zM352.8 529.5h.9v.9h-.9zM347.9 530.8h.9v.9h-.9zM350.8 534.2h.9v.9h-.9zM348.0 530.2h.9v.9h-.9zM349.4 532.0h.9v.9h-.9zM359.2 529.8h.9v.9h-.9zM347.5 532.3h.9v.9h-.9zM349.2 529.1h.9v.9h-.9zM359.4 524.9h.9v.9h-.9zM355.5 529.8h.9v.9h-.9zM348.8 531.0h.9v.9h-.9zM348.9 529.1h.9v.9h-.9zM355.0 531.6h.9v.9h-.9zM354.2 530.4h.9v.9h-.9zM360.2 528.5h.9v.9h-.9zM351.5 532.0h.9v.9h-.9zM354.5 528.8h.9v.9h-.9zM350.5 530.8h.9v.9h-.9zM360.4 530.1h.9v.9h-.9zM355.4 530.3h.9v.9h-.9zM350.4 530.8h.9v.9h-.9zM357.7 532.4h.9v.9h-.9zM350.2 530.3h.9v.9h-.9zM349.1 529.6h.9v.9h-.9zM350.2 532.2h.9v.9h-.9zM352.7 531.5h.9v.9h-.9zM347.9 528.8h.9v.9h-.9zM348.4 530.9h.9v.9h-.9zM348.3 532.0h.9v.9h-.9zM350.3 530.4h.9v.9h-.9zM350.3 528.9h.9v.9h-.9zM356.8 529.1h.9v.9h-.9zM350.1 526.6h.9v.9h-.9zM350.1 532.6h.9v.9h-.9zM352.5 530.5h.9v.9h-.9zM348.2 533.2h.9v.9h-.9zM351.6 534.5h.9v.9h-.9zM348.5 530.3h.9v.9h-.9zM353.8 530.5h.9v.9h-.9zM346.9 533.8h.9v.9h-.9zM352.0 530.4h.9v.9h-.9zM350.7 531.1h.9v.9h-.9zM353.6 531.9h.9v.9h-.9zM351.1 534.6h.9v.9h-.9zM347.0 531.3h.9v.9h-.9zM349.7 531.2h.9v.9h-.9zM348.3 532.3h.9v.9h-.9zM350.4 533.6h.9v.9h-.9zM352.0 530.2h.9v.9h-.9zM350.1 529.6h.9v.9h-.9zM353.3 529.7h.9v.9h-.9zM356.4 531.6h.9v.9h-.9zM347.2 531.6h.9v.9h-.9zM358.1 531.5h.9v.9h-.9zM348.1 529.2h.9v.9h-.9zM355.5 529.9h.9v.9h-.9zM355.0 532.4h.9v.9h-.9zM350.4 526.4h.9v.9h-.9zM354.0 531.9h.9v.9h-.9zM358.3 530.8h.9v.9h-.9zM352.5 533.2h.9v.9h-.9zM351.1 529.9h.9v.9h-.9zM359.3 530.6h.9v.9h-.9zM362.5 532.1h.9v.9h-.9zM349.3 533.0h.9v.9h-.9zM349.2 534.5h.9v.9h-.9zM356.4 530.3h.9v.9h-.9zM356.5 533.5h.9v.9h-.9zM350.6 528.3h.9v.9h-.9zM347.5 532.5h.9v.9h-.9zM348.8 531.2h.9v.9h-.9zM352.6 530.4h.9v.9h-.9zM350.4 530.6h.9v.9h-.9zM353.1 528.1h.9v.9h-.9zM350.6 529.3h.9v.9h-.9zM353.1 531.3h.9v.9h-.9zM357.8 534.1h.9v.9h-.9zM361.5 530.2h.9v.9h-.9zM350.3 530.8h.9v.9h-.9zM351.6 531.3h.9v.9h-.9zM349.7 531.0h.9v.9h-.9zM350.3 530.4h.9v.9h-.9zM351.2 529.7h.9v.9h-.9zM349.1 536.2h.9v.9h-.9zM351.5 534.8h.9v.9h-.9zM355.4 530.5h.9v.9h-.9zM352.8 533.6h.9v.9h-.9zM349.8 530.2h.9v.9h-.9zM355.3 531.5h.9v.9h-.9zM356.6 531.5h.9v.9h-.9zM349.9 529.6h.9v.9h-.9zM351.0 527.9h.9v.9h-.9zM354.5 531.6h.9v.9h-.9zM351.2 529.3h.9v.9h-.9zM351.9 532.1h.9v.9h-.9zM348.4 527.8h.9v.9h-.9zM352.8 532.0h.9v.9h-.9zM353.0 529.7h.9v.9h-.9zM351.8 533.3h.9v.9h-.9zM349.1 528.7h.9v.9h-.9zM354.0 530.0h.9v.9h-.9zM351.6 531.1h.9v.9h-.9zM347.4 530.2h.9v.9h-.9zM355.8 530.3h.9v.9h-.9zM347.0 529.8h.9v.9h-.9zM358.9 531.2h.9v.9h-.9zM353.2 530.9h.9v.9h-.9zM356.9 530.6h.9v.9h-.9zM353.9 533.5h.9v.9h-.9zM355.5 535.8h.9v.9h-.9zM348.5 529.3h.9v.9h-.9zM359.0 531.6h.9v.9h-.9zM351.0 533.8h.9v.9h-.9zM359.5 528.3h.9v.9h-.9zM347.1 534.6h.9v.9h-.9zM355.2 528.7h.9v.9h-.9zM352.3 531.9h.9v.9h-.9zM357.2 532.1h.9v.9h-.9zM348.4 531.2h.9v.9h-.9zM349.6 534.7h.9v.9h-.9zM352.5 529.2h.9v.9h-.9zM355.8 532.7h.9v.9h-.9zM350.0 529.8h.9v.9h-.9zM351.6 531.2h.9v.9h-.9zM355.9 532.1h.9v.9h-.9zM348.1 531.7h.9v.9h-.9zM349.0 530.5h.9v.9h-.9zM347.4 527.3h.9v.9h-.9zM346.7 532.9h.9v.9h-.9zM348.3 534.1h.9v.9h-.9zM356.5 530.5h.9v.9h-.9zM354.1 531.1h.9v.9h-.9zM354.7 532.7h.9v.9h-.9zM347.2 532.5h.9v.9h-.9zM348.2 529.6h.9v.9h-.9zM356.3 530.8h.9v.9h-.9zM347.2 531.4h.9v.9h-.9zM349.3 530.4h.9v.9h-.9zM354.8 531.0h.9v.9h-.9zM348.8 529.2h.9v.9h-.9zM357.3 530.0h.9v.9h-.9zM350.3 532.4h.9v.9h-.9zM348.7 529.2h.9v.9h-.9zM349.0 530.6h.9v.9h-.9zM351.6 532.0h.9v.9h-.9zM352.3 531.4h.9v.9h-.9zM347.9 533.1h.9v.9h-.9zM357.8 528.1h.9v.9h-.9zM349.9 529.9h.9v.9h-.9zM349.8 530.4h.9v.9h-.9zM356.6 532.4h.9v.9h-.9zM347.1 532.2h.9v.9h-.9zM348.0 530.1h.9v.9h-.9zM347.0 532.1h.9v.9h-.9zM353.8 529.1h.9v.9h-.9zM347.7 531.7h.9v.9h-.9zM349.3 530.4h.9v.9h-.9zM348.7 528.0h.9v.9h-.9zM352.5 529.8h.9v.9h-.9zM350.9 531.8h.9v.9h-.9zM348.8 530.1h.9v.9h-.9zM351.3 531.2h.9v.9h-.9zM355.2 534.1h.9v.9h-.9zM354.6 529.8h.9v.9h-.9zM346.9 530.9h.9v.9h-.9zM349.2 527.0h.9v.9h-.9zM346.9 528.6h.9v.9h-.9zM354.9 527.0h.9v.9h-.9zM347.3 532.2h.9v.9h-.9zM347.3 531.3h.9v.9h-.9zM346.9 531.8h.9v.9h-.9zM352.8 531.1h.9v.9h-.9zM353.6 531.1h.9v.9h-.9zM352.3 528.5h.9v.9h-.9zM355.9 532.0h.9v.9h-.9zM350.7 534.4h.9v.9h-.9zM351.4 529.0h.9v.9h-.9zM362.2 533.2h.9v.9h-.9zM349.9 535.1h.9v.9h-.9zM347.4 531.9h.9v.9h-.9zM347.1 531.5h.9v.9h-.9zM348.6 529.9h.9v.9h-.9zM351.0 530.3h.9v.9h-.9zM353.3 533.7h.9v.9h-.9zM351.2 530.5h.9v.9h-.9zM346.8 529.9h.9v.9h-.9zM355.6 531.8h.9v.9h-.9zM352.8 528.3h.9v.9h-.9zM351.2 526.6h.9v.9h-.9zM353.6 529.8h.9v.9h-.9zM350.2 533.4h.9v.9h-.9zM355.1 532.4h.9v.9h-.9zM348.1 531.6h.9v.9h-.9zM347.9 532.0h.9v.9h-.9zM347.7 528.0h.9v.9h-.9zM351.8 530.6h.9v.9h-.9zM347.6 528.8h.9v.9h-.9zM350.7 531.0h.9v.9h-.9zM353.2 531.0h.9v.9h-.9zM350.7 531.2h.9v.9h-.9zM353.1 531.7h.9v.9h-.9zM355.5 532.5h.9v.9h-.9zM351.0 533.4h.9v.9h-.9zM348.3 530.1h.9v.9h-.9zM347.7 530.3h.9v.9h-.9zM347.2 534.8h.9v.9h-.9zM350.2 532.1h.9v.9h-.9zM359.1 533.5h.9v.9h-.9zM350.8 530.7h.9v.9h-.9zM353.8 528.1h.9v.9h-.9zM351.9 530.8h.9v.9h-.9zM348.0 531.6h.9v.9h-.9zM348.5 531.2h.9v.9h-.9zM348.0 528.4h.9v.9h-.9zM359.5 532.9h.9v.9h-.9zM352.9 530.8h.9v.9h-.9zM354.6 534.1h.9v.9h-.9zM351.7 528.1h.9v.9h-.9zM350.7 533.9h.9v.9h-.9zM348.6 531.2h.9v.9h-.9zM351.2 531.5h.9v.9h-.9zM347.2 532.6h.9v.9h-.9zM351.8 529.9h.9v.9h-.9zM347.4 531.9h.9v.9h-.9zM352.4 531.7h.9v.9h-.9zM348.8 531.4h.9v.9h-.9zM352.2 530.8h.9v.9h-.9zM353.5 531.3h.9v.9h-.9zM348.8 532.1h.9v.9h-.9zM346.8 528.9h.9v.9h-.9zM351.5 533.0h.9v.9h-.9zM347.6 528.2h.9v.9h-.9zM355.7 530.0h.9v.9h-.9zM354.8 535.2h.9v.9h-.9zM350.6 531.1h.9v.9h-.9zM350.9 532.4h.9v.9h-.9zM350.3 532.6h.9v.9h-.9zM350.4 529.6h.9v.9h-.9zM355.7 531.3h.9v.9h-.9zM360.2 528.8h.9v.9h-.9zM350.7 532.5h.9v.9h-.9zM358.2 530.8h.9v.9h-.9zM348.8 530.3h.9v.9h-.9zM348.2 533.0h.9v.9h-.9zM349.1 533.1h.9v.9h-.9zM352.3 530.3h.9v.9h-.9zM352.0 530.9h.9v.9h-.9zM353.1 529.7h.9v.9h-.9zM347.6 531.6h.9v.9h-.9zM346.9 527.2h.9v.9h-.9zM348.8 532.1h.9v.9h-.9zM353.4 532.7h.9v.9h-.9zM359.1 528.8h.9v.9h-.9zM350.1 528.7h.9v.9h-.9zM357.6 528.6h.9v.9h-.9zM349.9 530.4h.9v.9h-.9zM349.0 531.7h.9v.9h-.9zM358.4 531.3h.9v.9h-.9zM353.6 530.5h.9v.9h-.9zM347.3 528.1h.9v.9h-.9zM350.0 529.3h.9v.9h-.9zM351.7 530.5h.9v.9h-.9zM348.3 531.4h.9v.9h-.9zM349.2 527.6h.9v.9h-.9zM353.2 528.1h.9v.9h-.9zM347.5 532.9h.9v.9h-.9zM349.0 534.9h.9v.9h-.9zM351.8 531.0h.9v.9h-.9zM351.6 528.7h.9v.9h-.9zM349.6 531.0h.9v.9h-.9zM348.8 532.2h.9v.9h-.9zM348.2 531.0h.9v.9h-.9zM349.8 529.0h.9v.9h-.9zM350.0 529.5h.9v.9h-.9zM348.3 530.2h.9v.9h-.9zM349.7 529.9h.9v.9h-.9zM354.4 530.8h.9v.9h-.9zM350.2 528.8h.9v.9h-.9zM347.1 530.4h.9v.9h-.9zM353.6 530.5h.9v.9h-.9zM348.8 530.4h.9v.9h-.9zM347.4 530.2h.9v.9h-.9zM348.6 531.2h.9v.9h-.9zM350.2 530.8h.9v.9h-.9zM347.5 530.4h.9v.9h-.9zM350.0 530.1h.9v.9h-.9zM354.7 529.1h.9v.9h-.9zM350.0 528.8h.9v.9h-.9zM346.8 530.9h.9v.9h-.9zM350.9 531.5h.9v.9h-.9zM356.4 532.0h.9v.9h-.9zM350.7 531.2h.9v.9h-.9zM352.0 530.7h.9v.9h-.9zM351.0 531.8h.9v.9h-.9zM347.7 531.1h.9v.9h-.9zM349.5 529.5h.9v.9h-.9zM347.7 529.5h.9v.9h-.9zM347.5 526.9h.9v.9h-.9zM354.8 531.3h.9v.9h-.9zM355.3 529.1h.9v.9h-.9zM354.0 562.1h.9v.9h-.9zM346.8 554.3h.9v.9h-.9zM351.4 551.6h.9v.9h-.9zM350.3 565.1h.9v.9h-.9zM348.2 555.6h.9v.9h-.9zM354.8 558.1h.9v.9h-.9zM354.2 557.3h.9v.9h-.9zM351.9 555.4h.9v.9h-.9zM361.3 557.3h.9v.9h-.9zM357.4 548.9h.9v.9h-.9zM368.3 565.1h.9v.9h-.9zM349.2 559.3h.9v.9h-.9zM349.6 551.2h.9v.9h-.9zM353.7 558.4h.9v.9h-.9zM354.9 556.5h.9v.9h-.9zM352.4 563.0h.9v.9h-.9zM346.8 557.9h.9v.9h-.9zM349.4 556.4h.9v.9h-.9zM350.1 549.6h.9v.9h-.9zM354.4 559.7h.9v.9h-.9zM346.9 560.2h.9v.9h-.9zM354.4 551.9h.9v.9h-.9zM347.5 551.9h.9v.9h-.9zM357.1 558.7h.9v.9h-.9zM351.9 556.0h.9v.9h-.9zM349.2 555.2h.9v.9h-.9zM356.2 555.3h.9v.9h-.9zM355.6 559.8h.9v.9h-.9zM349.7 552.6h.9v.9h-.9zM359.1 551.6h.9v.9h-.9zM349.6 552.3h.9v.9h-.9zM355.4 555.7h.9v.9h-.9zM348.0 551.2h.9v.9h-.9zM347.2 549.1h.9v.9h-.9zM353.6 557.0h.9v.9h-.9zM349.6 563.3h.9v.9h-.9zM347.6 552.3h.9v.9h-.9zM355.6 559.9h.9v.9h-.9zM352.1 551.7h.9v.9h-.9zM354.1 564.8h.9v.9h-.9zM348.2 548.8h.9v.9h-.9zM349.7 559.9h.9v.9h-.9zM347.3 556.9h.9v.9h-.9zM350.5 556.5h.9v.9h-.9zM353.1 563.7h.9v.9h-.9zM347.4 563.0h.9v.9h-.9zM349.1 554.5h.9v.9h-.9zM355.9 559.2h.9v.9h-.9zM354.7 551.1h.9v.9h-.9zM351.2 559.5h.9v.9h-.9zM348.2 557.3h.9v.9h-.9zM355.4 551.3h.9v.9h-.9zM360.2 555.0h.9v.9h-.9zM349.4 553.7h.9v.9h-.9zM354.0 549.4h.9v.9h-.9zM349.1 557.1h.9v.9h-.9zM349.4 556.8h.9v.9h-.9zM351.8 554.5h.9v.9h-.9zM346.9 561.5h.9v.9h-.9zM353.3 552.5h.9v.9h-.9zM354.9 563.0h.9v.9h-.9zM353.3 564.1h.9v.9h-.9zM359.0 556.9h.9v.9h-.9zM352.2 555.7h.9v.9h-.9zM364.1 556.3h.9v.9h-.9zM353.9 555.4h.9v.9h-.9zM354.1 552.8h.9v.9h-.9zM348.6 564.7h.9v.9h-.9zM354.8 556.9h.9v.9h-.9zM358.8 551.8h.9v.9h-.9zM347.0 558.2h.9v.9h-.9zM353.8 554.1h.9v.9h-.9zM349.7 560.7h.9v.9h-.9zM347.1 559.0h.9v.9h-.9zM354.0 558.4h.9v.9h-.9zM357.8 560.4h.9v.9h-.9zM356.3 560.0h.9v.9h-.9zM346.9 551.5h.9v.9h-.9zM351.1 557.7h.9v.9h-.9zM351.6 548.5h.9v.9h-.9zM357.7 555.5h.9v.9h-.9zM354.7 555.8h.9v.9h-.9zM363.5 560.9h.9v.9h-.9zM347.8 555.4h.9v.9h-.9zM351.8 552.1h.9v.9h-.9zM350.6 553.3h.9v.9h-.9zM352.3 552.4h.9v.9h-.9zM356.3 550.7h.9v.9h-.9zM354.0 561.2h.9v.9h-.9zM349.2 556.3h.9v.9h-.9zM352.6 551.5h.9v.9h-.9zM348.3 557.5h.9v.9h-.9zM350.4 557.1h.9v.9h-.9zM349.2 562.1h.9v.9h-.9zM356.7 549.4h.9v.9h-.9zM353.9 551.3h.9v.9h-.9zM348.0 556.7h.9v.9h-.9zM348.2 559.0h.9v.9h-.9zM350.9 554.6h.9v.9h-.9zM351.0 554.3h.9v.9h-.9zM351.0 557.9h.9v.9h-.9zM352.9 554.9h.9v.9h-.9zM350.7 552.1h.9v.9h-.9zM355.8 558.7h.9v.9h-.9zM354.0 553.4h.9v.9h-.9zM348.1 552.9h.9v.9h-.9zM346.8 557.7h.9v.9h-.9zM348.9 556.6h.9v.9h-.9zM347.5 562.1h.9v.9h-.9zM349.7 559.2h.9v.9h-.9zM358.9 562.0h.9v.9h-.9zM355.1 554.4h.9v.9h-.9zM355.6 557.0h.9v.9h-.9zM355.8 554.9h.9v.9h-.9zM349.8 551.1h.9v.9h-.9zM354.5 557.0h.9v.9h-.9zM351.4 562.7h.9v.9h-.9zM352.1 559.7h.9v.9h-.9zM349.9 556.1h.9v.9h-.9zM351.1 559.1h.9v.9h-.9zM355.7 550.9h.9v.9h-.9zM350.2 562.4h.9v.9h-.9zM351.2 557.7h.9v.9h-.9zM354.5 560.2h.9v.9h-.9zM356.1 550.4h.9v.9h-.9zM351.5 556.8h.9v.9h-.9zM352.0 549.0h.9v.9h-.9zM349.1 550.4h.9v.9h-.9zM350.9 553.6h.9v.9h-.9zM352.1 555.1h.9v.9h-.9zM350.3 547.9h.9v.9h-.9zM350.0 564.1h.9v.9h-.9zM348.8 558.2h.9v.9h-.9zM348.6 560.5h.9v.9h-.9zM352.3 558.8h.9v.9h-.9zM348.4 556.1h.9v.9h-.9zM349.8 554.5h.9v.9h-.9zM348.9 561.9h.9v.9h-.9zM354.3 559.0h.9v.9h-.9zM354.9 558.3h.9v.9h-.9zM350.3 557.7h.9v.9h-.9zM348.2 562.4h.9v.9h-.9zM346.9 555.8h.9v.9h-.9zM353.0 557.9h.9v.9h-.9zM348.0 564.2h.9v.9h-.9zM351.9 547.8h.9v.9h-.9zM362.5 556.0h.9v.9h-.9zM347.2 562.9h.9v.9h-.9zM352.0 561.2h.9v.9h-.9zM349.4 550.8h.9v.9h-.9zM352.7 556.5h.9v.9h-.9zM358.6 561.5h.9v.9h-.9zM347.9 554.2h.9v.9h-.9zM355.2 561.9h.9v.9h-.9zM357.3 560.1h.9v.9h-.9zM353.8 552.9h.9v.9h-.9zM352.5 561.0h.9v.9h-.9zM354.1 564.9h.9v.9h-.9zM346.7 558.5h.9v.9h-.9zM351.0 558.0h.9v.9h-.9zM349.2 554.8h.9v.9h-.9zM351.1 560.0h.9v.9h-.9zM353.9 559.1h.9v.9h-.9zM352.8 555.9h.9v.9h-.9zM349.0 555.3h.9v.9h-.9zM359.6 558.1h.9v.9h-.9zM351.2 551.3h.9v.9h-.9zM366.2 565.9h.9v.9h-.9zM352.5 562.2h.9v.9h-.9zM349.0 558.2h.9v.9h-.9zM356.1 561.2h.9v.9h-.9zM346.9 552.5h.9v.9h-.9zM347.0 563.0h.9v.9h-.9zM351.1 558.2h.9v.9h-.9zM348.2 558.1h.9v.9h-.9zM355.8 561.2h.9v.9h-.9zM357.4 554.7h.9v.9h-.9zM349.9 552.6h.9v.9h-.9zM347.8 562.2h.9v.9h-.9zM356.2 562.0h.9v.9h-.9zM352.8 555.9h.9v.9h-.9zM348.3 564.3h.9v.9h-.9zM361.2 551.3h.9v.9h-.9zM357.6 556.0h.9v.9h-.9zM350.1 552.4h.9v.9h-.9zM348.2 554.0h.9v.9h-.9zM351.2 556.9h.9v.9h-.9zM347.8 549.0h.9v.9h-.9zM351.0 553.9h.9v.9h-.9zM347.8 557.1h.9v.9h-.9zM352.5 552.8h.9v.9h-.9zM350.3 560.3h.9v.9h-.9zM352.0 560.4h.9v.9h-.9zM348.4 560.4h.9v.9h-.9zM357.0 555.9h.9v.9h-.9zM353.3 557.9h.9v.9h-.9zM357.5 564.3h.9v.9h-.9zM347.3 550.0h.9v.9h-.9zM356.5 559.8h.9v.9h-.9zM355.4 559.9h.9v.9h-.9zM349.2 557.4h.9v.9h-.9zM356.3 554.9h.9v.9h-.9zM350.8 562.6h.9v.9h-.9zM346.8 557.7h.9v.9h-.9zM352.6 558.4h.9v.9h-.9zM346.8 559.9h.9v.9h-.9zM351.9 564.1h.9v.9h-.9zM354.8 556.5h.9v.9h-.9zM350.5 555.1h.9v.9h-.9zM354.0 552.7h.9v.9h-.9zM349.2 546.8h.9v.9h-.9zM350.1 560.9h.9v.9h-.9zM354.1 555.7h.9v.9h-.9zM351.2 556.7h.9v.9h-.9zM348.1 564.9h.9v.9h-.9zM348.2 553.1h.9v.9h-.9zM353.6 558.8h.9v.9h-.9zM358.0 553.6h.9v.9h-.9zM353.7 554.4h.9v.9h-.9zM348.5 550.3h.9v.9h-.9zM347.5 556.4h.9v.9h-.9zM348.5 552.2h.9v.9h-.9zM354.2 555.5h.9v.9h-.9zM347.4 554.3h.9v.9h-.9zM349.1 555.2h.9v.9h-.9zM351.8 549.0h.9v.9h-.9zM354.3 558.3h.9v.9h-.9zM349.1 553.4h.9v.9h-.9zM355.1 566.0h.9v.9h-.9zM350.3 565.0h.9v.9h-.9zM354.1 555.0h.9v.9h-.9zM350.7 558.6h.9v.9h-.9zM347.4 556.6h.9v.9h-.9zM347.5 561.4h.9v.9h-.9zM358.4 563.8h.9v.9h-.9zM352.6 556.5h.9v.9h-.9zM348.7 558.7h.9v.9h-.9zM354.0 552.9h.9v.9h-.9zM347.0 547.8h.9v.9h-.9zM350.6 553.7h.9v.9h-.9zM347.0 559.0h.9v.9h-.9zM349.8 550.8h.9v.9h-.9zM354.3 561.7h.9v.9h-.9zM347.8 556.3h.9v.9h-.9zM354.2 551.3h.9v.9h-.9zM347.0 553.3h.9v.9h-.9zM348.6 558.4h.9v.9h-.9zM348.2 563.0h.9v.9h-.9zM351.2 554.4h.9v.9h-.9zM354.2 547.7h.9v.9h-.9zM347.7 553.9h.9v.9h-.9zM353.8 566.3h.9v.9h-.9zM353.9 557.5h.9v.9h-.9zM349.3 559.2h.9v.9h-.9zM351.7 555.5h.9v.9h-.9zM348.5 565.5h.9v.9h-.9zM350.5 547.8h.9v.9h-.9zM357.9 557.2h.9v.9h-.9zM353.9 557.9h.9v.9h-.9zM353.3 554.3h.9v.9h-.9zM355.6 552.2h.9v.9h-.9zM358.0 561.0h.9v.9h-.9zM349.5 562.3h.9v.9h-.9zM355.4 556.6h.9v.9h-.9zM353.6 559.2h.9v.9h-.9zM349.2 553.7h.9v.9h-.9zM348.5 551.6h.9v.9h-.9zM350.5 557.8h.9v.9h-.9zM349.7 560.7h.9v.9h-.9zM361.0 558.4h.9v.9h-.9zM348.1 554.5h.9v.9h-.9zM347.8 566.3h.9v.9h-.9zM356.9 553.5h.9v.9h-.9zM349.3 554.7h.9v.9h-.9zM350.8 552.6h.9v.9h-.9zM351.2 558.4h.9v.9h-.9zM351.7 562.9h.9v.9h-.9zM349.6 563.3h.9v.9h-.9zM353.6 552.4h.9v.9h-.9zM347.3 553.5h.9v.9h-.9zM348.5 558.6h.9v.9h-.9zM355.8 549.6h.9v.9h-.9zM351.8 561.3h.9v.9h-.9zM347.6 563.7h.9v.9h-.9zM354.6 552.7h.9v.9h-.9zM360.2 558.2h.9v.9h-.9zM360.9 560.9h.9v.9h-.9zM350.8 550.3h.9v.9h-.9zM349.8 553.0h.9v.9h-.9zM350.9 559.8h.9v.9h-.9zM352.1 548.6h.9v.9h-.9zM348.4 562.2h.9v.9h-.9zM348.1 560.7h.9v.9h-.9zM350.3 565.8h.9v.9h-.9zM357.3 559.4h.9v.9h-.9zM351.7 563.7h.9v.9h-.9zM360.2 552.6h.9v.9h-.9zM351.3 558.9h.9v.9h-.9zM356.7 560.5h.9v.9h-.9zM346.9 556.2h.9v.9h-.9zM356.2 556.5h.9v.9h-.9zM348.6 558.8h.9v.9h-.9zM352.4 561.4h.9v.9h-.9zM355.4 557.8h.9v.9h-.9zM353.7 557.1h.9v.9h-.9zM357.3 563.1h.9v.9h-.9zM351.8 548.1h.9v.9h-.9zM356.4 559.1h.9v.9h-.9zM353.4 548.8h.9v.9h-.9zM353.8 561.8h.9v.9h-.9zM353.1 557.4h.9v.9h-.9zM347.0 558.9h.9v.9h-.9zM350.0 562.4h.9v.9h-.9zM350.4 556.1h.9v.9h-.9zM354.9 551.7h.9v.9h-.9zM347.0 551.8h.9v.9h-.9zM354.9 557.7h.9v.9h-.9zM348.1 547.4h.9v.9h-.9zM359.7 557.6h.9v.9h-.9zM351.0 548.1h.9v.9h-.9zM348.6 560.7h.9v.9h-.9zM353.8 549.6h.9v.9h-.9zM352.2 559.5h.9v.9h-.9zM347.3 559.7h.9v.9h-.9zM349.4 560.4h.9v.9h-.9zM349.9 562.8h.9v.9h-.9zM347.2 551.4h.9v.9h-.9zM347.7 560.2h.9v.9h-.9zM350.3 557.7h.9v.9h-.9zM349.8 558.4h.9v.9h-.9zM349.3 549.6h.9v.9h-.9zM349.7 558.5h.9v.9h-.9zM348.7 559.8h.9v.9h-.9zM352.5 554.1h.9v.9h-.9zM352.4 557.6h.9v.9h-.9zM354.3 548.6h.9v.9h-.9zM354.3 565.5h.9v.9h-.9zM348.8 560.1h.9v.9h-.9zM348.7 551.0h.9v.9h-.9zM349.2 558.6h.9v.9h-.9zM351.1 556.4h.9v.9h-.9zM359.6 549.4h.9v.9h-.9zM351.3 551.6h.9v.9h-.9zM348.8 558.2h.9v.9h-.9zM352.0 559.2h.9v.9h-.9zM351.5 546.8h.9v.9h-.9zM356.2 558.6h.9v.9h-.9zM351.0 556.6h.9v.9h-.9zM349.8 557.6h.9v.9h-.9zM347.8 551.2h.9v.9h-.9zM350.9 545.0h.9v.9h-.9zM352.5 561.4h.9v.9h-.9zM353.6 557.0h.9v.9h-.9zM354.5 557.0h.9v.9h-.9zM348.0 551.6h.9v.9h-.9zM349.2 553.1h.9v.9h-.9zM353.5 553.6h.9v.9h-.9zM349.3 551.9h.9v.9h-.9zM349.0 552.2h.9v.9h-.9zM350.3 548.9h.9v.9h-.9zM353.6 557.4h.9v.9h-.9zM347.8 558.6h.9v.9h-.9zM356.2 559.7h.9v.9h-.9zM355.6 558.5h.9v.9h-.9zM350.2 558.0h.9v.9h-.9zM356.1 559.4h.9v.9h-.9zM348.5 552.3h.9v.9h-.9zM355.5 556.7h.9v.9h-.9zM352.8 558.4h.9v.9h-.9zM347.6 557.1h.9v.9h-.9zM354.0 556.4h.9v.9h-.9zM347.6 554.7h.9v.9h-.9zM350.4 551.0h.9v.9h-.9zM347.5 558.0h.9v.9h-.9zM351.1 551.2h.9v.9h-.9zM363.6 556.6h.9v.9h-.9zM346.9 563.4h.9v.9h-.9zM357.5 557.5h.9v.9h-.9zM353.7 559.8h.9v.9h-.9zM360.0 560.5h.9v.9h-.9zM353.3 558.7h.9v.9h-.9zM348.4 554.0h.9v.9h-.9zM348.6 563.5h.9v.9h-.9zM353.0 559.8h.9v.9h-.9zM351.6 556.7h.9v.9h-.9zM347.8 551.6h.9v.9h-.9zM353.0 559.7h.9v.9h-.9zM350.0 556.7h.9v.9h-.9zM351.8 555.0h.9v.9h-.9zM350.3 560.0h.9v.9h-.9zM352.0 553.7h.9v.9h-.9zM361.4 560.7h.9v.9h-.9zM354.7 558.4h.9v.9h-.9zM364.1 549.1h.9v.9h-.9zM348.8 560.6h.9v.9h-.9zM347.5 551.9h.9v.9h-.9zM349.9 557.9h.9v.9h-.9zM352.1 552.7h.9v.9h-.9zM354.5 551.0h.9v.9h-.9zM348.8 561.5h.9v.9h-.9zM352.5 560.0h.9v.9h-.9zM347.0 561.4h.9v.9h-.9zM346.7 561.3h.9v.9h-.9zM350.4 552.7h.9v.9h-.9zM354.6 559.2h.9v.9h-.9zM360.1 552.1h.9v.9h-.9zM350.8 548.2h.9v.9h-.9zM351.4 564.6h.9v.9h-.9zM350.0 560.1h.9v.9h-.9zM358.3 563.2h.9v.9h-.9zM349.1 550.2h.9v.9h-.9zM350.7 563.6h.9v.9h-.9zM348.3 561.9h.9v.9h-.9zM352.9 555.4h.9v.9h-.9zM353.1 561.4h.9v.9h-.9zM348.2 556.0h.9v.9h-.9zM349.7 560.3h.9v.9h-.9zM355.5 552.1h.9v.9h-.9zM348.0 560.8h.9v.9h-.9zM348.5 558.9h.9v.9h-.9zM346.9 560.6h.9v.9h-.9zM350.2 563.3h.9v.9h-.9zM356.9 559.9h.9v.9h-.9zM347.0 553.5h.9v.9h-.9zM352.0 562.0h.9v.9h-.9zM349.7 556.4h.9v.9h-.9zM347.2 553.2h.9v.9h-.9zM348.0 549.6h.9v.9h-.9zM349.2 559.2h.9v.9h-.9zM351.9 562.7h.9v.9h-.9zM349.6 554.7h.9v.9h-.9zM346.9 561.5h.9v.9h-.9zM354.7 557.5h.9v.9h-.9zM348.5 555.6h.9v.9h-.9zM355.9 560.1h.9v.9h-.9zM349.8 548.1h.9v.9h-.9zM362.6 558.5h.9v.9h-.9zM349.7 553.8h.9v.9h-.9zM347.9 558.1h.9v.9h-.9zM355.4 556.0h.9v.9h-.9zM354.1 554.9h.9v.9h-.9zM358.2 552.2h.9v.9h-.9zM347.1 558.2h.9v.9h-.9zM358.3 564.6h.9v.9h-.9zM346.7 563.9h.9v.9h-.9zM353.8 557.2h.9v.9h-.9zM348.5 560.9h.9v.9h-.9zM349.2 559.4h.9v.9h-.9zM348.7 557.1h.9v.9h-.9zM352.7 555.7h.9v.9h-.9zM349.5 556.8h.9v.9h-.9zM357.4 557.9h.9v.9h-.9zM350.4 554.9h.9v.9h-.9zM356.8 555.9h.9v.9h-.9zM347.7 559.3h.9v.9h-.9zM346.8 560.2h.9v.9h-.9zM352.4 561.7h.9v.9h-.9zM351.9 553.3h.9v.9h-.9zM348.4 547.7h.9v.9h-.9zM354.2 556.6h.9v.9h-.9zM353.1 551.9h.9v.9h-.9zM354.4 553.5h.9v.9h-.9zM346.9 551.0h.9v.9h-.9zM350.3 548.8h.9v.9h-.9zM357.3 564.1h.9v.9h-.9zM353.8 561.0h.9v.9h-.9zM347.5 555.4h.9v.9h-.9zM353.1 552.1h.9v.9h-.9zM353.6 554.8h.9v.9h-.9zM349.5 552.5h.9v.9h-.9zM358.5 555.6h.9v.9h-.9zM348.1 550.6h.9v.9h-.9zM355.5 555.2h.9v.9h-.9zM347.2 550.8h.9v.9h-.9zM355.8 553.3h.9v.9h-.9zM351.3 552.7h.9v.9h-.9zM352.7 558.3h.9v.9h-.9zM351.9 564.9h.9v.9h-.9zM347.1 550.0h.9v.9h-.9zM349.6 551.8h.9v.9h-.9zM348.3 557.2h.9v.9h-.9zM355.8 561.2h.9v.9h-.9zM350.2 561.9h.9v.9h-.9zM347.7 560.3h.9v.9h-.9zM346.7 560.5h.9v.9h-.9zM347.4 553.6h.9v.9h-.9zM348.3 556.3h.9v.9h-.9zM358.2 555.9h.9v.9h-.9zM350.7 554.9h.9v.9h-.9zM357.3 557.0h.9v.9h-.9zM350.4 556.4h.9v.9h-.9zM350.7 554.5h.9v.9h-.9zM352.4 563.9h.9v.9h-.9zM347.4 554.3h.9v.9h-.9zM349.0 562.9h.9v.9h-.9zM353.7 549.9h.9v.9h-.9zM352.9 565.2h.9v.9h-.9zM351.7 563.1h.9v.9h-.9zM353.3 554.1h.9v.9h-.9zM355.7 554.8h.9v.9h-.9zM352.0 554.6h.9v.9h-.9zM348.7 559.1h.9v.9h-.9zM351.2 559.5h.9v.9h-.9zM356.2 561.5h.9v.9h-.9zM354.8 559.0h.9v.9h-.9zM358.7 556.4h.9v.9h-.9zM349.9 552.7h.9v.9h-.9zM348.7 563.2h.9v.9h-.9zM350.0 559.3h.9v.9h-.9zM355.5 550.8h.9v.9h-.9zM359.9 553.3h.9v.9h-.9zM349.3 556.3h.9v.9h-.9zM349.2 547.9h.9v.9h-.9zM352.4 559.4h.9v.9h-.9zM348.9 554.1h.9v.9h-.9zM347.9 560.6h.9v.9h-.9zM347.9 556.1h.9v.9h-.9zM349.8 560.2h.9v.9h-.9zM353.9 558.3h.9v.9h-.9zM348.4 556.6h.9v.9h-.9zM349.1 562.3h.9v.9h-.9zM351.3 558.5h.9v.9h-.9zM363.7 554.8h.9v.9h-.9zM361.2 552.1h.9v.9h-.9zM347.3 565.3h.9v.9h-.9zM347.1 545.9h.9v.9h-.9zM349.0 562.7h.9v.9h-.9zM356.7 554.6h.9v.9h-.9zM352.1 554.1h.9v.9h-.9zM356.2 550.8h.9v.9h-.9zM352.6 564.5h.9v.9h-.9zM351.2 564.8h.9v.9h-.9zM346.8 563.3h.9v.9h-.9zM350.4 556.4h.9v.9h-.9zM350.4 556.4h.9v.9h-.9zM347.3 557.3h.9v.9h-.9zM347.7 559.9h.9v.9h-.9zM347.3 554.9h.9v.9h-.9zM347.9 557.6h.9v.9h-.9zM355.6 558.8h.9v.9h-.9zM347.2 550.7h.9v.9h-.9zM346.9 556.9h.9v.9h-.9zM350.6 558.6h.9v.9h-.9zM347.8 550.0h.9v.9h-.9zM351.9 559.4h.9v.9h-.9zM353.5 557.7h.9v.9h-.9zM360.1 559.4h.9v.9h-.9zM356.5 560.3h.9v.9h-.9zM353.6 553.7h.9v.9h-.9zM347.9 561.9h.9v.9h-.9zM351.0 559.5h.9v.9h-.9zM348.1 554.0h.9v.9h-.9zM351.8 562.3h.9v.9h-.9zM358.5 563.6h.9v.9h-.9zM349.1 556.0h.9v.9h-.9zM353.2 553.7h.9v.9h-.9zM351.9 560.8h.9v.9h-.9zM349.1 553.7h.9v.9h-.9zM350.3 554.1h.9v.9h-.9zM353.0 559.1h.9v.9h-.9zM351.6 560.0h.9v.9h-.9zM356.5 550.1h.9v.9h-.9zM356.6 556.3h.9v.9h-.9zM349.4 553.1h.9v.9h-.9zM346.7 555.0h.9v.9h-.9zM347.2 560.7h.9v.9h-.9zM348.6 556.0h.9v.9h-.9zM354.5 555.7h.9v.9h-.9zM349.1 552.8h.9v.9h-.9zM353.4 552.3h.9v.9h-.9zM346.7 552.1h.9v.9h-.9zM354.6 562.0h.9v.9h-.9zM349.9 560.0h.9v.9h-.9zM352.7 559.9h.9v.9h-.9zM351.3 558.6h.9v.9h-.9zM347.2 565.5h.9v.9h-.9zM351.0 548.6h.9v.9h-.9zM355.1 548.4h.9v.9h-.9zM352.7 554.4h.9v.9h-.9zM349.6 560.4h.9v.9h-.9zM351.3 558.9h.9v.9h-.9zM353.2 557.7h.9v.9h-.9zM349.1 556.9h.9v.9h-.9zM349.6 558.9h.9v.9h-.9zM349.3 565.3h.9v.9h-.9zM356.3 554.7h.9v.9h-.9zM351.3 560.7h.9v.9h-.9zM350.4 556.4h.9v.9h-.9zM351.6 560.4h.9v.9h-.9zM350.9 544.8h.9v.9h-.9zM353.6 554.8h.9v.9h-.9zM347.2 558.0h.9v.9h-.9zM351.4 565.3h.9v.9h-.9zM349.7 549.6h.9v.9h-.9zM354.9 557.9h.9v.9h-.9zM350.0 558.7h.9v.9h-.9zM353.5 553.8h.9v.9h-.9zM350.8 552.5h.9v.9h-.9zM356.5 551.0h.9v.9h-.9zM346.8 554.8h.9v.9h-.9zM348.5 556.9h.9v.9h-.9zM351.4 564.3h.9v.9h-.9zM354.6 565.1h.9v.9h-.9zM347.2 551.0h.9v.9h-.9zM347.9 561.1h.9v.9h-.9zM353.8 551.3h.9v.9h-.9zM352.5 556.9h.9v.9h-.9zM352.6 557.7h.9v.9h-.9zM352.7 557.8h.9v.9h-.9zM359.7 555.0h.9v.9h-.9zM355.8 559.3h.9v.9h-.9zM347.6 554.5h.9v.9h-.9zM353.8 553.8h.9v.9h-.9zM354.6 557.4h.9v.9h-.9zM347.6 563.6h.9v.9h-.9zM351.2 557.0h.9v.9h-.9zM349.8 548.8h.9v.9h-.9zM352.8 554.5h.9v.9h-.9zM349.9 551.8h.9v.9h-.9zM355.1 557.8h.9v.9h-.9zM355.7 563.1h.9v.9h-.9zM351.9 555.1h.9v.9h-.9zM350.7 557.1h.9v.9h-.9zM350.3 557.2h.9v.9h-.9zM349.5 560.9h.9v.9h-.9zM356.0 554.9h.9v.9h-.9zM350.2 562.2h.9v.9h-.9zM349.7 553.1h.9v.9h-.9zM361.5 554.9h.9v.9h-.9zM354.8 560.2h.9v.9h-.9zM359.9 554.7h.9v.9h-.9zM350.7 554.0h.9v.9h-.9zM356.2 556.3h.9v.9h-.9zM348.1 562.7h.9v.9h-.9zM355.0 558.9h.9v.9h-.9zM348.1 555.4h.9v.9h-.9zM347.8 545.6h.9v.9h-.9zM354.3 562.5h.9v.9h-.9zM354.3 553.8h.9v.9h-.9zM355.6 558.4h.9v.9h-.9zM346.9 558.2h.9v.9h-.9zM347.3 558.1h.9v.9h-.9zM349.2 558.3h.9v.9h-.9zM354.3 559.2h.9v.9h-.9zM347.8 554.0h.9v.9h-.9zM350.1 551.6h.9v.9h-.9zM350.4 558.2h.9v.9h-.9zM356.4 554.7h.9v.9h-.9zM348.6 556.4h.9v.9h-.9zM356.6 559.7h.9v.9h-.9zM351.9 558.0h.9v.9h-.9zM349.0 559.9h.9v.9h-.9zM348.2 555.1h.9v.9h-.9zM348.6 559.7h.9v.9h-.9zM346.8 555.2h.9v.9h-.9zM352.6 552.5h.9v.9h-.9zM354.6 556.1h.9v.9h-.9zM354.6 557.5h.9v.9h-.9zM348.5 554.5h.9v.9h-.9zM352.2 558.7h.9v.9h-.9zM348.6 562.5h.9v.9h-.9zM354.5 555.6h.9v.9h-.9zM349.4 559.0h.9v.9h-.9zM347.6 561.8h.9v.9h-.9zM347.4 552.9h.9v.9h-.9zM348.4 557.8h.9v.9h-.9zM348.0 551.2h.9v.9h-.9zM347.5 554.1h.9v.9h-.9zM352.0 560.2h.9v.9h-.9zM348.0 555.6h.9v.9h-.9zM350.3 551.9h.9v.9h-.9zM348.6 560.9h.9v.9h-.9zM349.5 556.6h.9v.9h-.9zM348.5 549.8h.9v.9h-.9zM349.1 557.4h.9v.9h-.9zM352.6 562.5h.9v.9h-.9zM353.7 561.6h.9v.9h-.9zM350.0 556.8h.9v.9h-.9zM355.0 555.7h.9v.9h-.9zM349.8 560.1h.9v.9h-.9zM349.4 555.7h.9v.9h-.9zM347.6 565.7h.9v.9h-.9zM349.1 564.7h.9v.9h-.9zM359.1 552.5h.9v.9h-.9zM351.5 558.5h.9v.9h-.9zM351.0 560.9h.9v.9h-.9zM354.2 557.8h.9v.9h-.9zM355.0 564.2h.9v.9h-.9zM349.6 553.7h.9v.9h-.9zM349.8 555.1h.9v.9h-.9zM352.5 554.0h.9v.9h-.9zM353.5 559.2h.9v.9h-.9zM346.9 560.6h.9v.9h-.9zM357.4 554.1h.9v.9h-.9zM348.1 556.5h.9v.9h-.9zM356.6 551.1h.9v.9h-.9zM352.1 557.7h.9v.9h-.9zM360.8 555.3h.9v.9h-.9zM347.1 557.8h.9v.9h-.9zM379.9 528.2h.9v.9h-.9zM381.5 526.2h.9v.9h-.9zM385.0 526.7h.9v.9h-.9zM377.2 530.2h.9v.9h-.9zM384.5 527.4h.9v.9h-.9zM382.8 526.5h.9v.9h-.9zM386.7 526.2h.9v.9h-.9zM381.6 529.5h.9v.9h-.9zM383.3 528.2h.9v.9h-.9zM383.5 527.3h.9v.9h-.9zM381.9 524.5h.9v.9h-.9zM388.0 525.4h.9v.9h-.9zM385.8 527.4h.9v.9h-.9zM385.0 526.9h.9v.9h-.9zM385.7 527.1h.9v.9h-.9zM386.5 527.1h.9v.9h-.9zM381.8 527.4h.9v.9h-.9zM378.0 529.6h.9v.9h-.9z" fill="#1a1a1a"/>
<path d="M402.7 559.0h.9v.9h-.9zM365.2 529.3h.9v.9h-.9zM398.3 510.2h.9v.9h-.9zM378.3 527.1h.9v.9h-.9zM414.4 528.0h.9v.9h-.9zM383.7 556.4h.9v.9h-.9zM363.2 542.5h.9v.9h-.9zM356.2 515.7h.9v.9h-.9zM410.7 516.7h.9v.9h-.9zM357.6 522.2h.9v.9h-.9zM412.3 515.6h.9v.9h-.9zM409.3 526.6h.9v.9h-.9zM367.0 522.0h.9v.9h-.9zM402.5 543.6h.9v.9h-.9zM381.0 519.0h.9v.9h-.9zM354.6 537.6h.9v.9h-.9zM408.3 515.3h.9v.9h-.9zM370.1 534.1h.9v.9h-.9zM396.3 511.9h.9v.9h-.9zM361.9 549.9h.9v.9h-.9zM388.0 565.0h.9v.9h-.9zM367.4 529.8h.9v.9h-.9zM377.8 548.6h.9v.9h-.9zM366.0 543.5h.9v.9h-.9zM367.8 527.4h.9v.9h-.9zM378.6 550.9h.9v.9h-.9zM403.7 541.9h.9v.9h-.9zM372.0 519.9h.9v.9h-.9zM379.8 556.6h.9v.9h-.9zM415.3 559.5h.9v.9h-.9zM405.3 526.4h.9v.9h-.9zM355.8 536.4h.9v.9h-.9zM387.4 517.9h.9v.9h-.9zM405.0 541.3h.9v.9h-.9zM365.0 549.4h.9v.9h-.9zM367.8 532.1h.9v.9h-.9zM363.9 560.8h.9v.9h-.9zM356.3 548.2h.9v.9h-.9zM362.6 531.0h.9v.9h-.9zM367.5 558.7h.9v.9h-.9zM360.8 550.9h.9v.9h-.9zM359.3 550.0h.9v.9h-.9zM360.4 551.2h.9v.9h-.9zM358.8 553.7h.9v.9h-.9zM370.2 562.7h.9v.9h-.9zM360.3 536.2h.9v.9h-.9zM358.8 528.8h.9v.9h-.9zM356.8 522.5h.9v.9h-.9zM368.6 549.8h.9v.9h-.9zM362.3 556.9h.9v.9h-.9zM359.0 532.8h.9v.9h-.9zM356.3 549.2h.9v.9h-.9zM362.3 538.8h.9v.9h-.9zM359.8 542.5h.9v.9h-.9zM369.2 564.3h.9v.9h-.9zM362.9 533.6h.9v.9h-.9zM363.4 559.8h.9v.9h-.9zM356.4 533.1h.9v.9h-.9zM364.2 530.4h.9v.9h-.9zM365.4 563.9h.9v.9h-.9zM362.2 532.5h.9v.9h-.9zM362.9 551.8h.9v.9h-.9zM358.0 553.8h.9v.9h-.9zM363.8 562.7h.9v.9h-.9zM363.4 522.3h.9v.9h-.9zM356.9 542.5h.9v.9h-.9zM359.5 525.0h.9v.9h-.9zM359.5 539.6h.9v.9h-.9zM362.5 563.0h.9v.9h-.9zM363.7 534.3h.9v.9h-.9zM359.4 524.7h.9v.9h-.9zM365.7 543.8h.9v.9h-.9zM365.0 522.6h.9v.9h-.9zM359.7 532.0h.9v.9h-.9zM359.6 541.8h.9v.9h-.9zM363.1 531.2h.9v.9h-.9zM365.7 534.9h.9v.9h-.9zM359.9 556.0h.9v.9h-.9zM360.1 532.9h.9v.9h-.9zM359.0 533.9h.9v.9h-.9z" fill="#9a9a9a"/>
<line x1="346.3" y1="499.3" x2="346.3" y2="567.4" stroke="#333" stroke-width="1"/>
<line x1="346.3" y1="567.4" x2="422" y2="567.4" stroke="#444" stroke-width="0.8"/>
<line x1="344.3" y1="505.8" x2="346.3" y2="505.8" stroke="#333" stroke-width="0.7"/>
<text transform="translate(342.1,506.6) rotate(-90)" font-size="4.1" text-anchor="middle" fill="#111">10<tspan font-size="2.8" dy="-1.4">5</tspan></text>
<line x1="344.3" y1="522.9" x2="346.3" y2="522.9" stroke="#333" stroke-width="0.7"/>
<text transform="translate(342.1,523.7) rotate(-90)" font-size="4.1" text-anchor="middle" fill="#111">10<tspan font-size="2.8" dy="-1.4">4</tspan></text>
<line x1="344.3" y1="540.3" x2="346.3" y2="540.3" stroke="#333" stroke-width="0.7"/>
<text transform="translate(342.1,541.1) rotate(-90)" font-size="4.1" text-anchor="middle" fill="#111">10<tspan font-size="2.8" dy="-1.4">3</tspan></text>
<line x1="344.3" y1="557" x2="346.3" y2="557" stroke="#333" stroke-width="0.7"/>
<text transform="translate(342.1,557.8) rotate(-90)" font-size="4.1" text-anchor="middle" fill="#111">10<tspan font-size="2.8" dy="-1.4">2</tspan></text>
<line x1="357.3" y1="567.4" x2="357.3" y2="569.4" stroke="#333" stroke-width="0.7"/>
<text x="357.3" y="575.5" font-size="4.1" text-anchor="middle" fill="#111">10<tspan font-size="2.8" dy="-1.4">2</tspan></text>
<line x1="375.8" y1="567.4" x2="375.8" y2="569.4" stroke="#333" stroke-width="0.7"/>
<text x="375.8" y="575.5" font-size="4.1" text-anchor="middle" fill="#111">10<tspan font-size="2.8" dy="-1.4">3</tspan></text>
<line x1="394.8" y1="567.4" x2="394.8" y2="569.4" stroke="#333" stroke-width="0.7"/>
<text x="394.8" y="575.5" font-size="4.1" text-anchor="middle" fill="#111">10<tspan font-size="2.8" dy="-1.4">4</tspan></text>
<line x1="413.8" y1="567.4" x2="413.8" y2="569.4" stroke="#333" stroke-width="0.7"/>
<text x="413.8" y="575.5" font-size="4.1" text-anchor="middle" fill="#111">10<tspan font-size="2.8" dy="-1.4">5</tspan></text>
<line x1="347.37" y1="567.4" x2="347.37" y2="569.4" stroke="#333" stroke-width="0.6"/>
<line x1="349.74" y1="567.4" x2="349.74" y2="569.4" stroke="#333" stroke-width="0.6"/>
<line x1="351.58" y1="567.4" x2="351.58" y2="569.4" stroke="#333" stroke-width="0.6"/>
<line x1="353.08" y1="567.4" x2="353.08" y2="569.4" stroke="#333" stroke-width="0.6"/>
<line x1="354.36" y1="567.4" x2="354.36" y2="569.4" stroke="#333" stroke-width="0.6"/>
<line x1="355.46" y1="567.4" x2="355.46" y2="569.4" stroke="#333" stroke-width="0.6"/>
<line x1="356.43" y1="567.4" x2="356.43" y2="569.4" stroke="#333" stroke-width="0.6"/>
<line x1="362.52" y1="567.4" x2="362.52" y2="569.4" stroke="#333" stroke-width="0.6"/>
<line x1="365.87" y1="567.4" x2="365.87" y2="569.4" stroke="#333" stroke-width="0.6"/>
<line x1="368.24" y1="567.4" x2="368.24" y2="569.4" stroke="#333" stroke-width="0.6"/>
<line x1="370.08" y1="567.4" x2="370.08" y2="569.4" stroke="#333" stroke-width="0.6"/>
<line x1="371.58" y1="567.4" x2="371.58" y2="569.4" stroke="#333" stroke-width="0.6"/>
<line x1="372.86" y1="567.4" x2="372.86" y2="569.4" stroke="#333" stroke-width="0.6"/>
<line x1="373.96" y1="567.4" x2="373.96" y2="569.4" stroke="#333" stroke-width="0.6"/>
<line x1="374.93" y1="567.4" x2="374.93" y2="569.4" stroke="#333" stroke-width="0.6"/>
<line x1="381.52" y1="567.4" x2="381.52" y2="569.4" stroke="#333" stroke-width="0.6"/>
<line x1="384.87" y1="567.4" x2="384.87" y2="569.4" stroke="#333" stroke-width="0.6"/>
<line x1="387.24" y1="567.4" x2="387.24" y2="569.4" stroke="#333" stroke-width="0.6"/>
<line x1="389.08" y1="567.4" x2="389.08" y2="569.4" stroke="#333" stroke-width="0.6"/>
<line x1="390.58" y1="567.4" x2="390.58" y2="569.4" stroke="#333" stroke-width="0.6"/>
<line x1="391.86" y1="567.4" x2="391.86" y2="569.4" stroke="#333" stroke-width="0.6"/>
<line x1="392.96" y1="567.4" x2="392.96" y2="569.4" stroke="#333" stroke-width="0.6"/>
<line x1="393.93" y1="567.4" x2="393.93" y2="569.4" stroke="#333" stroke-width="0.6"/>
<line x1="400.52" y1="567.4" x2="400.52" y2="569.4" stroke="#333" stroke-width="0.6"/>
<line x1="403.87" y1="567.4" x2="403.87" y2="569.4" stroke="#333" stroke-width="0.6"/>
<line x1="406.24" y1="567.4" x2="406.24" y2="569.4" stroke="#333" stroke-width="0.6"/>
<line x1="408.08" y1="567.4" x2="408.08" y2="569.4" stroke="#333" stroke-width="0.6"/>
<line x1="409.58" y1="567.4" x2="409.58" y2="569.4" stroke="#333" stroke-width="0.6"/>
<line x1="410.86" y1="567.4" x2="410.86" y2="569.4" stroke="#333" stroke-width="0.6"/>
<line x1="411.96" y1="567.4" x2="411.96" y2="569.4" stroke="#333" stroke-width="0.6"/>
<line x1="412.93" y1="567.4" x2="412.93" y2="569.4" stroke="#333" stroke-width="0.6"/>
<line x1="344.3" y1="517.78" x2="346.3" y2="517.78" stroke="#333" stroke-width="0.6"/>
<line x1="344.3" y1="514.79" x2="346.3" y2="514.79" stroke="#333" stroke-width="0.6"/>
<line x1="344.3" y1="512.66" x2="346.3" y2="512.66" stroke="#333" stroke-width="0.6"/>
<line x1="344.3" y1="511.02" x2="346.3" y2="511.02" stroke="#333" stroke-width="0.6"/>
<line x1="344.3" y1="509.67" x2="346.3" y2="509.67" stroke="#333" stroke-width="0.6"/>
<line x1="344.3" y1="508.53" x2="346.3" y2="508.53" stroke="#333" stroke-width="0.6"/>
<line x1="344.3" y1="507.55" x2="346.3" y2="507.55" stroke="#333" stroke-width="0.6"/>
<line x1="344.3" y1="506.68" x2="346.3" y2="506.68" stroke="#333" stroke-width="0.6"/>
<line x1="344.3" y1="535.18" x2="346.3" y2="535.18" stroke="#333" stroke-width="0.6"/>
<line x1="344.3" y1="532.19" x2="346.3" y2="532.19" stroke="#333" stroke-width="0.6"/>
<line x1="344.3" y1="530.06" x2="346.3" y2="530.06" stroke="#333" stroke-width="0.6"/>
<line x1="344.3" y1="528.42" x2="346.3" y2="528.42" stroke="#333" stroke-width="0.6"/>
<line x1="344.3" y1="527.07" x2="346.3" y2="527.07" stroke="#333" stroke-width="0.6"/>
<line x1="344.3" y1="525.93" x2="346.3" y2="525.93" stroke="#333" stroke-width="0.6"/>
<line x1="344.3" y1="524.95" x2="346.3" y2="524.95" stroke="#333" stroke-width="0.6"/>
<line x1="344.3" y1="524.08" x2="346.3" y2="524.08" stroke="#333" stroke-width="0.6"/>
<line x1="344.3" y1="551.88" x2="346.3" y2="551.88" stroke="#333" stroke-width="0.6"/>
<line x1="344.3" y1="548.89" x2="346.3" y2="548.89" stroke="#333" stroke-width="0.6"/>
<line x1="344.3" y1="546.76" x2="346.3" y2="546.76" stroke="#333" stroke-width="0.6"/>
<line x1="344.3" y1="545.12" x2="346.3" y2="545.12" stroke="#333" stroke-width="0.6"/>
<line x1="344.3" y1="543.77" x2="346.3" y2="543.77" stroke="#333" stroke-width="0.6"/>
<line x1="344.3" y1="542.63" x2="346.3" y2="542.63" stroke="#333" stroke-width="0.6"/>
<line x1="344.3" y1="541.65" x2="346.3" y2="541.65" stroke="#333" stroke-width="0.6"/>
<line x1="344.3" y1="540.78" x2="346.3" y2="540.78" stroke="#333" stroke-width="0.6"/>
<line x1="344.3" y1="565.89" x2="346.3" y2="565.89" stroke="#333" stroke-width="0.6"/>
<line x1="344.3" y1="563.76" x2="346.3" y2="563.76" stroke="#333" stroke-width="0.6"/>
<line x1="344.3" y1="562.12" x2="346.3" y2="562.12" stroke="#333" stroke-width="0.6"/>
<line x1="344.3" y1="560.77" x2="346.3" y2="560.77" stroke="#333" stroke-width="0.6"/>
<line x1="344.3" y1="559.63" x2="346.3" y2="559.63" stroke="#333" stroke-width="0.6"/>
<line x1="344.3" y1="558.65" x2="346.3" y2="558.65" stroke="#333" stroke-width="0.6"/>
<line x1="344.3" y1="557.78" x2="346.3" y2="557.78" stroke="#333" stroke-width="0.6"/>
<line x1="345.1" y1="500.5" x2="346.3" y2="500.5" stroke="#444" stroke-width="0.5"/>
<line x1="345.1" y1="502.5" x2="346.3" y2="502.5" stroke="#444" stroke-width="0.5"/>
<line x1="345.1" y1="504.5" x2="346.3" y2="504.5" stroke="#444" stroke-width="0.5"/>
<line x1="345.1" y1="506.5" x2="346.3" y2="506.5" stroke="#444" stroke-width="0.5"/>
<line x1="345.1" y1="508.5" x2="346.3" y2="508.5" stroke="#444" stroke-width="0.5"/>
<line x1="345.1" y1="510.5" x2="346.3" y2="510.5" stroke="#444" stroke-width="0.5"/>
<line x1="345.1" y1="512.5" x2="346.3" y2="512.5" stroke="#444" stroke-width="0.5"/>
<line x1="345.1" y1="514.5" x2="346.3" y2="514.5" stroke="#444" stroke-width="0.5"/>
<line x1="345.1" y1="516.5" x2="346.3" y2="516.5" stroke="#444" stroke-width="0.5"/>
<line x1="345.1" y1="518.5" x2="346.3" y2="518.5" stroke="#444" stroke-width="0.5"/>
<line x1="345.1" y1="520.5" x2="346.3" y2="520.5" stroke="#444" stroke-width="0.5"/>
<line x1="345.1" y1="522.5" x2="346.3" y2="522.5" stroke="#444" stroke-width="0.5"/>
<line x1="345.1" y1="524.5" x2="346.3" y2="524.5" stroke="#444" stroke-width="0.5"/>
<line x1="345.1" y1="526.5" x2="346.3" y2="526.5" stroke="#444" stroke-width="0.5"/>
<line x1="345.1" y1="528.5" x2="346.3" y2="528.5" stroke="#444" stroke-width="0.5"/>
<line x1="345.1" y1="530.5" x2="346.3" y2="530.5" stroke="#444" stroke-width="0.5"/>
<line x1="345.1" y1="532.5" x2="346.3" y2="532.5" stroke="#444" stroke-width="0.5"/>
<line x1="345.1" y1="534.5" x2="346.3" y2="534.5" stroke="#444" stroke-width="0.5"/>
<line x1="345.1" y1="536.5" x2="346.3" y2="536.5" stroke="#444" stroke-width="0.5"/>
<line x1="345.1" y1="538.5" x2="346.3" y2="538.5" stroke="#444" stroke-width="0.5"/>
<line x1="345.1" y1="540.5" x2="346.3" y2="540.5" stroke="#444" stroke-width="0.5"/>
<line x1="345.1" y1="542.5" x2="346.3" y2="542.5" stroke="#444" stroke-width="0.5"/>
<line x1="345.1" y1="544.5" x2="346.3" y2="544.5" stroke="#444" stroke-width="0.5"/>
<line x1="345.1" y1="546.5" x2="346.3" y2="546.5" stroke="#444" stroke-width="0.5"/>
<line x1="345.1" y1="548.5" x2="346.3" y2="548.5" stroke="#444" stroke-width="0.5"/>
<line x1="345.1" y1="550.5" x2="346.3" y2="550.5" stroke="#444" stroke-width="0.5"/>
<line x1="345.1" y1="552.5" x2="346.3" y2="552.5" stroke="#444" stroke-width="0.5"/>
<line x1="345.1" y1="554.5" x2="346.3" y2="554.5" stroke="#444" stroke-width="0.5"/>
<line x1="345.1" y1="556.5" x2="346.3" y2="556.5" stroke="#444" stroke-width="0.5"/>
<line x1="345.1" y1="558.5" x2="346.3" y2="558.5" stroke="#444" stroke-width="0.5"/>
<line x1="345.1" y1="560.5" x2="346.3" y2="560.5" stroke="#444" stroke-width="0.5"/>
<line x1="345.1" y1="562.5" x2="346.3" y2="562.5" stroke="#444" stroke-width="0.5"/>
<line x1="345.1" y1="564.5" x2="346.3" y2="564.5" stroke="#444" stroke-width="0.5"/>
<line x1="345.1" y1="566.5" x2="346.3" y2="566.5" stroke="#444" stroke-width="0.5"/>
<text x="384.45" y="583.4" font-size="5" font-weight="normal" text-anchor="middle" fill="#111" >KJI 26 APC-A</text>
<text transform="translate(336.4,533) rotate(-90)" font-size="5" text-anchor="middle" fill="#000" stroke="#000" stroke-width="0.15">CD4 FITC-A</text>
<text x="0.8" y="611.2" font-size="14" font-weight="bold" text-anchor="start" fill="#000" >G</text>
<line x1="51.8" y1="619.1" x2="51.8" y2="708.7" stroke="#333" stroke-width="1.4"/>
<line x1="51.1" y1="708" x2="227" y2="708" stroke="#333" stroke-width="1.4"/>
<line x1="48.8" y1="619.1" x2="51.8" y2="619.1" stroke="#333" stroke-width="1.4"/>
<text x="43.6" y="622.41" font-size="9.2" font-weight="bold" text-anchor="end" fill="#000"  stroke="#000" stroke-width="0.3">3</text>
<line x1="48.8" y1="648.73" x2="51.8" y2="648.73" stroke="#333" stroke-width="1.4"/>
<text x="43.6" y="652.05" font-size="9.2" font-weight="bold" text-anchor="end" fill="#000"  stroke="#000" stroke-width="0.3">2</text>
<line x1="48.8" y1="678.37" x2="51.8" y2="678.37" stroke="#333" stroke-width="1.4"/>
<text x="43.6" y="681.68" font-size="9.2" font-weight="bold" text-anchor="end" fill="#000"  stroke="#000" stroke-width="0.3">1</text>
<line x1="48.8" y1="708" x2="51.8" y2="708" stroke="#333" stroke-width="1.4"/>
<text x="43.6" y="711.31" font-size="9.2" font-weight="bold" text-anchor="end" fill="#000"  stroke="#000" stroke-width="0.3">0</text>
<rect x="68.8" y="644.8" width="24.2" height="63.2" fill="#fff" stroke="#222" stroke-width="1.2"/>
<rect x="127" y="690" width="23.75" height="18" fill="#000" stroke="#000" stroke-width="1"/>
<rect x="184.5" y="667.5" width="24.2" height="40.5" fill="#9a9a9a" stroke="#1a1a1a" stroke-width="1.2"/>
<path d="M80.75 644.5V633M78.75 633H82.75" stroke="#333" stroke-width="1" fill="none"/>
<path d="M138.75 690V687M136.75 687H140.75" stroke="#333" stroke-width="1" fill="none"/>
<path d="M196.75 667.5V665.5M194.75 665.5H198.75" stroke="#333" stroke-width="1" fill="none"/>
<text x="85.8" y="617.5" font-size="11.2" font-style="italic" textLength="8.6" lengthAdjust="spacingAndGlyphs">P</text>
<text x="97.3" y="617.5" font-size="11.2" font-weight="bold" stroke="#000" stroke-width="0.45">&lt;</text>
<text x="105.7" y="617.5" font-size="11.2" font-weight="bold" stroke="#000" stroke-width="0.12" textLength="21.2" lengthAdjust="spacingAndGlyphs">.001</text>
<path d="M82.25 628V623.25H138V628" stroke="#666" stroke-width="1" fill="none"/>
<text x="146.8" y="641.1" font-size="11.2" font-style="italic" textLength="8.6" lengthAdjust="spacingAndGlyphs">P</text>
<text x="157.4" y="641.1" font-size="11.2" font-weight="bold" stroke="#000" stroke-width="0.2">=</text>
<text x="164.8" y="641.1" font-size="11.2" font-weight="bold" stroke="#000" stroke-width="0.12" textLength="23.1" lengthAdjust="spacingAndGlyphs">.006</text>
<path d="M140 651.25V646.75H199.75V651.25" stroke="#666" stroke-width="1" fill="none"/>
<text x="66.9" y="726.6" font-size="10.6" font-weight="bold" text-anchor="start" fill="#000" textLength="27.5" lengthAdjust="spacingAndGlyphs" >Sham</text>
<text x="114.6" y="726.3" font-size="10.6" font-weight="bold" text-anchor="start" fill="#000" textLength="49" lengthAdjust="spacingAndGlyphs" >CLP + IgG</text>
<text x="182.9" y="722.2" font-size="10.6" font-weight="bold" text-anchor="start" fill="#000" textLength="29.2" lengthAdjust="spacingAndGlyphs" >CLP +</text>
<text x="174.2" y="735.9" font-size="10.6" font-weight="bold" text-anchor="start" fill="#000" textLength="46.7" lengthAdjust="spacingAndGlyphs" >anti-GITR</text>
<text transform="translate(32.3,663.3) rotate(-90)" font-size="12.4" text-anchor="middle" stroke="#000" stroke-width="0.35" textLength="98.3" lengthAdjust="spacingAndGlyphs">% KJI-26<tspan font-size="7.5" dy="-5">+</tspan><tspan dy="5"> T cells</tspan></text>
<text x="254.8" y="609.6" font-size="14" font-weight="bold" text-anchor="start" fill="#000" >H</text>
<line x1="321.1" y1="626.7" x2="321.1" y2="707.9" stroke="#222" stroke-width="1.4"/>
<line x1="320.4" y1="707.2" x2="485.5" y2="707.2" stroke="#222" stroke-width="1.4"/>
<line x1="318.1" y1="626.7" x2="321.1" y2="626.7" stroke="#222" stroke-width="1.4"/>
<text x="312.7" y="630.52" font-size="10.6" font-weight="bold" text-anchor="end" fill="#000"  stroke="#000" stroke-width="0.3">5</text>
<line x1="318.1" y1="642.8" x2="321.1" y2="642.8" stroke="#222" stroke-width="1.4"/>
<text x="312.7" y="646.62" font-size="10.6" font-weight="bold" text-anchor="end" fill="#000"  stroke="#000" stroke-width="0.3">4</text>
<line x1="318.1" y1="658.9" x2="321.1" y2="658.9" stroke="#222" stroke-width="1.4"/>
<text x="312.7" y="662.72" font-size="10.6" font-weight="bold" text-anchor="end" fill="#000"  stroke="#000" stroke-width="0.3">3</text>
<line x1="318.1" y1="675" x2="321.1" y2="675" stroke="#222" stroke-width="1.4"/>
<text x="312.7" y="678.82" font-size="10.6" font-weight="bold" text-anchor="end" fill="#000"  stroke="#000" stroke-width="0.3">2</text>
<line x1="318.1" y1="691.1" x2="321.1" y2="691.1" stroke="#222" stroke-width="1.4"/>
<text x="312.7" y="694.92" font-size="10.6" font-weight="bold" text-anchor="end" fill="#000"  stroke="#000" stroke-width="0.3">1</text>
<line x1="318.1" y1="707.2" x2="321.1" y2="707.2" stroke="#222" stroke-width="1.4"/>
<text x="312.7" y="711.02" font-size="10.6" font-weight="bold" text-anchor="end" fill="#000"  stroke="#000" stroke-width="0.3">0</text>
<rect x="337.2" y="653.9" width="22" height="53.3" fill="#fff" stroke="#222" stroke-width="1.2"/>
<rect x="391.75" y="687" width="22.75" height="20.2" fill="#000" stroke="#000" stroke-width="1"/>
<rect x="446.9" y="658.3" width="22.1" height="48.9" fill="#8c8c8c" stroke="#111" stroke-width="1.2"/>
<path d="M348.75 653.75V641.25M346.75 641.25H350.75" stroke="#333" stroke-width="1" fill="none"/>
<path d="M402.5 687V683M400.5 683H404.5" stroke="#333" stroke-width="1" fill="none"/>
<path d="M458 658.3V656.25M456 656.25H460" stroke="#333" stroke-width="1" fill="none"/>
<text x="344.5" y="608.1" font-size="11.2" font-style="italic" textLength="8.6" lengthAdjust="spacingAndGlyphs">P</text>
<text x="355.9" y="608.1" font-size="11.2" font-weight="bold" stroke="#000" stroke-width="0.45">&lt;</text>
<text x="363.7" y="608.1" font-size="11.2" font-weight="bold" stroke="#000" stroke-width="0.12" textLength="22.7" lengthAdjust="spacingAndGlyphs">.001</text>
<path d="M343 620.25V615.25H398.75V620.25" stroke="#666" stroke-width="1" fill="none"/>
<text x="401.8" y="632.8" font-size="11.2" font-style="italic" textLength="8.6" lengthAdjust="spacingAndGlyphs">P</text>
<text x="412.9" y="632.8" font-size="11.2" font-weight="bold" stroke="#000" stroke-width="0.45">&lt;</text>
<text x="422.2" y="632.8" font-size="11.2" font-weight="bold" stroke="#000" stroke-width="0.12" textLength="22.8" lengthAdjust="spacingAndGlyphs">.001</text>
<path d="M398.75 644V639H458.75V644" stroke="#666" stroke-width="1" fill="none"/>
<text x="334.1" y="726.9" font-size="10.6" font-weight="bold" text-anchor="start" fill="#000" textLength="28.7" lengthAdjust="spacingAndGlyphs" >Sham</text>
<text x="378.1" y="726.9" font-size="10.6" font-weight="bold" text-anchor="start" fill="#000" textLength="50.9" lengthAdjust="spacingAndGlyphs" >CLP + IgG</text>
<text x="443.3" y="726.9" font-size="10.6" font-weight="bold" text-anchor="start" fill="#000" textLength="30.3" lengthAdjust="spacingAndGlyphs" >CLP +</text>
<text x="434.1" y="740.6" font-size="10.6" font-weight="bold" text-anchor="start" fill="#000" textLength="47.2" lengthAdjust="spacingAndGlyphs" >anti-GITR</text>
<text transform="translate(298.6,663.8) rotate(-90)" font-size="12.6" text-anchor="middle" stroke="#000" stroke-width="0.35" textLength="118" lengthAdjust="spacingAndGlyphs">KJI-26<tspan font-size="7.5" dy="-5">+</tspan><tspan dy="5"> T cells x 10</tspan><tspan font-size="7.5" dy="-5">6</tspan></text>
</svg>
</body></html>
